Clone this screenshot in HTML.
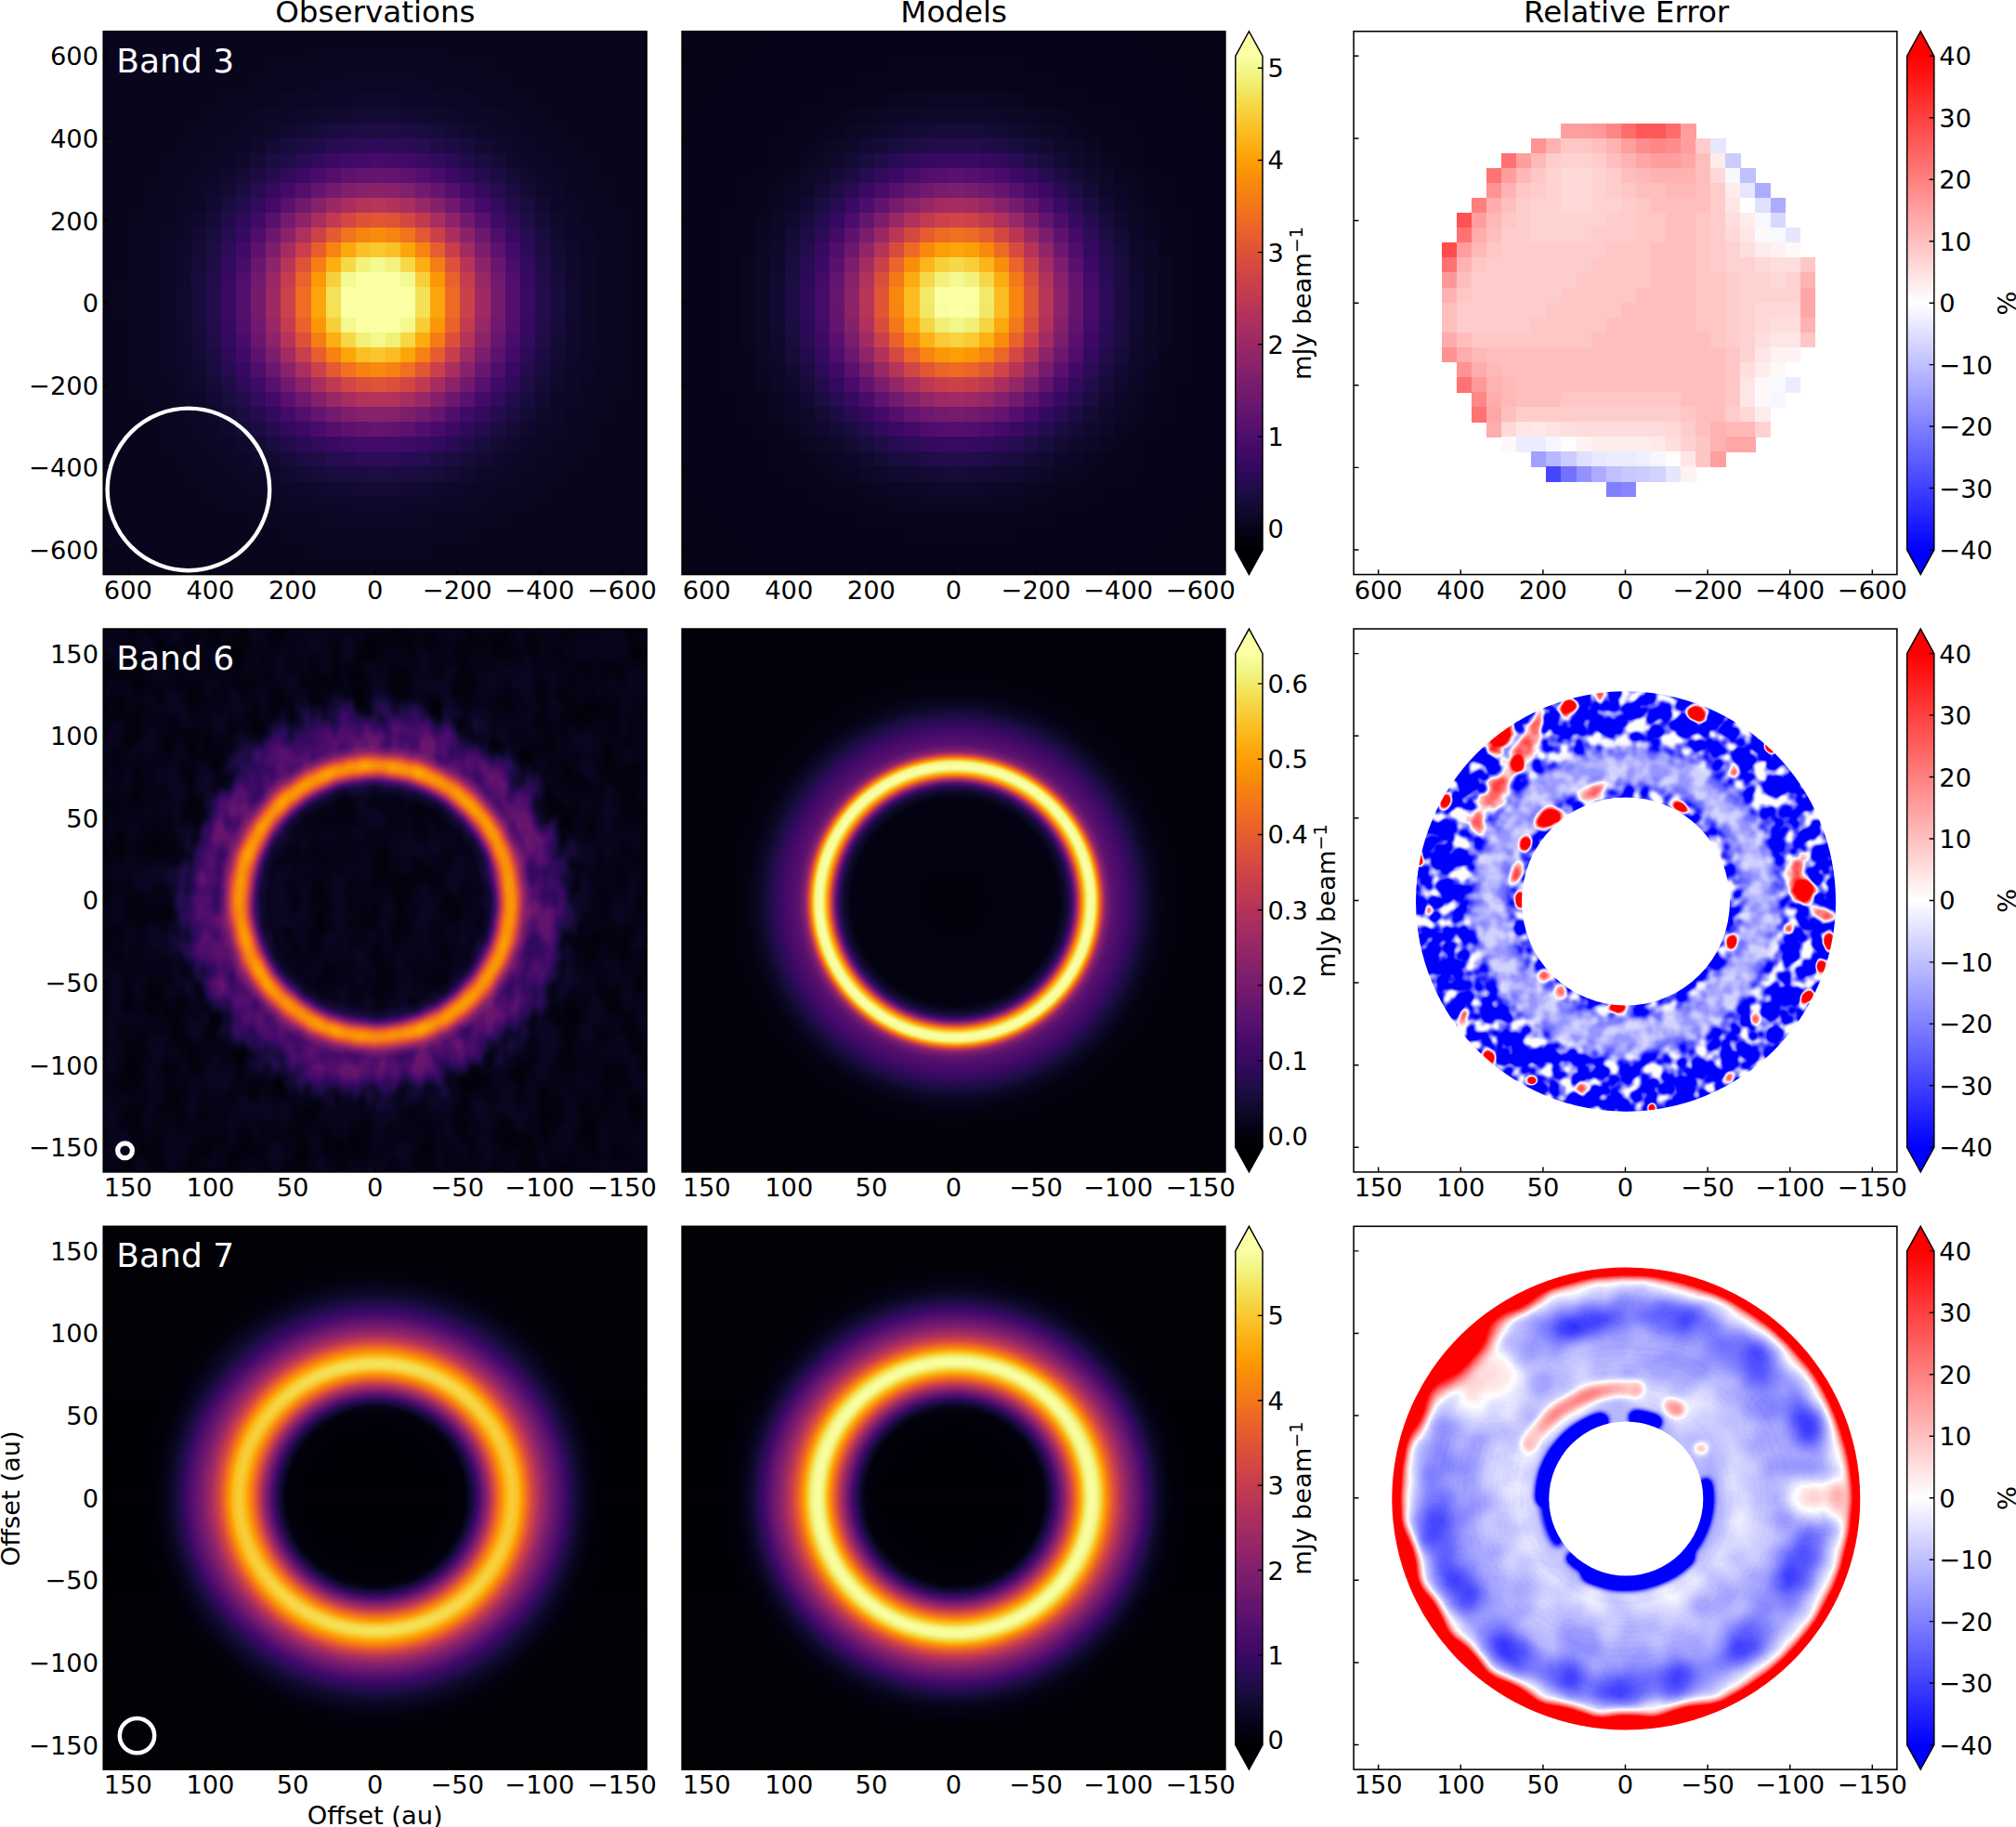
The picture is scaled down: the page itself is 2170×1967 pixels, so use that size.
<!DOCTYPE html>
<html lang="en"><head><meta charset="utf-8"><title>Observations, Models, Relative Error</title>
<style>html,body{margin:0;padding:0;background:#fff}svg{display:block}text{font-family:"DejaVu Sans","Liberation Sans",sans-serif}</style>
</head><body>
<svg width="2170" height="1967" viewBox="0 0 2170 1967">
<rect width="2170" height="1967" fill="#fff"/>
<defs>
<clipPath id="cl00"><rect x="111.25" y="33.75" width="584.8" height="584.8"/></clipPath>
<clipPath id="cl01"><rect x="734.1" y="33.75" width="584.8" height="584.8"/></clipPath>
<clipPath id="cl02"><rect x="1457.1" y="33.75" width="584.8" height="584.8"/></clipPath>
<clipPath id="cl10"><rect x="111.25" y="677.04" width="584.8" height="584.8"/></clipPath>
<clipPath id="cl11"><rect x="734.1" y="677.04" width="584.8" height="584.8"/></clipPath>
<clipPath id="cl12"><rect x="1457.1" y="677.04" width="584.8" height="584.8"/></clipPath>
<clipPath id="cl20"><rect x="111.25" y="1320.3" width="584.8" height="584.8"/></clipPath>
<clipPath id="cl21"><rect x="734.1" y="1320.3" width="584.8" height="584.8"/></clipPath>
<clipPath id="cl22"><rect x="1457.1" y="1320.3" width="584.8" height="584.8"/></clipPath>
<radialGradient id="g10" gradientUnits="userSpaceOnUse" cx="403.8" cy="970.5" r="420"><stop offset="0%" stop-color="#050900"/><stop offset="14.52%" stop-color="#060900"/><stop offset="27.14%" stop-color="#070900"/><stop offset="27.38%" stop-color="#080900"/><stop offset="27.62%" stop-color="#0a0900"/><stop offset="27.86%" stop-color="#0b0900"/><stop offset="28.1%" stop-color="#0c0900"/><stop offset="28.33%" stop-color="#0e0900"/><stop offset="28.57%" stop-color="#0f0900"/><stop offset="28.81%" stop-color="#100900"/><stop offset="29.05%" stop-color="#110900"/><stop offset="29.29%" stop-color="#130a00"/><stop offset="29.52%" stop-color="#150a00"/><stop offset="29.76%" stop-color="#180a00"/><stop offset="30%" stop-color="#1e0a00"/><stop offset="30.24%" stop-color="#240b00"/><stop offset="30.48%" stop-color="#2b0b00"/><stop offset="30.71%" stop-color="#310b00"/><stop offset="30.95%" stop-color="#390b00"/><stop offset="31.19%" stop-color="#430c00"/><stop offset="31.43%" stop-color="#4f0c00"/><stop offset="31.67%" stop-color="#5b0c00"/><stop offset="31.9%" stop-color="#670c00"/><stop offset="32.14%" stop-color="#730d00"/><stop offset="32.38%" stop-color="#7f0d00"/><stop offset="32.62%" stop-color="#8b0d00"/><stop offset="32.86%" stop-color="#960d00"/><stop offset="33.1%" stop-color="#9f0d00"/><stop offset="33.33%" stop-color="#a70d00"/><stop offset="33.57%" stop-color="#af0d00"/><stop offset="33.81%" stop-color="#b40d00"/><stop offset="34.05%" stop-color="#b80e00"/><stop offset="34.29%" stop-color="#ba0e00"/><stop offset="34.52%" stop-color="#bd0e00"/><stop offset="34.76%" stop-color="#be0e00"/><stop offset="35%" stop-color="#bd0e00"/><stop offset="35.24%" stop-color="#ba0e00"/><stop offset="35.48%" stop-color="#b70e00"/><stop offset="35.71%" stop-color="#b40e00"/><stop offset="35.95%" stop-color="#ae0e00"/><stop offset="36.19%" stop-color="#a60e00"/><stop offset="36.43%" stop-color="#9e0f00"/><stop offset="36.67%" stop-color="#960f00"/><stop offset="36.9%" stop-color="#8d0f00"/><stop offset="37.14%" stop-color="#830f00"/><stop offset="37.38%" stop-color="#7a0f00"/><stop offset="37.62%" stop-color="#700f00"/><stop offset="37.86%" stop-color="#680f00"/><stop offset="38.1%" stop-color="#600f00"/><stop offset="38.33%" stop-color="#571100"/><stop offset="38.57%" stop-color="#4f1300"/><stop offset="38.81%" stop-color="#491500"/><stop offset="39.05%" stop-color="#441600"/><stop offset="39.29%" stop-color="#3f1800"/><stop offset="39.52%" stop-color="#3b1a00"/><stop offset="39.76%" stop-color="#361c00"/><stop offset="40%" stop-color="#321e00"/><stop offset="40.24%" stop-color="#2e1f00"/><stop offset="40.48%" stop-color="#2c2100"/><stop offset="41.19%" stop-color="#2b2100"/><stop offset="41.9%" stop-color="#2a2100"/><stop offset="42.62%" stop-color="#292100"/><stop offset="43.33%" stop-color="#282100"/><stop offset="44.05%" stop-color="#272100"/><stop offset="44.76%" stop-color="#262100"/><stop offset="45%" stop-color="#252100"/><stop offset="45.24%" stop-color="#232100"/><stop offset="45.48%" stop-color="#222100"/><stop offset="45.71%" stop-color="#202100"/><stop offset="45.95%" stop-color="#1f2100"/><stop offset="46.19%" stop-color="#1d2100"/><stop offset="46.43%" stop-color="#1c2100"/><stop offset="46.67%" stop-color="#1a2100"/><stop offset="46.9%" stop-color="#192100"/><stop offset="47.14%" stop-color="#172100"/><stop offset="47.38%" stop-color="#162100"/><stop offset="47.62%" stop-color="#142100"/><stop offset="47.86%" stop-color="#132100"/><stop offset="48.1%" stop-color="#112100"/><stop offset="48.33%" stop-color="#102100"/><stop offset="48.57%" stop-color="#0e2100"/><stop offset="48.81%" stop-color="#0d2100"/><stop offset="49.05%" stop-color="#0c2000"/><stop offset="49.29%" stop-color="#0b1f00"/><stop offset="49.52%" stop-color="#0a1e00"/><stop offset="49.76%" stop-color="#091d00"/><stop offset="50%" stop-color="#081d00"/><stop offset="50.24%" stop-color="#071c00"/><stop offset="50.48%" stop-color="#061b00"/><stop offset="50.71%" stop-color="#061a00"/><stop offset="50.95%" stop-color="#061900"/><stop offset="51.19%" stop-color="#051800"/><stop offset="51.43%" stop-color="#051700"/><stop offset="51.67%" stop-color="#051600"/><stop offset="51.9%" stop-color="#051500"/><stop offset="52.14%" stop-color="#051400"/><stop offset="52.38%" stop-color="#051300"/><stop offset="52.62%" stop-color="#051200"/><stop offset="52.86%" stop-color="#041200"/><stop offset="53.1%" stop-color="#041100"/><stop offset="53.33%" stop-color="#041000"/><stop offset="53.57%" stop-color="#040f00"/><stop offset="53.81%" stop-color="#040e00"/><stop offset="54.05%" stop-color="#050d00"/><stop offset="54.29%" stop-color="#050c00"/><stop offset="54.52%" stop-color="#060b00"/><stop offset="54.76%" stop-color="#060a00"/><stop offset="56.67%" stop-color="#050a00"/><stop offset="79.76%" stop-color="#050900"/><stop offset="100%" stop-color="#050900"/></radialGradient>
<filter id="f10" filterUnits="userSpaceOnUse" x="111.25" y="677.04" width="584.8" height="584.8" color-interpolation-filters="sRGB"><feTurbulence type="fractalNoise" baseFrequency="0.045 0.028" numOctaves="2" seed="3" result="t"/><feColorMatrix in="t" type="matrix" values="0 0 0 0 1  2.4 0 0 0 -0.7  0 0 0 0 0  0 0 0 0 1" result="n"/><feComposite in="SourceGraphic" in2="n" operator="arithmetic" k1="1" k2="0" k3="0" k4="0" result="p"/><feColorMatrix in="p" type="matrix" values="1 1 0 0 0  1 1 0 0 0  1 1 0 0 0  0 0 0 0 1" result="v"/><feComponentTransfer in="v"><feFuncR type="table" tableValues="0 0.01 0.03 0.06 0.09 0.13 0.17 0.21 0.26 0.3 0.34 0.38 0.42 0.46 0.5 0.54 0.58 0.62 0.66 0.69 0.74 0.77 0.8 0.84 0.87 0.89 0.92 0.94 0.95 0.97 0.98 0.98 0.99 0.99 0.98 0.97 0.96 0.95 0.95 0.96 0.99"/><feFuncG type="table" tableValues="0 0.01 0.02 0.03 0.04 0.05 0.04 0.04 0.04 0.05 0.06 0.08 0.09 0.11 0.12 0.13 0.15 0.16 0.18 0.2 0.22 0.24 0.26 0.29 0.32 0.35 0.39 0.42 0.47 0.51 0.56 0.6 0.65 0.7 0.74 0.8 0.84 0.89 0.94 0.97 1"/><feFuncB type="table" tableValues="0.01 0.06 0.11 0.17 0.22 0.29 0.34 0.38 0.41 0.42 0.43 0.43 0.43 0.43 0.42 0.42 0.4 0.39 0.37 0.35 0.33 0.31 0.28 0.25 0.23 0.19 0.16 0.14 0.1 0.07 0.03 0.02 0.04 0.09 0.14 0.21 0.27 0.35 0.46 0.56 0.64"/></feComponentTransfer></filter>
<radialGradient id="g11" gradientUnits="userSpaceOnUse" cx="1028" cy="970.8" r="420"><stop offset="0%" stop-color="#02020c"/><stop offset="9.29%" stop-color="#02020e"/><stop offset="26.43%" stop-color="#030210"/><stop offset="26.79%" stop-color="#040314"/><stop offset="27.14%" stop-color="#060419"/><stop offset="27.5%" stop-color="#09061f"/><stop offset="27.86%" stop-color="#0b0724"/><stop offset="28.21%" stop-color="#0e092b"/><stop offset="28.57%" stop-color="#120a32"/><stop offset="28.93%" stop-color="#180c3c"/><stop offset="29.29%" stop-color="#210c4a"/><stop offset="29.64%" stop-color="#310a5c"/><stop offset="30%" stop-color="#420a68"/><stop offset="30.36%" stop-color="#550f6d"/><stop offset="30.71%" stop-color="#6f196e"/><stop offset="31.07%" stop-color="#8f2469"/><stop offset="31.43%" stop-color="#b1325a"/><stop offset="31.79%" stop-color="#d34743"/><stop offset="32.14%" stop-color="#eb6628"/><stop offset="32.5%" stop-color="#f8890c"/><stop offset="32.86%" stop-color="#fca80d"/><stop offset="33.21%" stop-color="#f9c72f"/><stop offset="33.57%" stop-color="#f2e661"/><stop offset="33.93%" stop-color="#f4f88e"/><stop offset="34.29%" stop-color="#fafda1"/><stop offset="34.64%" stop-color="#fcffa4"/><stop offset="35.71%" stop-color="#f5f992"/><stop offset="36.07%" stop-color="#f3e35a"/><stop offset="36.43%" stop-color="#fbba1f"/><stop offset="36.79%" stop-color="#fa9008"/><stop offset="37.14%" stop-color="#ee6a24"/><stop offset="37.5%" stop-color="#d84c3e"/><stop offset="37.86%" stop-color="#bc3754"/><stop offset="38.21%" stop-color="#a02a63"/><stop offset="38.57%" stop-color="#88226a"/><stop offset="38.93%" stop-color="#7a1d6d"/><stop offset="39.29%" stop-color="#721a6e"/><stop offset="39.64%" stop-color="#69166e"/><stop offset="40%" stop-color="#61136e"/><stop offset="40.36%" stop-color="#5a116e"/><stop offset="40.71%" stop-color="#57106e"/><stop offset="41.07%" stop-color="#540f6d"/><stop offset="41.43%" stop-color="#520e6d"/><stop offset="41.79%" stop-color="#4f0d6c"/><stop offset="42.14%" stop-color="#4d0d6c"/><stop offset="42.5%" stop-color="#4a0c6b"/><stop offset="42.86%" stop-color="#490b6a"/><stop offset="43.21%" stop-color="#450a69"/><stop offset="43.57%" stop-color="#440a68"/><stop offset="43.93%" stop-color="#400a67"/><stop offset="44.29%" stop-color="#3d0965"/><stop offset="44.64%" stop-color="#390963"/><stop offset="45%" stop-color="#360961"/><stop offset="45.36%" stop-color="#320a5e"/><stop offset="45.71%" stop-color="#2f0a5b"/><stop offset="46.07%" stop-color="#2b0b57"/><stop offset="46.43%" stop-color="#280b53"/><stop offset="46.79%" stop-color="#240c4f"/><stop offset="47.14%" stop-color="#210c4a"/><stop offset="47.5%" stop-color="#1e0c45"/><stop offset="47.86%" stop-color="#1b0c41"/><stop offset="48.21%" stop-color="#180c3c"/><stop offset="48.57%" stop-color="#160b39"/><stop offset="48.93%" stop-color="#140b34"/><stop offset="49.29%" stop-color="#110a30"/><stop offset="49.64%" stop-color="#10092d"/><stop offset="50%" stop-color="#0d0829"/><stop offset="50.36%" stop-color="#0b0724"/><stop offset="50.71%" stop-color="#0a0722"/><stop offset="51.07%" stop-color="#09061f"/><stop offset="51.43%" stop-color="#08051d"/><stop offset="51.79%" stop-color="#07051b"/><stop offset="52.14%" stop-color="#060419"/><stop offset="52.86%" stop-color="#050417"/><stop offset="53.21%" stop-color="#040314"/><stop offset="53.93%" stop-color="#040312"/><stop offset="54.29%" stop-color="#030210"/><stop offset="56.43%" stop-color="#02020e"/><stop offset="59.29%" stop-color="#02020c"/><stop offset="100%" stop-color="#02020c"/></radialGradient>
<radialGradient id="g20v" gradientUnits="userSpaceOnUse" cx="404.5" cy="1612" r="420"><stop offset="0%" stop-color="#010106"/><stop offset="18.57%" stop-color="#010108"/><stop offset="21.79%" stop-color="#02020c"/><stop offset="22.14%" stop-color="#030210"/><stop offset="22.5%" stop-color="#050417"/><stop offset="22.86%" stop-color="#09061f"/><stop offset="23.21%" stop-color="#0d0829"/><stop offset="23.57%" stop-color="#120a32"/><stop offset="23.93%" stop-color="#1b0c41"/><stop offset="24.29%" stop-color="#260c51"/><stop offset="24.64%" stop-color="#310a5c"/><stop offset="25%" stop-color="#3d0965"/><stop offset="25.36%" stop-color="#490b6a"/><stop offset="25.71%" stop-color="#550f6d"/><stop offset="26.07%" stop-color="#62146e"/><stop offset="26.43%" stop-color="#6f196e"/><stop offset="26.79%" stop-color="#7d1e6d"/><stop offset="27.14%" stop-color="#8c2369"/><stop offset="27.5%" stop-color="#9a2865"/><stop offset="27.86%" stop-color="#a62d60"/><stop offset="28.21%" stop-color="#b43359"/><stop offset="28.57%" stop-color="#c03a51"/><stop offset="28.93%" stop-color="#cc4248"/><stop offset="29.29%" stop-color="#d84c3e"/><stop offset="29.64%" stop-color="#e35933"/><stop offset="30%" stop-color="#eb6628"/><stop offset="30.36%" stop-color="#f2741c"/><stop offset="30.71%" stop-color="#f68013"/><stop offset="31.07%" stop-color="#f98c0a"/><stop offset="31.43%" stop-color="#fb9b06"/><stop offset="31.79%" stop-color="#fca80d"/><stop offset="32.14%" stop-color="#fbb81d"/><stop offset="32.5%" stop-color="#f9c72f"/><stop offset="32.86%" stop-color="#f6d543"/><stop offset="33.21%" stop-color="#f4dd4f"/><stop offset="33.57%" stop-color="#f3e35a"/><stop offset="33.93%" stop-color="#f2e661"/><stop offset="34.64%" stop-color="#f3e35a"/><stop offset="35%" stop-color="#f4dd4f"/><stop offset="35.36%" stop-color="#f6d543"/><stop offset="35.71%" stop-color="#f9c932"/><stop offset="36.07%" stop-color="#fbbe23"/><stop offset="36.43%" stop-color="#fcb014"/><stop offset="36.79%" stop-color="#fca50a"/><stop offset="37.14%" stop-color="#fb9706"/><stop offset="37.5%" stop-color="#f98c0a"/><stop offset="37.86%" stop-color="#f68013"/><stop offset="38.21%" stop-color="#f2741c"/><stop offset="38.57%" stop-color="#ed6925"/><stop offset="38.93%" stop-color="#e65d2f"/><stop offset="39.29%" stop-color="#df5337"/><stop offset="39.64%" stop-color="#d54a41"/><stop offset="40%" stop-color="#cc4248"/><stop offset="40.36%" stop-color="#c33b4f"/><stop offset="40.71%" stop-color="#b93556"/><stop offset="41.07%" stop-color="#b0315b"/><stop offset="41.43%" stop-color="#a62d60"/><stop offset="41.79%" stop-color="#9f2a63"/><stop offset="42.14%" stop-color="#972766"/><stop offset="42.5%" stop-color="#8d2369"/><stop offset="42.86%" stop-color="#87216b"/><stop offset="43.21%" stop-color="#801f6c"/><stop offset="43.57%" stop-color="#7a1d6d"/><stop offset="43.93%" stop-color="#741a6e"/><stop offset="44.29%" stop-color="#6d186e"/><stop offset="44.64%" stop-color="#67166e"/><stop offset="45%" stop-color="#61136e"/><stop offset="45.36%" stop-color="#5c126e"/><stop offset="45.71%" stop-color="#550f6d"/><stop offset="46.07%" stop-color="#510e6c"/><stop offset="46.43%" stop-color="#4c0c6b"/><stop offset="46.79%" stop-color="#450a69"/><stop offset="47.14%" stop-color="#400a67"/><stop offset="47.5%" stop-color="#3b0964"/><stop offset="47.86%" stop-color="#380962"/><stop offset="48.21%" stop-color="#320a5e"/><stop offset="48.57%" stop-color="#2f0a5b"/><stop offset="48.93%" stop-color="#290b55"/><stop offset="49.29%" stop-color="#260c51"/><stop offset="49.64%" stop-color="#210c4a"/><stop offset="50%" stop-color="#1e0c45"/><stop offset="50.36%" stop-color="#1b0c41"/><stop offset="50.71%" stop-color="#180c3c"/><stop offset="51.07%" stop-color="#150b37"/><stop offset="51.43%" stop-color="#120a32"/><stop offset="51.79%" stop-color="#110a30"/><stop offset="52.14%" stop-color="#0e092b"/><stop offset="52.5%" stop-color="#0c0826"/><stop offset="52.86%" stop-color="#0b0724"/><stop offset="53.21%" stop-color="#0a0722"/><stop offset="53.57%" stop-color="#09061f"/><stop offset="53.93%" stop-color="#08051d"/><stop offset="54.29%" stop-color="#07051b"/><stop offset="54.64%" stop-color="#060419"/><stop offset="55%" stop-color="#050417"/><stop offset="55.36%" stop-color="#040314"/><stop offset="55.71%" stop-color="#040312"/><stop offset="56.07%" stop-color="#030210"/><stop offset="56.79%" stop-color="#02020e"/><stop offset="58.21%" stop-color="#02020c"/><stop offset="59.29%" stop-color="#02010a"/><stop offset="60.36%" stop-color="#010108"/><stop offset="61.43%" stop-color="#010106"/><stop offset="100%" stop-color="#010106"/></radialGradient>
<radialGradient id="g21v" gradientUnits="userSpaceOnUse" cx="1027.5" cy="1612" r="420"><stop offset="0%" stop-color="#010106"/><stop offset="18.57%" stop-color="#010108"/><stop offset="21.79%" stop-color="#02020c"/><stop offset="22.14%" stop-color="#030210"/><stop offset="22.5%" stop-color="#050417"/><stop offset="22.86%" stop-color="#08051d"/><stop offset="23.21%" stop-color="#0b0724"/><stop offset="23.57%" stop-color="#10092d"/><stop offset="23.93%" stop-color="#160b39"/><stop offset="24.29%" stop-color="#1e0c45"/><stop offset="24.64%" stop-color="#280b53"/><stop offset="25%" stop-color="#320a5e"/><stop offset="25.36%" stop-color="#400a67"/><stop offset="25.71%" stop-color="#4d0d6c"/><stop offset="26.07%" stop-color="#5a116e"/><stop offset="26.43%" stop-color="#67166e"/><stop offset="26.79%" stop-color="#751b6e"/><stop offset="27.14%" stop-color="#84206b"/><stop offset="27.5%" stop-color="#922568"/><stop offset="27.86%" stop-color="#a02a63"/><stop offset="28.21%" stop-color="#ad305d"/><stop offset="28.57%" stop-color="#ba3655"/><stop offset="28.93%" stop-color="#c83f4b"/><stop offset="29.29%" stop-color="#d44842"/><stop offset="29.64%" stop-color="#e05536"/><stop offset="30%" stop-color="#e9612b"/><stop offset="30.36%" stop-color="#f06f20"/><stop offset="30.71%" stop-color="#f67e14"/><stop offset="31.07%" stop-color="#f98e09"/><stop offset="31.43%" stop-color="#fb9d07"/><stop offset="31.79%" stop-color="#fcae12"/><stop offset="32.14%" stop-color="#fbbe23"/><stop offset="32.5%" stop-color="#f8cd37"/><stop offset="32.86%" stop-color="#f5db4c"/><stop offset="33.21%" stop-color="#f2ea69"/><stop offset="33.57%" stop-color="#f2f482"/><stop offset="33.93%" stop-color="#f5f992"/><stop offset="34.29%" stop-color="#f9fc9d"/><stop offset="34.64%" stop-color="#fafda1"/><stop offset="35.36%" stop-color="#f8fb9a"/><stop offset="35.71%" stop-color="#f4f88e"/><stop offset="36.07%" stop-color="#f1ef75"/><stop offset="36.43%" stop-color="#f3e35a"/><stop offset="36.79%" stop-color="#f6d543"/><stop offset="37.14%" stop-color="#fac42a"/><stop offset="37.5%" stop-color="#fcb014"/><stop offset="37.86%" stop-color="#fc9f07"/><stop offset="38.21%" stop-color="#f98c0a"/><stop offset="38.57%" stop-color="#f57d15"/><stop offset="38.93%" stop-color="#f06f20"/><stop offset="39.29%" stop-color="#e9612b"/><stop offset="39.64%" stop-color="#e15635"/><stop offset="40%" stop-color="#d94d3d"/><stop offset="40.36%" stop-color="#cf4446"/><stop offset="40.71%" stop-color="#c63d4d"/><stop offset="41.07%" stop-color="#bd3853"/><stop offset="41.43%" stop-color="#b43359"/><stop offset="41.79%" stop-color="#ab2f5e"/><stop offset="42.14%" stop-color="#a32c61"/><stop offset="42.5%" stop-color="#9a2865"/><stop offset="42.86%" stop-color="#932667"/><stop offset="43.21%" stop-color="#8c2369"/><stop offset="43.57%" stop-color="#84206b"/><stop offset="43.93%" stop-color="#7d1e6d"/><stop offset="44.29%" stop-color="#771c6d"/><stop offset="44.64%" stop-color="#71196e"/><stop offset="45%" stop-color="#6a176e"/><stop offset="45.36%" stop-color="#65156e"/><stop offset="45.71%" stop-color="#5f136e"/><stop offset="46.07%" stop-color="#5a116e"/><stop offset="46.43%" stop-color="#550f6d"/><stop offset="46.79%" stop-color="#4f0d6c"/><stop offset="47.14%" stop-color="#4a0c6b"/><stop offset="47.5%" stop-color="#450a69"/><stop offset="47.86%" stop-color="#3e0966"/><stop offset="48.21%" stop-color="#390963"/><stop offset="48.57%" stop-color="#340a5f"/><stop offset="48.93%" stop-color="#2f0a5b"/><stop offset="49.29%" stop-color="#290b55"/><stop offset="49.64%" stop-color="#240c4f"/><stop offset="50%" stop-color="#210c4a"/><stop offset="50.36%" stop-color="#1c0c43"/><stop offset="50.71%" stop-color="#190c3e"/><stop offset="51.07%" stop-color="#150b37"/><stop offset="51.43%" stop-color="#120a32"/><stop offset="51.79%" stop-color="#10092d"/><stop offset="52.14%" stop-color="#0e092b"/><stop offset="52.5%" stop-color="#0c0826"/><stop offset="52.86%" stop-color="#0a0722"/><stop offset="53.21%" stop-color="#09061f"/><stop offset="53.57%" stop-color="#07051b"/><stop offset="53.93%" stop-color="#060419"/><stop offset="54.29%" stop-color="#050417"/><stop offset="54.64%" stop-color="#040314"/><stop offset="55.36%" stop-color="#040312"/><stop offset="56.07%" stop-color="#030210"/><stop offset="56.79%" stop-color="#02020e"/><stop offset="57.5%" stop-color="#02020c"/><stop offset="58.21%" stop-color="#02010a"/><stop offset="58.93%" stop-color="#010108"/><stop offset="65.36%" stop-color="#010106"/><stop offset="100%" stop-color="#010106"/></radialGradient>
<linearGradient id="vmg" gradientUnits="userSpaceOnUse" x1="0" y1="1462" x2="0" y2="1762"><stop offset="0" stop-color="#ffffff"/><stop offset="0.08" stop-color="#b1b1b1"/><stop offset="0.17" stop-color="#717171"/><stop offset="0.25" stop-color="#404040"/><stop offset="0.33" stop-color="#1c1c1c"/><stop offset="0.42" stop-color="#070707"/><stop offset="0.5" stop-color="#000000"/><stop offset="0.58" stop-color="#070707"/><stop offset="0.67" stop-color="#1c1c1c"/><stop offset="0.75" stop-color="#404040"/><stop offset="0.83" stop-color="#717171"/><stop offset="0.92" stop-color="#b1b1b1"/><stop offset="1" stop-color="#ffffff"/></linearGradient>
<mask id="vm" maskUnits="userSpaceOnUse" x="100" y="1320.3" width="1230" height="584.8"><rect x="100" y="1320.3" width="1230" height="584.8" fill="url(#vmg)"/></mask>
<radialGradient id="g20" gradientUnits="userSpaceOnUse" cx="404.5" cy="1612" r="420"><stop offset="0%" stop-color="#010106"/><stop offset="19.64%" stop-color="#010108"/><stop offset="22.86%" stop-color="#02020e"/><stop offset="23.21%" stop-color="#040314"/><stop offset="23.57%" stop-color="#08051d"/><stop offset="23.93%" stop-color="#0c0826"/><stop offset="24.29%" stop-color="#110a30"/><stop offset="24.64%" stop-color="#160b39"/><stop offset="25%" stop-color="#1c0c43"/><stop offset="25.36%" stop-color="#260c51"/><stop offset="25.71%" stop-color="#310a5c"/><stop offset="26.07%" stop-color="#3d0965"/><stop offset="26.43%" stop-color="#490b6a"/><stop offset="26.79%" stop-color="#520e6d"/><stop offset="27.14%" stop-color="#5f136e"/><stop offset="27.5%" stop-color="#6a176e"/><stop offset="27.86%" stop-color="#771c6d"/><stop offset="28.21%" stop-color="#84206b"/><stop offset="28.57%" stop-color="#902568"/><stop offset="28.93%" stop-color="#9f2a63"/><stop offset="29.29%" stop-color="#ae305c"/><stop offset="29.64%" stop-color="#bd3853"/><stop offset="30%" stop-color="#cb4149"/><stop offset="30.36%" stop-color="#d84c3e"/><stop offset="30.71%" stop-color="#e25734"/><stop offset="31.07%" stop-color="#ea632a"/><stop offset="31.43%" stop-color="#f06f20"/><stop offset="31.79%" stop-color="#f57b17"/><stop offset="32.14%" stop-color="#f8890c"/><stop offset="32.5%" stop-color="#fb9606"/><stop offset="32.86%" stop-color="#fca108"/><stop offset="33.21%" stop-color="#fcae12"/><stop offset="33.57%" stop-color="#fbb81d"/><stop offset="33.93%" stop-color="#fac026"/><stop offset="34.29%" stop-color="#fac62d"/><stop offset="34.64%" stop-color="#f9cb35"/><stop offset="35%" stop-color="#f8cd37"/><stop offset="35.36%" stop-color="#f9cb35"/><stop offset="35.71%" stop-color="#f9c72f"/><stop offset="36.07%" stop-color="#fac42a"/><stop offset="36.43%" stop-color="#fbbe23"/><stop offset="36.79%" stop-color="#fcb418"/><stop offset="37.14%" stop-color="#fca60c"/><stop offset="37.5%" stop-color="#fb9906"/><stop offset="37.86%" stop-color="#f98c0a"/><stop offset="38.21%" stop-color="#f68013"/><stop offset="38.57%" stop-color="#f1731d"/><stop offset="38.93%" stop-color="#eb6628"/><stop offset="39.29%" stop-color="#e55c30"/><stop offset="39.64%" stop-color="#de5238"/><stop offset="40%" stop-color="#d54a41"/><stop offset="40.36%" stop-color="#ce4347"/><stop offset="40.71%" stop-color="#c73e4c"/><stop offset="41.07%" stop-color="#bf3952"/><stop offset="41.43%" stop-color="#b63458"/><stop offset="41.79%" stop-color="#ad305d"/><stop offset="42.14%" stop-color="#a52c60"/><stop offset="42.5%" stop-color="#9d2964"/><stop offset="42.86%" stop-color="#972766"/><stop offset="43.21%" stop-color="#902568"/><stop offset="43.57%" stop-color="#8a226a"/><stop offset="43.93%" stop-color="#84206b"/><stop offset="44.29%" stop-color="#7d1e6d"/><stop offset="44.64%" stop-color="#771c6d"/><stop offset="45%" stop-color="#71196e"/><stop offset="45.36%" stop-color="#6c186e"/><stop offset="45.71%" stop-color="#67166e"/><stop offset="46.07%" stop-color="#62146e"/><stop offset="46.43%" stop-color="#5d126e"/><stop offset="46.79%" stop-color="#5a116e"/><stop offset="47.14%" stop-color="#550f6d"/><stop offset="47.5%" stop-color="#4f0d6c"/><stop offset="47.86%" stop-color="#4a0c6b"/><stop offset="48.21%" stop-color="#440a68"/><stop offset="48.57%" stop-color="#3e0966"/><stop offset="48.93%" stop-color="#380962"/><stop offset="49.29%" stop-color="#310a5c"/><stop offset="49.64%" stop-color="#2b0b57"/><stop offset="50%" stop-color="#260c51"/><stop offset="50.36%" stop-color="#210c4a"/><stop offset="50.71%" stop-color="#1e0c45"/><stop offset="51.07%" stop-color="#190c3e"/><stop offset="51.43%" stop-color="#160b39"/><stop offset="51.79%" stop-color="#140b34"/><stop offset="52.14%" stop-color="#10092d"/><stop offset="52.5%" stop-color="#0d0829"/><stop offset="52.86%" stop-color="#0b0724"/><stop offset="53.21%" stop-color="#0a0722"/><stop offset="53.57%" stop-color="#08051d"/><stop offset="53.93%" stop-color="#07051b"/><stop offset="54.29%" stop-color="#060419"/><stop offset="54.64%" stop-color="#050417"/><stop offset="55%" stop-color="#040314"/><stop offset="55.36%" stop-color="#040312"/><stop offset="55.71%" stop-color="#030210"/><stop offset="56.07%" stop-color="#02020c"/><stop offset="56.79%" stop-color="#02010a"/><stop offset="58.93%" stop-color="#010108"/><stop offset="61.07%" stop-color="#010106"/><stop offset="100%" stop-color="#010106"/></radialGradient>
<radialGradient id="g21" gradientUnits="userSpaceOnUse" cx="1027.5" cy="1612" r="420"><stop offset="0%" stop-color="#010106"/><stop offset="19.29%" stop-color="#010108"/><stop offset="22.5%" stop-color="#02020c"/><stop offset="22.86%" stop-color="#040312"/><stop offset="23.21%" stop-color="#060419"/><stop offset="23.57%" stop-color="#0a0722"/><stop offset="23.93%" stop-color="#0e092b"/><stop offset="24.29%" stop-color="#140b34"/><stop offset="24.64%" stop-color="#1b0c41"/><stop offset="25%" stop-color="#240c4f"/><stop offset="25.36%" stop-color="#2f0a5b"/><stop offset="25.71%" stop-color="#390963"/><stop offset="26.07%" stop-color="#450a69"/><stop offset="26.43%" stop-color="#4f0d6c"/><stop offset="26.79%" stop-color="#5a116e"/><stop offset="27.14%" stop-color="#67166e"/><stop offset="27.5%" stop-color="#721a6e"/><stop offset="27.86%" stop-color="#7f1e6c"/><stop offset="28.21%" stop-color="#8c2369"/><stop offset="28.57%" stop-color="#982766"/><stop offset="28.93%" stop-color="#a82e5f"/><stop offset="29.29%" stop-color="#b63458"/><stop offset="29.64%" stop-color="#c43c4e"/><stop offset="30%" stop-color="#d24644"/><stop offset="30.36%" stop-color="#dd513a"/><stop offset="30.71%" stop-color="#e75e2e"/><stop offset="31.07%" stop-color="#ef6c23"/><stop offset="31.43%" stop-color="#f57d15"/><stop offset="31.79%" stop-color="#f98e09"/><stop offset="32.14%" stop-color="#fc9f07"/><stop offset="32.5%" stop-color="#fcb216"/><stop offset="32.86%" stop-color="#fac62d"/><stop offset="33.21%" stop-color="#f5d949"/><stop offset="33.57%" stop-color="#f2ea69"/><stop offset="33.93%" stop-color="#f3f586"/><stop offset="34.29%" stop-color="#f5f992"/><stop offset="34.64%" stop-color="#f9fc9d"/><stop offset="35%" stop-color="#fafda1"/><stop offset="35.71%" stop-color="#f9fc9d"/><stop offset="36.07%" stop-color="#f6fa96"/><stop offset="36.43%" stop-color="#f3f68a"/><stop offset="36.79%" stop-color="#f1f179"/><stop offset="37.14%" stop-color="#f3e35a"/><stop offset="37.5%" stop-color="#f7d340"/><stop offset="37.86%" stop-color="#fac228"/><stop offset="38.21%" stop-color="#fcb216"/><stop offset="38.57%" stop-color="#fca108"/><stop offset="38.93%" stop-color="#fa9207"/><stop offset="39.29%" stop-color="#f78212"/><stop offset="39.64%" stop-color="#f2741c"/><stop offset="40%" stop-color="#ec6726"/><stop offset="40.36%" stop-color="#e65d2f"/><stop offset="40.71%" stop-color="#df5337"/><stop offset="41.07%" stop-color="#d84c3e"/><stop offset="41.43%" stop-color="#cf4446"/><stop offset="41.79%" stop-color="#c73e4c"/><stop offset="42.14%" stop-color="#bf3952"/><stop offset="42.5%" stop-color="#b63458"/><stop offset="42.86%" stop-color="#ae305c"/><stop offset="43.21%" stop-color="#a62d60"/><stop offset="43.57%" stop-color="#9f2a63"/><stop offset="43.93%" stop-color="#972766"/><stop offset="44.29%" stop-color="#8f2469"/><stop offset="44.64%" stop-color="#87216b"/><stop offset="45%" stop-color="#82206c"/><stop offset="45.36%" stop-color="#7c1d6d"/><stop offset="45.71%" stop-color="#751b6e"/><stop offset="46.07%" stop-color="#71196e"/><stop offset="46.43%" stop-color="#6a176e"/><stop offset="46.79%" stop-color="#64156e"/><stop offset="47.14%" stop-color="#5f136e"/><stop offset="47.5%" stop-color="#59106e"/><stop offset="47.86%" stop-color="#520e6d"/><stop offset="48.21%" stop-color="#4c0c6b"/><stop offset="48.57%" stop-color="#450a69"/><stop offset="48.93%" stop-color="#3e0966"/><stop offset="49.29%" stop-color="#390963"/><stop offset="49.64%" stop-color="#320a5e"/><stop offset="50%" stop-color="#2d0b59"/><stop offset="50.36%" stop-color="#280b53"/><stop offset="50.71%" stop-color="#230c4c"/><stop offset="51.07%" stop-color="#1e0c45"/><stop offset="51.43%" stop-color="#180c3c"/><stop offset="51.79%" stop-color="#140b34"/><stop offset="52.14%" stop-color="#10092d"/><stop offset="52.5%" stop-color="#0d0829"/><stop offset="52.86%" stop-color="#0c0826"/><stop offset="53.21%" stop-color="#0a0722"/><stop offset="53.57%" stop-color="#09061f"/><stop offset="53.93%" stop-color="#07051b"/><stop offset="54.29%" stop-color="#050417"/><stop offset="54.64%" stop-color="#040314"/><stop offset="55%" stop-color="#040312"/><stop offset="55.36%" stop-color="#030210"/><stop offset="56.07%" stop-color="#02020e"/><stop offset="57.14%" stop-color="#02020c"/><stop offset="58.21%" stop-color="#02010a"/><stop offset="59.29%" stop-color="#010108"/><stop offset="60.36%" stop-color="#010106"/><stop offset="100%" stop-color="#010106"/></radialGradient>
<radialGradient id="rb"><stop offset="0" stop-color="#ff0000"/><stop offset=".38" stop-color="#ff0000"/><stop offset=".55" stop-color="#ff8080"/><stop offset=".72" stop-color="#ffffff"/><stop offset="1" stop-color="#ffffff" stop-opacity="0"/></radialGradient>
<radialGradient id="pb"><stop offset="0" stop-color="#ff9090"/><stop offset=".35" stop-color="#ffb0b0"/><stop offset=".65" stop-color="#ffffff"/><stop offset="1" stop-color="#ffffff" stop-opacity="0"/></radialGradient>
<radialGradient id="wb"><stop offset="0" stop-color="#ffffff"/><stop offset=".45" stop-color="#ffffff"/><stop offset="1" stop-color="#ffffff" stop-opacity="0"/></radialGradient>
<radialGradient id="bb"><stop offset="0" stop-color="#0000ff"/><stop offset=".55" stop-color="#0000ff"/><stop offset="1" stop-color="#0000ff" stop-opacity="0"/></radialGradient>
<clipPath id="an2"><path clip-rule="evenodd" d="M1524 970.5a226 226 0 1 0 452 0a226 226 0 1 0 -452 0zM1638 970.5a112 112 0 1 0 224 0a112 112 0 1 0 -224 0z"/></clipPath>
<radialGradient id="e2" gradientUnits="userSpaceOnUse" cx="1750" cy="970.5" r="226"><stop offset="0%" stop-color="#3c4400"/><stop offset="49.56%" stop-color="#3c4400"/><stop offset="53.1%" stop-color="#463900"/><stop offset="57.08%" stop-color="#651500"/><stop offset="61.95%" stop-color="#6e0a00"/><stop offset="67.26%" stop-color="#6e0a00"/><stop offset="71.68%" stop-color="#641500"/><stop offset="76.11%" stop-color="#463900"/><stop offset="80.53%" stop-color="#344c00"/><stop offset="86.28%" stop-color="#295700"/><stop offset="100%" stop-color="#275900"/></radialGradient>
<filter id="f2" filterUnits="userSpaceOnUse" x="1518" y="738.5" width="464" height="464" color-interpolation-filters="sRGB"><feTurbulence type="fractalNoise" baseFrequency="0.062" numOctaves="2" seed="11" result="t"/><feColorMatrix in="t" type="matrix" values="0 0 0 0 1  2.8 0 0 0 -0.9  0 0 0 0 0  0 0 0 0 1" result="n"/><feComposite in="SourceGraphic" in2="n" operator="arithmetic" k1="1" k2="0" k3="0" k4="0" result="p"/><feColorMatrix in="p" type="matrix" values="1 1 0 0 0  1 1 0 0 0  1 1 0 0 0  0 0 0 0 1" result="v0"/><feGaussianBlur in="v0" stdDeviation="1.3" result="v"/><feComponentTransfer in="v"><feFuncR type="table" tableValues="0 0 0 0 0 .5 1 1 1 1 1 1 1"/><feFuncG type="table" tableValues="0 0 0 0 0 .5 1 .5 0 0 0 0 0"/><feFuncB type="table" tableValues="1 1 1 1 1 1 1 .5 0 0 0 0 0"/></feComponentTransfer></filter>
<radialGradient id="vb0"><stop offset="0" stop-color="#df0b00"/><stop offset="0.25" stop-color="#df0b00"/><stop offset="1" stop-color="#df0b00" stop-opacity="0"/></radialGradient>
<radialGradient id="vb1"><stop offset="0" stop-color="#940b00"/><stop offset="0.3" stop-color="#940b00"/><stop offset="1" stop-color="#940b00" stop-opacity="0"/></radialGradient>
<clipPath id="an3"><path clip-rule="evenodd" d="M1498.3 1613.5a252 249 0 1 0 504 0a252 249 0 1 0 -504 0zM1667.3 1613.5a83 83 0 1 0 166 0a83 83 0 1 0 -166 0z"/></clipPath>
<radialGradient id="e3" gradientUnits="userSpaceOnUse" cx="1750.3" cy="1613.5" r="256"><stop offset="0%" stop-color="#6e0800"/><stop offset="32.42%" stop-color="#6e0800"/><stop offset="37.5%" stop-color="#710800"/><stop offset="42.19%" stop-color="#750800"/><stop offset="46.88%" stop-color="#760800"/><stop offset="52.73%" stop-color="#720800"/><stop offset="62.5%" stop-color="#6e0800"/><stop offset="72.27%" stop-color="#6b0800"/><stop offset="78.12%" stop-color="#680800"/><stop offset="83.98%" stop-color="#6a0800"/><stop offset="88.67%" stop-color="#730800"/><stop offset="91.99%" stop-color="#7b0800"/><stop offset="94.34%" stop-color="#930800"/><stop offset="95.9%" stop-color="#bd0800"/><stop offset="100%" stop-color="#c60800"/></radialGradient>
<filter id="f3" filterUnits="userSpaceOnUse" x="1492.3" y="1355.5" width="516" height="516" color-interpolation-filters="sRGB"><feTurbulence type="fractalNoise" baseFrequency="0.022" numOctaves="2" seed="4" result="t"/><feColorMatrix in="t" type="matrix" values="0 0 0 0 1  2.4 0 0 0 -0.7  0 0 0 0 0  0 0 0 0 1" result="n"/><feGaussianBlur in="SourceGraphic" stdDeviation="3.2" result="sg"/><feComposite in="sg" in2="n" operator="arithmetic" k1="1" k2="0" k3="0" k4="0" result="p"/><feColorMatrix in="p" type="matrix" values="1 1 0 0 0  1 1 0 0 0  1 1 0 0 0  0 0 0 0 1" result="v0"/><feOffset in="v0" result="v"/><feComponentTransfer in="v"><feFuncR type="table" tableValues="0 0 0 0 0 .5 1 1 1 1 1 1 1"/><feFuncG type="table" tableValues="0 0 0 0 0 .5 1 .5 0 0 0 0 0"/><feFuncB type="table" tableValues="1 1 1 1 1 1 1 .5 0 0 0 0 0"/></feComponentTransfer></filter>
<radialGradient id="sg0"><stop offset="0" stop-color="#5c0800" stop-opacity="1"/><stop offset="0.2" stop-color="#5c0800" stop-opacity="0.92"/><stop offset="0.35" stop-color="#5c0800" stop-opacity="0.76"/><stop offset="0.5" stop-color="#5c0800" stop-opacity="0.52"/><stop offset="0.65" stop-color="#5c0800" stop-opacity="0.29"/><stop offset="0.8" stop-color="#5c0800" stop-opacity="0.12"/><stop offset="0.9" stop-color="#5c0800" stop-opacity="0.04"/><stop offset="1" stop-color="#5c0800" stop-opacity="0"/></radialGradient>
<radialGradient id="sg1"><stop offset="0" stop-color="#860800" stop-opacity="1"/><stop offset="0.2" stop-color="#860800" stop-opacity="0.92"/><stop offset="0.35" stop-color="#860800" stop-opacity="0.76"/><stop offset="0.5" stop-color="#860800" stop-opacity="0.52"/><stop offset="0.65" stop-color="#860800" stop-opacity="0.29"/><stop offset="0.8" stop-color="#860800" stop-opacity="0.12"/><stop offset="0.9" stop-color="#860800" stop-opacity="0.04"/><stop offset="1" stop-color="#860800" stop-opacity="0"/></radialGradient>
<radialGradient id="sg2"><stop offset="0" stop-color="#bd0800" stop-opacity="1"/><stop offset="0.2" stop-color="#bd0800" stop-opacity="0.92"/><stop offset="0.35" stop-color="#bd0800" stop-opacity="0.76"/><stop offset="0.5" stop-color="#bd0800" stop-opacity="0.52"/><stop offset="0.65" stop-color="#bd0800" stop-opacity="0.29"/><stop offset="0.8" stop-color="#bd0800" stop-opacity="0.12"/><stop offset="0.9" stop-color="#bd0800" stop-opacity="0.04"/><stop offset="1" stop-color="#bd0800" stop-opacity="0"/></radialGradient>
<radialGradient id="sg3"><stop offset="0" stop-color="#b00800" stop-opacity="1"/><stop offset="0.2" stop-color="#b00800" stop-opacity="0.92"/><stop offset="0.35" stop-color="#b00800" stop-opacity="0.76"/><stop offset="0.5" stop-color="#b00800" stop-opacity="0.52"/><stop offset="0.65" stop-color="#b00800" stop-opacity="0.29"/><stop offset="0.8" stop-color="#b00800" stop-opacity="0.12"/><stop offset="0.9" stop-color="#b00800" stop-opacity="0.04"/><stop offset="1" stop-color="#b00800" stop-opacity="0"/></radialGradient>
<radialGradient id="sg4"><stop offset="0" stop-color="#850800" stop-opacity="1"/><stop offset="0.2" stop-color="#850800" stop-opacity="0.92"/><stop offset="0.35" stop-color="#850800" stop-opacity="0.76"/><stop offset="0.5" stop-color="#850800" stop-opacity="0.52"/><stop offset="0.65" stop-color="#850800" stop-opacity="0.29"/><stop offset="0.8" stop-color="#850800" stop-opacity="0.12"/><stop offset="0.9" stop-color="#850800" stop-opacity="0.04"/><stop offset="1" stop-color="#850800" stop-opacity="0"/></radialGradient>
<radialGradient id="sg5"><stop offset="0" stop-color="#8a0800" stop-opacity="1"/><stop offset="0.2" stop-color="#8a0800" stop-opacity="0.92"/><stop offset="0.35" stop-color="#8a0800" stop-opacity="0.76"/><stop offset="0.5" stop-color="#8a0800" stop-opacity="0.52"/><stop offset="0.65" stop-color="#8a0800" stop-opacity="0.29"/><stop offset="0.8" stop-color="#8a0800" stop-opacity="0.12"/><stop offset="0.9" stop-color="#8a0800" stop-opacity="0.04"/><stop offset="1" stop-color="#8a0800" stop-opacity="0"/></radialGradient>
<radialGradient id="sg6"><stop offset="0" stop-color="#d60800" stop-opacity="1"/><stop offset="0.2" stop-color="#d60800" stop-opacity="0.92"/><stop offset="0.35" stop-color="#d60800" stop-opacity="0.76"/><stop offset="0.5" stop-color="#d60800" stop-opacity="0.52"/><stop offset="0.65" stop-color="#d60800" stop-opacity="0.29"/><stop offset="0.8" stop-color="#d60800" stop-opacity="0.12"/><stop offset="0.9" stop-color="#d60800" stop-opacity="0.04"/><stop offset="1" stop-color="#d60800" stop-opacity="0"/></radialGradient>
<linearGradient id="cb0" gradientUnits="userSpaceOnUse" x1="0" y1="60.33" x2="0" y2="591.97"><stop offset="0%" stop-color="#fcffa4"/><stop offset="2.08%" stop-color="#f5f992"/><stop offset="4.17%" stop-color="#f2f27d"/><stop offset="6.25%" stop-color="#f2ea69"/><stop offset="8.33%" stop-color="#f4df53"/><stop offset="10.42%" stop-color="#f6d543"/><stop offset="12.5%" stop-color="#f9cb35"/><stop offset="14.58%" stop-color="#fac026"/><stop offset="16.67%" stop-color="#fbb61a"/><stop offset="18.75%" stop-color="#fcac11"/><stop offset="20.83%" stop-color="#fca108"/><stop offset="22.92%" stop-color="#fb9706"/><stop offset="25%" stop-color="#f98e09"/><stop offset="27.08%" stop-color="#f78410"/><stop offset="29.17%" stop-color="#f57b17"/><stop offset="31.25%" stop-color="#f1731d"/><stop offset="33.33%" stop-color="#ed6925"/><stop offset="35.42%" stop-color="#e9612b"/><stop offset="37.5%" stop-color="#e45a31"/><stop offset="39.58%" stop-color="#de5238"/><stop offset="41.67%" stop-color="#d84c3e"/><stop offset="43.75%" stop-color="#d24644"/><stop offset="45.83%" stop-color="#ca404a"/><stop offset="47.92%" stop-color="#c33b4f"/><stop offset="50%" stop-color="#bc3754"/><stop offset="52.08%" stop-color="#b3325a"/><stop offset="54.17%" stop-color="#ab2f5e"/><stop offset="56.25%" stop-color="#a32c61"/><stop offset="58.33%" stop-color="#9a2865"/><stop offset="60.42%" stop-color="#922568"/><stop offset="62.5%" stop-color="#8a226a"/><stop offset="64.58%" stop-color="#801f6c"/><stop offset="66.67%" stop-color="#781c6d"/><stop offset="68.75%" stop-color="#71196e"/><stop offset="70.83%" stop-color="#67166e"/><stop offset="72.92%" stop-color="#5f136e"/><stop offset="75%" stop-color="#57106e"/><stop offset="77.08%" stop-color="#4d0d6c"/><stop offset="79.17%" stop-color="#450a69"/><stop offset="81.25%" stop-color="#3d0965"/><stop offset="83.33%" stop-color="#320a5e"/><stop offset="85.42%" stop-color="#290b55"/><stop offset="87.5%" stop-color="#210c4a"/><stop offset="89.58%" stop-color="#180c3c"/><stop offset="91.67%" stop-color="#110a30"/><stop offset="93.75%" stop-color="#0b0724"/><stop offset="95.83%" stop-color="#050417"/><stop offset="97.92%" stop-color="#02020c"/><stop offset="100%" stop-color="#000004"/></linearGradient>
<linearGradient id="cb1" gradientUnits="userSpaceOnUse" x1="0" y1="703.62" x2="0" y2="1235.26"><stop offset="0%" stop-color="#fcffa4"/><stop offset="2.08%" stop-color="#f5f992"/><stop offset="4.17%" stop-color="#f2f27d"/><stop offset="6.25%" stop-color="#f2ea69"/><stop offset="8.33%" stop-color="#f4df53"/><stop offset="10.42%" stop-color="#f6d543"/><stop offset="12.5%" stop-color="#f9cb35"/><stop offset="14.58%" stop-color="#fac026"/><stop offset="16.67%" stop-color="#fbb61a"/><stop offset="18.75%" stop-color="#fcac11"/><stop offset="20.83%" stop-color="#fca108"/><stop offset="22.92%" stop-color="#fb9706"/><stop offset="25%" stop-color="#f98e09"/><stop offset="27.08%" stop-color="#f78410"/><stop offset="29.17%" stop-color="#f57b17"/><stop offset="31.25%" stop-color="#f1731d"/><stop offset="33.33%" stop-color="#ed6925"/><stop offset="35.42%" stop-color="#e9612b"/><stop offset="37.5%" stop-color="#e45a31"/><stop offset="39.58%" stop-color="#de5238"/><stop offset="41.67%" stop-color="#d84c3e"/><stop offset="43.75%" stop-color="#d24644"/><stop offset="45.83%" stop-color="#ca404a"/><stop offset="47.92%" stop-color="#c33b4f"/><stop offset="50%" stop-color="#bc3754"/><stop offset="52.08%" stop-color="#b3325a"/><stop offset="54.17%" stop-color="#ab2f5e"/><stop offset="56.25%" stop-color="#a32c61"/><stop offset="58.33%" stop-color="#9a2865"/><stop offset="60.42%" stop-color="#922568"/><stop offset="62.5%" stop-color="#8a226a"/><stop offset="64.58%" stop-color="#801f6c"/><stop offset="66.67%" stop-color="#781c6d"/><stop offset="68.75%" stop-color="#71196e"/><stop offset="70.83%" stop-color="#67166e"/><stop offset="72.92%" stop-color="#5f136e"/><stop offset="75%" stop-color="#57106e"/><stop offset="77.08%" stop-color="#4d0d6c"/><stop offset="79.17%" stop-color="#450a69"/><stop offset="81.25%" stop-color="#3d0965"/><stop offset="83.33%" stop-color="#320a5e"/><stop offset="85.42%" stop-color="#290b55"/><stop offset="87.5%" stop-color="#210c4a"/><stop offset="89.58%" stop-color="#180c3c"/><stop offset="91.67%" stop-color="#110a30"/><stop offset="93.75%" stop-color="#0b0724"/><stop offset="95.83%" stop-color="#050417"/><stop offset="97.92%" stop-color="#02020c"/><stop offset="100%" stop-color="#000004"/></linearGradient>
<linearGradient id="cb2" gradientUnits="userSpaceOnUse" x1="0" y1="1346.88" x2="0" y2="1878.52"><stop offset="0%" stop-color="#fcffa4"/><stop offset="2.08%" stop-color="#f5f992"/><stop offset="4.17%" stop-color="#f2f27d"/><stop offset="6.25%" stop-color="#f2ea69"/><stop offset="8.33%" stop-color="#f4df53"/><stop offset="10.42%" stop-color="#f6d543"/><stop offset="12.5%" stop-color="#f9cb35"/><stop offset="14.58%" stop-color="#fac026"/><stop offset="16.67%" stop-color="#fbb61a"/><stop offset="18.75%" stop-color="#fcac11"/><stop offset="20.83%" stop-color="#fca108"/><stop offset="22.92%" stop-color="#fb9706"/><stop offset="25%" stop-color="#f98e09"/><stop offset="27.08%" stop-color="#f78410"/><stop offset="29.17%" stop-color="#f57b17"/><stop offset="31.25%" stop-color="#f1731d"/><stop offset="33.33%" stop-color="#ed6925"/><stop offset="35.42%" stop-color="#e9612b"/><stop offset="37.5%" stop-color="#e45a31"/><stop offset="39.58%" stop-color="#de5238"/><stop offset="41.67%" stop-color="#d84c3e"/><stop offset="43.75%" stop-color="#d24644"/><stop offset="45.83%" stop-color="#ca404a"/><stop offset="47.92%" stop-color="#c33b4f"/><stop offset="50%" stop-color="#bc3754"/><stop offset="52.08%" stop-color="#b3325a"/><stop offset="54.17%" stop-color="#ab2f5e"/><stop offset="56.25%" stop-color="#a32c61"/><stop offset="58.33%" stop-color="#9a2865"/><stop offset="60.42%" stop-color="#922568"/><stop offset="62.5%" stop-color="#8a226a"/><stop offset="64.58%" stop-color="#801f6c"/><stop offset="66.67%" stop-color="#781c6d"/><stop offset="68.75%" stop-color="#71196e"/><stop offset="70.83%" stop-color="#67166e"/><stop offset="72.92%" stop-color="#5f136e"/><stop offset="75%" stop-color="#57106e"/><stop offset="77.08%" stop-color="#4d0d6c"/><stop offset="79.17%" stop-color="#450a69"/><stop offset="81.25%" stop-color="#3d0965"/><stop offset="83.33%" stop-color="#320a5e"/><stop offset="85.42%" stop-color="#290b55"/><stop offset="87.5%" stop-color="#210c4a"/><stop offset="89.58%" stop-color="#180c3c"/><stop offset="91.67%" stop-color="#110a30"/><stop offset="93.75%" stop-color="#0b0724"/><stop offset="95.83%" stop-color="#050417"/><stop offset="97.92%" stop-color="#02020c"/><stop offset="100%" stop-color="#000004"/></linearGradient>
<linearGradient id="cb3" gradientUnits="userSpaceOnUse" x1="0" y1="60.33" x2="0" y2="591.97"><stop offset="0" stop-color="#ff0000"/><stop offset="0.5" stop-color="#ffffff"/><stop offset="1" stop-color="#0000ff"/></linearGradient>
<linearGradient id="cb4" gradientUnits="userSpaceOnUse" x1="0" y1="703.62" x2="0" y2="1235.26"><stop offset="0" stop-color="#ff0000"/><stop offset="0.5" stop-color="#ffffff"/><stop offset="1" stop-color="#0000ff"/></linearGradient>
<linearGradient id="cb5" gradientUnits="userSpaceOnUse" x1="0" y1="1346.88" x2="0" y2="1878.52"><stop offset="0" stop-color="#ff0000"/><stop offset="0.5" stop-color="#ffffff"/><stop offset="1" stop-color="#0000ff"/></linearGradient>
</defs>
<g clip-path="url(#cl00)" shape-rendering="crispEdges"><rect x="111.25" y="33.75" width="584.8" height="584.8" fill="#08051d"/><rect x="334.54" y="52.2" width="16.68" height="16.68" fill="#09061f"/><rect x="350.62" y="52.2" width="16.68" height="16.68" fill="#09061f"/><rect x="366.7" y="52.2" width="16.68" height="16.68" fill="#09061f"/><rect x="382.78" y="52.2" width="16.68" height="16.68" fill="#09061f"/><rect x="398.86" y="52.2" width="16.68" height="16.68" fill="#09061f"/><rect x="414.94" y="52.2" width="16.68" height="16.68" fill="#09061f"/><rect x="431.02" y="52.2" width="16.68" height="16.68" fill="#09061f"/><rect x="447.1" y="52.2" width="16.68" height="16.68" fill="#09061f"/><rect x="463.18" y="52.2" width="16.68" height="16.68" fill="#09061f"/><rect x="286.3" y="68.28" width="16.68" height="16.68" fill="#09061f"/><rect x="302.38" y="68.28" width="16.68" height="16.68" fill="#09061f"/><rect x="318.46" y="68.28" width="16.68" height="16.68" fill="#09061f"/><rect x="334.54" y="68.28" width="16.68" height="16.68" fill="#09061f"/><rect x="350.62" y="68.28" width="16.68" height="16.68" fill="#09061f"/><rect x="366.7" y="68.28" width="16.68" height="16.68" fill="#0a0722"/><rect x="382.78" y="68.28" width="16.68" height="16.68" fill="#0a0722"/><rect x="398.86" y="68.28" width="16.68" height="16.68" fill="#0a0722"/><rect x="414.94" y="68.28" width="16.68" height="16.68" fill="#0a0722"/><rect x="431.02" y="68.28" width="16.68" height="16.68" fill="#0a0722"/><rect x="447.1" y="68.28" width="16.68" height="16.68" fill="#09061f"/><rect x="463.18" y="68.28" width="16.68" height="16.68" fill="#09061f"/><rect x="479.26" y="68.28" width="16.68" height="16.68" fill="#09061f"/><rect x="495.34" y="68.28" width="16.68" height="16.68" fill="#09061f"/><rect x="511.42" y="68.28" width="16.68" height="16.68" fill="#09061f"/><rect x="270.22" y="84.36" width="16.68" height="16.68" fill="#09061f"/><rect x="286.3" y="84.36" width="16.68" height="16.68" fill="#09061f"/><rect x="302.38" y="84.36" width="16.68" height="16.68" fill="#09061f"/><rect x="318.46" y="84.36" width="16.68" height="16.68" fill="#0a0722"/><rect x="334.54" y="84.36" width="16.68" height="16.68" fill="#0a0722"/><rect x="350.62" y="84.36" width="16.68" height="16.68" fill="#0b0724"/><rect x="366.7" y="84.36" width="16.68" height="16.68" fill="#0b0724"/><rect x="382.78" y="84.36" width="16.68" height="16.68" fill="#0b0724"/><rect x="398.86" y="84.36" width="16.68" height="16.68" fill="#0b0724"/><rect x="414.94" y="84.36" width="16.68" height="16.68" fill="#0b0724"/><rect x="431.02" y="84.36" width="16.68" height="16.68" fill="#0b0724"/><rect x="447.1" y="84.36" width="16.68" height="16.68" fill="#0b0724"/><rect x="463.18" y="84.36" width="16.68" height="16.68" fill="#0a0722"/><rect x="479.26" y="84.36" width="16.68" height="16.68" fill="#0a0722"/><rect x="495.34" y="84.36" width="16.68" height="16.68" fill="#09061f"/><rect x="511.42" y="84.36" width="16.68" height="16.68" fill="#09061f"/><rect x="527.5" y="84.36" width="16.68" height="16.68" fill="#09061f"/><rect x="238.06" y="100.44" width="16.68" height="16.68" fill="#09061f"/><rect x="254.14" y="100.44" width="16.68" height="16.68" fill="#09061f"/><rect x="270.22" y="100.44" width="16.68" height="16.68" fill="#09061f"/><rect x="286.3" y="100.44" width="16.68" height="16.68" fill="#0a0722"/><rect x="302.38" y="100.44" width="16.68" height="16.68" fill="#0b0724"/><rect x="318.46" y="100.44" width="16.68" height="16.68" fill="#0b0724"/><rect x="334.54" y="100.44" width="16.68" height="16.68" fill="#0c0826"/><rect x="350.62" y="100.44" width="16.68" height="16.68" fill="#0d0829"/><rect x="366.7" y="100.44" width="16.68" height="16.68" fill="#0d0829"/><rect x="382.78" y="100.44" width="16.68" height="16.68" fill="#0e092b"/><rect x="398.86" y="100.44" width="16.68" height="16.68" fill="#0e092b"/><rect x="414.94" y="100.44" width="16.68" height="16.68" fill="#0e092b"/><rect x="431.02" y="100.44" width="16.68" height="16.68" fill="#0d0829"/><rect x="447.1" y="100.44" width="16.68" height="16.68" fill="#0d0829"/><rect x="463.18" y="100.44" width="16.68" height="16.68" fill="#0c0826"/><rect x="479.26" y="100.44" width="16.68" height="16.68" fill="#0b0724"/><rect x="495.34" y="100.44" width="16.68" height="16.68" fill="#0b0724"/><rect x="511.42" y="100.44" width="16.68" height="16.68" fill="#0a0722"/><rect x="527.5" y="100.44" width="16.68" height="16.68" fill="#09061f"/><rect x="543.58" y="100.44" width="16.68" height="16.68" fill="#09061f"/><rect x="559.66" y="100.44" width="16.68" height="16.68" fill="#09061f"/><rect x="221.98" y="116.52" width="16.68" height="16.68" fill="#09061f"/><rect x="238.06" y="116.52" width="16.68" height="16.68" fill="#09061f"/><rect x="254.14" y="116.52" width="16.68" height="16.68" fill="#0a0722"/><rect x="270.22" y="116.52" width="16.68" height="16.68" fill="#0b0724"/><rect x="286.3" y="116.52" width="16.68" height="16.68" fill="#0c0826"/><rect x="302.38" y="116.52" width="16.68" height="16.68" fill="#0d0829"/><rect x="318.46" y="116.52" width="16.68" height="16.68" fill="#0e092b"/><rect x="334.54" y="116.52" width="16.68" height="16.68" fill="#10092d"/><rect x="350.62" y="116.52" width="16.68" height="16.68" fill="#110a30"/><rect x="366.7" y="116.52" width="16.68" height="16.68" fill="#120a32"/><rect x="382.78" y="116.52" width="16.68" height="16.68" fill="#140b34"/><rect x="398.86" y="116.52" width="16.68" height="16.68" fill="#140b34"/><rect x="414.94" y="116.52" width="16.68" height="16.68" fill="#140b34"/><rect x="431.02" y="116.52" width="16.68" height="16.68" fill="#120a32"/><rect x="447.1" y="116.52" width="16.68" height="16.68" fill="#110a30"/><rect x="463.18" y="116.52" width="16.68" height="16.68" fill="#10092d"/><rect x="479.26" y="116.52" width="16.68" height="16.68" fill="#0e092b"/><rect x="495.34" y="116.52" width="16.68" height="16.68" fill="#0d0829"/><rect x="511.42" y="116.52" width="16.68" height="16.68" fill="#0c0826"/><rect x="527.5" y="116.52" width="16.68" height="16.68" fill="#0b0724"/><rect x="543.58" y="116.52" width="16.68" height="16.68" fill="#0a0722"/><rect x="559.66" y="116.52" width="16.68" height="16.68" fill="#09061f"/><rect x="575.74" y="116.52" width="16.68" height="16.68" fill="#09061f"/><rect x="205.9" y="132.6" width="16.68" height="16.68" fill="#09061f"/><rect x="221.98" y="132.6" width="16.68" height="16.68" fill="#09061f"/><rect x="238.06" y="132.6" width="16.68" height="16.68" fill="#0a0722"/><rect x="254.14" y="132.6" width="16.68" height="16.68" fill="#0b0724"/><rect x="270.22" y="132.6" width="16.68" height="16.68" fill="#0c0826"/><rect x="286.3" y="132.6" width="16.68" height="16.68" fill="#0e092b"/><rect x="302.38" y="132.6" width="16.68" height="16.68" fill="#110a30"/><rect x="318.46" y="132.6" width="16.68" height="16.68" fill="#140b34"/><rect x="334.54" y="132.6" width="16.68" height="16.68" fill="#160b39"/><rect x="350.62" y="132.6" width="16.68" height="16.68" fill="#190c3e"/><rect x="366.7" y="132.6" width="16.68" height="16.68" fill="#1c0c43"/><rect x="382.78" y="132.6" width="16.68" height="16.68" fill="#1e0c45"/><rect x="398.86" y="132.6" width="16.68" height="16.68" fill="#1e0c45"/><rect x="414.94" y="132.6" width="16.68" height="16.68" fill="#1e0c45"/><rect x="431.02" y="132.6" width="16.68" height="16.68" fill="#1c0c43"/><rect x="447.1" y="132.6" width="16.68" height="16.68" fill="#190c3e"/><rect x="463.18" y="132.6" width="16.68" height="16.68" fill="#160b39"/><rect x="479.26" y="132.6" width="16.68" height="16.68" fill="#140b34"/><rect x="495.34" y="132.6" width="16.68" height="16.68" fill="#110a30"/><rect x="511.42" y="132.6" width="16.68" height="16.68" fill="#0e092b"/><rect x="527.5" y="132.6" width="16.68" height="16.68" fill="#0c0826"/><rect x="543.58" y="132.6" width="16.68" height="16.68" fill="#0b0724"/><rect x="559.66" y="132.6" width="16.68" height="16.68" fill="#0a0722"/><rect x="575.74" y="132.6" width="16.68" height="16.68" fill="#09061f"/><rect x="591.82" y="132.6" width="16.68" height="16.68" fill="#09061f"/><rect x="189.82" y="148.68" width="16.68" height="16.68" fill="#09061f"/><rect x="205.9" y="148.68" width="16.68" height="16.68" fill="#09061f"/><rect x="221.98" y="148.68" width="16.68" height="16.68" fill="#0a0722"/><rect x="238.06" y="148.68" width="16.68" height="16.68" fill="#0b0724"/><rect x="254.14" y="148.68" width="16.68" height="16.68" fill="#0d0829"/><rect x="270.22" y="148.68" width="16.68" height="16.68" fill="#10092d"/><rect x="286.3" y="148.68" width="16.68" height="16.68" fill="#140b34"/><rect x="302.38" y="148.68" width="16.68" height="16.68" fill="#180c3c"/><rect x="318.46" y="148.68" width="16.68" height="16.68" fill="#1c0c43"/><rect x="334.54" y="148.68" width="16.68" height="16.68" fill="#210c4a"/><rect x="350.62" y="148.68" width="16.68" height="16.68" fill="#260c51"/><rect x="366.7" y="148.68" width="16.68" height="16.68" fill="#2b0b57"/><rect x="382.78" y="148.68" width="16.68" height="16.68" fill="#2d0b59"/><rect x="398.86" y="148.68" width="16.68" height="16.68" fill="#2f0a5b"/><rect x="414.94" y="148.68" width="16.68" height="16.68" fill="#2d0b59"/><rect x="431.02" y="148.68" width="16.68" height="16.68" fill="#2b0b57"/><rect x="447.1" y="148.68" width="16.68" height="16.68" fill="#260c51"/><rect x="463.18" y="148.68" width="16.68" height="16.68" fill="#210c4a"/><rect x="479.26" y="148.68" width="16.68" height="16.68" fill="#1c0c43"/><rect x="495.34" y="148.68" width="16.68" height="16.68" fill="#180c3c"/><rect x="511.42" y="148.68" width="16.68" height="16.68" fill="#120a32"/><rect x="527.5" y="148.68" width="16.68" height="16.68" fill="#10092d"/><rect x="543.58" y="148.68" width="16.68" height="16.68" fill="#0d0829"/><rect x="559.66" y="148.68" width="16.68" height="16.68" fill="#0b0724"/><rect x="575.74" y="148.68" width="16.68" height="16.68" fill="#0a0722"/><rect x="591.82" y="148.68" width="16.68" height="16.68" fill="#09061f"/><rect x="607.9" y="148.68" width="16.68" height="16.68" fill="#09061f"/><rect x="173.74" y="164.76" width="16.68" height="16.68" fill="#09061f"/><rect x="189.82" y="164.76" width="16.68" height="16.68" fill="#09061f"/><rect x="205.9" y="164.76" width="16.68" height="16.68" fill="#0a0722"/><rect x="221.98" y="164.76" width="16.68" height="16.68" fill="#0b0724"/><rect x="238.06" y="164.76" width="16.68" height="16.68" fill="#0d0829"/><rect x="254.14" y="164.76" width="16.68" height="16.68" fill="#10092d"/><rect x="270.22" y="164.76" width="16.68" height="16.68" fill="#150b37"/><rect x="286.3" y="164.76" width="16.68" height="16.68" fill="#1b0c41"/><rect x="302.38" y="164.76" width="16.68" height="16.68" fill="#210c4a"/><rect x="318.46" y="164.76" width="16.68" height="16.68" fill="#290b55"/><rect x="334.54" y="164.76" width="16.68" height="16.68" fill="#320a5e"/><rect x="350.62" y="164.76" width="16.68" height="16.68" fill="#3b0964"/><rect x="366.7" y="164.76" width="16.68" height="16.68" fill="#420a68"/><rect x="382.78" y="164.76" width="16.68" height="16.68" fill="#450a69"/><rect x="398.86" y="164.76" width="16.68" height="16.68" fill="#470b6a"/><rect x="414.94" y="164.76" width="16.68" height="16.68" fill="#450a69"/><rect x="431.02" y="164.76" width="16.68" height="16.68" fill="#420a68"/><rect x="447.1" y="164.76" width="16.68" height="16.68" fill="#3b0964"/><rect x="463.18" y="164.76" width="16.68" height="16.68" fill="#320a5e"/><rect x="479.26" y="164.76" width="16.68" height="16.68" fill="#290b55"/><rect x="495.34" y="164.76" width="16.68" height="16.68" fill="#210c4a"/><rect x="511.42" y="164.76" width="16.68" height="16.68" fill="#190c3e"/><rect x="527.5" y="164.76" width="16.68" height="16.68" fill="#150b37"/><rect x="543.58" y="164.76" width="16.68" height="16.68" fill="#10092d"/><rect x="559.66" y="164.76" width="16.68" height="16.68" fill="#0d0829"/><rect x="575.74" y="164.76" width="16.68" height="16.68" fill="#0b0724"/><rect x="591.82" y="164.76" width="16.68" height="16.68" fill="#0a0722"/><rect x="607.9" y="164.76" width="16.68" height="16.68" fill="#09061f"/><rect x="623.98" y="164.76" width="16.68" height="16.68" fill="#09061f"/><rect x="173.74" y="180.84" width="16.68" height="16.68" fill="#09061f"/><rect x="189.82" y="180.84" width="16.68" height="16.68" fill="#0a0722"/><rect x="205.9" y="180.84" width="16.68" height="16.68" fill="#0b0724"/><rect x="221.98" y="180.84" width="16.68" height="16.68" fill="#0d0829"/><rect x="238.06" y="180.84" width="16.68" height="16.68" fill="#10092d"/><rect x="254.14" y="180.84" width="16.68" height="16.68" fill="#150b37"/><rect x="270.22" y="180.84" width="16.68" height="16.68" fill="#1c0c43"/><rect x="286.3" y="180.84" width="16.68" height="16.68" fill="#240c4f"/><rect x="302.38" y="180.84" width="16.68" height="16.68" fill="#310a5c"/><rect x="318.46" y="180.84" width="16.68" height="16.68" fill="#3d0965"/><rect x="334.54" y="180.84" width="16.68" height="16.68" fill="#4a0c6b"/><rect x="350.62" y="180.84" width="16.68" height="16.68" fill="#540f6d"/><rect x="366.7" y="180.84" width="16.68" height="16.68" fill="#5d126e"/><rect x="382.78" y="180.84" width="16.68" height="16.68" fill="#62146e"/><rect x="398.86" y="180.84" width="16.68" height="16.68" fill="#65156e"/><rect x="414.94" y="180.84" width="16.68" height="16.68" fill="#62146e"/><rect x="431.02" y="180.84" width="16.68" height="16.68" fill="#5d126e"/><rect x="447.1" y="180.84" width="16.68" height="16.68" fill="#540f6d"/><rect x="463.18" y="180.84" width="16.68" height="16.68" fill="#490b6a"/><rect x="479.26" y="180.84" width="16.68" height="16.68" fill="#3d0965"/><rect x="495.34" y="180.84" width="16.68" height="16.68" fill="#310a5c"/><rect x="511.42" y="180.84" width="16.68" height="16.68" fill="#240c4f"/><rect x="527.5" y="180.84" width="16.68" height="16.68" fill="#1b0c41"/><rect x="543.58" y="180.84" width="16.68" height="16.68" fill="#150b37"/><rect x="559.66" y="180.84" width="16.68" height="16.68" fill="#10092d"/><rect x="575.74" y="180.84" width="16.68" height="16.68" fill="#0d0829"/><rect x="591.82" y="180.84" width="16.68" height="16.68" fill="#0b0724"/><rect x="607.9" y="180.84" width="16.68" height="16.68" fill="#0a0722"/><rect x="623.98" y="180.84" width="16.68" height="16.68" fill="#09061f"/><rect x="157.66" y="196.92" width="16.68" height="16.68" fill="#09061f"/><rect x="173.74" y="196.92" width="16.68" height="16.68" fill="#09061f"/><rect x="189.82" y="196.92" width="16.68" height="16.68" fill="#0a0722"/><rect x="205.9" y="196.92" width="16.68" height="16.68" fill="#0c0826"/><rect x="221.98" y="196.92" width="16.68" height="16.68" fill="#10092d"/><rect x="238.06" y="196.92" width="16.68" height="16.68" fill="#140b34"/><rect x="254.14" y="196.92" width="16.68" height="16.68" fill="#1b0c41"/><rect x="270.22" y="196.92" width="16.68" height="16.68" fill="#260c51"/><rect x="286.3" y="196.92" width="16.68" height="16.68" fill="#340a5f"/><rect x="302.38" y="196.92" width="16.68" height="16.68" fill="#440a68"/><rect x="318.46" y="196.92" width="16.68" height="16.68" fill="#540f6d"/><rect x="334.54" y="196.92" width="16.68" height="16.68" fill="#65156e"/><rect x="350.62" y="196.92" width="16.68" height="16.68" fill="#741a6e"/><rect x="366.7" y="196.92" width="16.68" height="16.68" fill="#801f6c"/><rect x="382.78" y="196.92" width="16.68" height="16.68" fill="#88226a"/><rect x="398.86" y="196.92" width="16.68" height="16.68" fill="#8a226a"/><rect x="414.94" y="196.92" width="16.68" height="16.68" fill="#88226a"/><rect x="431.02" y="196.92" width="16.68" height="16.68" fill="#801f6c"/><rect x="447.1" y="196.92" width="16.68" height="16.68" fill="#741a6e"/><rect x="463.18" y="196.92" width="16.68" height="16.68" fill="#64156e"/><rect x="479.26" y="196.92" width="16.68" height="16.68" fill="#540f6d"/><rect x="495.34" y="196.92" width="16.68" height="16.68" fill="#440a68"/><rect x="511.42" y="196.92" width="16.68" height="16.68" fill="#340a5f"/><rect x="527.5" y="196.92" width="16.68" height="16.68" fill="#260c51"/><rect x="543.58" y="196.92" width="16.68" height="16.68" fill="#1b0c41"/><rect x="559.66" y="196.92" width="16.68" height="16.68" fill="#140b34"/><rect x="575.74" y="196.92" width="16.68" height="16.68" fill="#0e092b"/><rect x="591.82" y="196.92" width="16.68" height="16.68" fill="#0c0826"/><rect x="607.9" y="196.92" width="16.68" height="16.68" fill="#0a0722"/><rect x="623.98" y="196.92" width="16.68" height="16.68" fill="#09061f"/><rect x="640.06" y="196.92" width="16.68" height="16.68" fill="#09061f"/><rect x="157.66" y="213" width="16.68" height="16.68" fill="#09061f"/><rect x="173.74" y="213" width="16.68" height="16.68" fill="#0a0722"/><rect x="189.82" y="213" width="16.68" height="16.68" fill="#0b0724"/><rect x="205.9" y="213" width="16.68" height="16.68" fill="#0d0829"/><rect x="221.98" y="213" width="16.68" height="16.68" fill="#120a32"/><rect x="238.06" y="213" width="16.68" height="16.68" fill="#190c3e"/><rect x="254.14" y="213" width="16.68" height="16.68" fill="#230c4c"/><rect x="270.22" y="213" width="16.68" height="16.68" fill="#320a5e"/><rect x="286.3" y="213" width="16.68" height="16.68" fill="#450a69"/><rect x="302.38" y="213" width="16.68" height="16.68" fill="#5a116e"/><rect x="318.46" y="213" width="16.68" height="16.68" fill="#6f196e"/><rect x="334.54" y="213" width="16.68" height="16.68" fill="#85216b"/><rect x="350.62" y="213" width="16.68" height="16.68" fill="#9a2865"/><rect x="366.7" y="213" width="16.68" height="16.68" fill="#a92e5e"/><rect x="382.78" y="213" width="16.68" height="16.68" fill="#b43359"/><rect x="398.86" y="213" width="16.68" height="16.68" fill="#b73557"/><rect x="414.94" y="213" width="16.68" height="16.68" fill="#b3325a"/><rect x="431.02" y="213" width="16.68" height="16.68" fill="#a92e5e"/><rect x="447.1" y="213" width="16.68" height="16.68" fill="#982766"/><rect x="463.18" y="213" width="16.68" height="16.68" fill="#85216b"/><rect x="479.26" y="213" width="16.68" height="16.68" fill="#6f196e"/><rect x="495.34" y="213" width="16.68" height="16.68" fill="#59106e"/><rect x="511.42" y="213" width="16.68" height="16.68" fill="#450a69"/><rect x="527.5" y="213" width="16.68" height="16.68" fill="#320a5e"/><rect x="543.58" y="213" width="16.68" height="16.68" fill="#230c4c"/><rect x="559.66" y="213" width="16.68" height="16.68" fill="#190c3e"/><rect x="575.74" y="213" width="16.68" height="16.68" fill="#120a32"/><rect x="591.82" y="213" width="16.68" height="16.68" fill="#0d0829"/><rect x="607.9" y="213" width="16.68" height="16.68" fill="#0b0724"/><rect x="623.98" y="213" width="16.68" height="16.68" fill="#0a0722"/><rect x="640.06" y="213" width="16.68" height="16.68" fill="#09061f"/><rect x="141.58" y="229.08" width="16.68" height="16.68" fill="#09061f"/><rect x="157.66" y="229.08" width="16.68" height="16.68" fill="#09061f"/><rect x="173.74" y="229.08" width="16.68" height="16.68" fill="#0a0722"/><rect x="189.82" y="229.08" width="16.68" height="16.68" fill="#0c0826"/><rect x="205.9" y="229.08" width="16.68" height="16.68" fill="#10092d"/><rect x="221.98" y="229.08" width="16.68" height="16.68" fill="#150b37"/><rect x="238.06" y="229.08" width="16.68" height="16.68" fill="#1f0c48"/><rect x="254.14" y="229.08" width="16.68" height="16.68" fill="#2d0b59"/><rect x="270.22" y="229.08" width="16.68" height="16.68" fill="#420a68"/><rect x="286.3" y="229.08" width="16.68" height="16.68" fill="#57106e"/><rect x="302.38" y="229.08" width="16.68" height="16.68" fill="#721a6e"/><rect x="318.46" y="229.08" width="16.68" height="16.68" fill="#8d2369"/><rect x="334.54" y="229.08" width="16.68" height="16.68" fill="#a92e5e"/><rect x="350.62" y="229.08" width="16.68" height="16.68" fill="#c13a50"/><rect x="366.7" y="229.08" width="16.68" height="16.68" fill="#d34743"/><rect x="382.78" y="229.08" width="16.68" height="16.68" fill="#de5238"/><rect x="398.86" y="229.08" width="16.68" height="16.68" fill="#e15635"/><rect x="414.94" y="229.08" width="16.68" height="16.68" fill="#de5238"/><rect x="431.02" y="229.08" width="16.68" height="16.68" fill="#d34743"/><rect x="447.1" y="229.08" width="16.68" height="16.68" fill="#c13a50"/><rect x="463.18" y="229.08" width="16.68" height="16.68" fill="#a82e5f"/><rect x="479.26" y="229.08" width="16.68" height="16.68" fill="#8d2369"/><rect x="495.34" y="229.08" width="16.68" height="16.68" fill="#71196e"/><rect x="511.42" y="229.08" width="16.68" height="16.68" fill="#57106e"/><rect x="527.5" y="229.08" width="16.68" height="16.68" fill="#400a67"/><rect x="543.58" y="229.08" width="16.68" height="16.68" fill="#2d0b59"/><rect x="559.66" y="229.08" width="16.68" height="16.68" fill="#1e0c45"/><rect x="575.74" y="229.08" width="16.68" height="16.68" fill="#150b37"/><rect x="591.82" y="229.08" width="16.68" height="16.68" fill="#10092d"/><rect x="607.9" y="229.08" width="16.68" height="16.68" fill="#0c0826"/><rect x="623.98" y="229.08" width="16.68" height="16.68" fill="#0a0722"/><rect x="640.06" y="229.08" width="16.68" height="16.68" fill="#09061f"/><rect x="656.14" y="229.08" width="16.68" height="16.68" fill="#09061f"/><rect x="141.58" y="245.16" width="16.68" height="16.68" fill="#09061f"/><rect x="157.66" y="245.16" width="16.68" height="16.68" fill="#09061f"/><rect x="173.74" y="245.16" width="16.68" height="16.68" fill="#0b0724"/><rect x="189.82" y="245.16" width="16.68" height="16.68" fill="#0d0829"/><rect x="205.9" y="245.16" width="16.68" height="16.68" fill="#120a32"/><rect x="221.98" y="245.16" width="16.68" height="16.68" fill="#190c3e"/><rect x="238.06" y="245.16" width="16.68" height="16.68" fill="#260c51"/><rect x="254.14" y="245.16" width="16.68" height="16.68" fill="#380962"/><rect x="270.22" y="245.16" width="16.68" height="16.68" fill="#4f0d6c"/><rect x="286.3" y="245.16" width="16.68" height="16.68" fill="#6a176e"/><rect x="302.38" y="245.16" width="16.68" height="16.68" fill="#8a226a"/><rect x="318.46" y="245.16" width="16.68" height="16.68" fill="#ad305d"/><rect x="334.54" y="245.16" width="16.68" height="16.68" fill="#cc4248"/><rect x="350.62" y="245.16" width="16.68" height="16.68" fill="#e45a31"/><rect x="366.7" y="245.16" width="16.68" height="16.68" fill="#f1731d"/><rect x="382.78" y="245.16" width="16.68" height="16.68" fill="#f78410"/><rect x="398.86" y="245.16" width="16.68" height="16.68" fill="#f98b0b"/><rect x="414.94" y="245.16" width="16.68" height="16.68" fill="#f78410"/><rect x="431.02" y="245.16" width="16.68" height="16.68" fill="#f1731d"/><rect x="447.1" y="245.16" width="16.68" height="16.68" fill="#e35933"/><rect x="463.18" y="245.16" width="16.68" height="16.68" fill="#cb4149"/><rect x="479.26" y="245.16" width="16.68" height="16.68" fill="#ab2f5e"/><rect x="495.34" y="245.16" width="16.68" height="16.68" fill="#8a226a"/><rect x="511.42" y="245.16" width="16.68" height="16.68" fill="#6a176e"/><rect x="527.5" y="245.16" width="16.68" height="16.68" fill="#4f0d6c"/><rect x="543.58" y="245.16" width="16.68" height="16.68" fill="#380962"/><rect x="559.66" y="245.16" width="16.68" height="16.68" fill="#260c51"/><rect x="575.74" y="245.16" width="16.68" height="16.68" fill="#190c3e"/><rect x="591.82" y="245.16" width="16.68" height="16.68" fill="#110a30"/><rect x="607.9" y="245.16" width="16.68" height="16.68" fill="#0d0829"/><rect x="623.98" y="245.16" width="16.68" height="16.68" fill="#0b0724"/><rect x="640.06" y="245.16" width="16.68" height="16.68" fill="#09061f"/><rect x="656.14" y="245.16" width="16.68" height="16.68" fill="#09061f"/><rect x="141.58" y="261.24" width="16.68" height="16.68" fill="#09061f"/><rect x="157.66" y="261.24" width="16.68" height="16.68" fill="#0a0722"/><rect x="173.74" y="261.24" width="16.68" height="16.68" fill="#0b0724"/><rect x="189.82" y="261.24" width="16.68" height="16.68" fill="#0e092b"/><rect x="205.9" y="261.24" width="16.68" height="16.68" fill="#140b34"/><rect x="221.98" y="261.24" width="16.68" height="16.68" fill="#1e0c45"/><rect x="238.06" y="261.24" width="16.68" height="16.68" fill="#2d0b59"/><rect x="254.14" y="261.24" width="16.68" height="16.68" fill="#420a68"/><rect x="270.22" y="261.24" width="16.68" height="16.68" fill="#5d126e"/><rect x="286.3" y="261.24" width="16.68" height="16.68" fill="#7d1e6d"/><rect x="302.38" y="261.24" width="16.68" height="16.68" fill="#a32c61"/><rect x="318.46" y="261.24" width="16.68" height="16.68" fill="#c83f4b"/><rect x="334.54" y="261.24" width="16.68" height="16.68" fill="#e75e2e"/><rect x="350.62" y="261.24" width="16.68" height="16.68" fill="#f78410"/><rect x="366.7" y="261.24" width="16.68" height="16.68" fill="#fca80d"/><rect x="382.78" y="261.24" width="16.68" height="16.68" fill="#fac026"/><rect x="398.86" y="261.24" width="16.68" height="16.68" fill="#f9c72f"/><rect x="414.94" y="261.24" width="16.68" height="16.68" fill="#fac026"/><rect x="431.02" y="261.24" width="16.68" height="16.68" fill="#fca60c"/><rect x="447.1" y="261.24" width="16.68" height="16.68" fill="#f78410"/><rect x="463.18" y="261.24" width="16.68" height="16.68" fill="#e65d2f"/><rect x="479.26" y="261.24" width="16.68" height="16.68" fill="#c73e4c"/><rect x="495.34" y="261.24" width="16.68" height="16.68" fill="#a22b62"/><rect x="511.42" y="261.24" width="16.68" height="16.68" fill="#7c1d6d"/><rect x="527.5" y="261.24" width="16.68" height="16.68" fill="#5c126e"/><rect x="543.58" y="261.24" width="16.68" height="16.68" fill="#420a68"/><rect x="559.66" y="261.24" width="16.68" height="16.68" fill="#2b0b57"/><rect x="575.74" y="261.24" width="16.68" height="16.68" fill="#1c0c43"/><rect x="591.82" y="261.24" width="16.68" height="16.68" fill="#140b34"/><rect x="607.9" y="261.24" width="16.68" height="16.68" fill="#0e092b"/><rect x="623.98" y="261.24" width="16.68" height="16.68" fill="#0b0724"/><rect x="640.06" y="261.24" width="16.68" height="16.68" fill="#0a0722"/><rect x="656.14" y="261.24" width="16.68" height="16.68" fill="#09061f"/><rect x="141.58" y="277.32" width="16.68" height="16.68" fill="#09061f"/><rect x="157.66" y="277.32" width="16.68" height="16.68" fill="#0a0722"/><rect x="173.74" y="277.32" width="16.68" height="16.68" fill="#0c0826"/><rect x="189.82" y="277.32" width="16.68" height="16.68" fill="#10092d"/><rect x="205.9" y="277.32" width="16.68" height="16.68" fill="#160b39"/><rect x="221.98" y="277.32" width="16.68" height="16.68" fill="#210c4a"/><rect x="238.06" y="277.32" width="16.68" height="16.68" fill="#320a5e"/><rect x="254.14" y="277.32" width="16.68" height="16.68" fill="#4a0c6b"/><rect x="270.22" y="277.32" width="16.68" height="16.68" fill="#69166e"/><rect x="286.3" y="277.32" width="16.68" height="16.68" fill="#8d2369"/><rect x="302.38" y="277.32" width="16.68" height="16.68" fill="#b73557"/><rect x="318.46" y="277.32" width="16.68" height="16.68" fill="#de5238"/><rect x="334.54" y="277.32" width="16.68" height="16.68" fill="#f67e14"/><rect x="350.62" y="277.32" width="16.68" height="16.68" fill="#fcb014"/><rect x="366.7" y="277.32" width="16.68" height="16.68" fill="#f5d949"/><rect x="382.78" y="277.32" width="16.68" height="16.68" fill="#f2f27d"/><rect x="398.86" y="277.32" width="16.68" height="16.68" fill="#f5f992"/><rect x="414.94" y="277.32" width="16.68" height="16.68" fill="#f2f27d"/><rect x="431.02" y="277.32" width="16.68" height="16.68" fill="#f5d949"/><rect x="447.1" y="277.32" width="16.68" height="16.68" fill="#fcae12"/><rect x="463.18" y="277.32" width="16.68" height="16.68" fill="#f57d15"/><rect x="479.26" y="277.32" width="16.68" height="16.68" fill="#dd513a"/><rect x="495.34" y="277.32" width="16.68" height="16.68" fill="#b63458"/><rect x="511.42" y="277.32" width="16.68" height="16.68" fill="#8c2369"/><rect x="527.5" y="277.32" width="16.68" height="16.68" fill="#69166e"/><rect x="543.58" y="277.32" width="16.68" height="16.68" fill="#4a0c6b"/><rect x="559.66" y="277.32" width="16.68" height="16.68" fill="#320a5e"/><rect x="575.74" y="277.32" width="16.68" height="16.68" fill="#210c4a"/><rect x="591.82" y="277.32" width="16.68" height="16.68" fill="#150b37"/><rect x="607.9" y="277.32" width="16.68" height="16.68" fill="#10092d"/><rect x="623.98" y="277.32" width="16.68" height="16.68" fill="#0c0826"/><rect x="640.06" y="277.32" width="16.68" height="16.68" fill="#0a0722"/><rect x="656.14" y="277.32" width="16.68" height="16.68" fill="#09061f"/><rect x="141.58" y="293.4" width="16.68" height="16.68" fill="#09061f"/><rect x="157.66" y="293.4" width="16.68" height="16.68" fill="#0a0722"/><rect x="173.74" y="293.4" width="16.68" height="16.68" fill="#0c0826"/><rect x="189.82" y="293.4" width="16.68" height="16.68" fill="#10092d"/><rect x="205.9" y="293.4" width="16.68" height="16.68" fill="#180c3c"/><rect x="221.98" y="293.4" width="16.68" height="16.68" fill="#230c4c"/><rect x="238.06" y="293.4" width="16.68" height="16.68" fill="#380962"/><rect x="254.14" y="293.4" width="16.68" height="16.68" fill="#510e6c"/><rect x="270.22" y="293.4" width="16.68" height="16.68" fill="#71196e"/><rect x="286.3" y="293.4" width="16.68" height="16.68" fill="#982766"/><rect x="302.38" y="293.4" width="16.68" height="16.68" fill="#c43c4e"/><rect x="318.46" y="293.4" width="16.68" height="16.68" fill="#ea632a"/><rect x="334.54" y="293.4" width="16.68" height="16.68" fill="#fb9906"/><rect x="350.62" y="293.4" width="16.68" height="16.68" fill="#f7d13d"/><rect x="366.7" y="293.4" width="16.68" height="16.68" fill="#f5f992"/><rect x="382.78" y="293.4" width="16.68" height="16.68" fill="#fcffa4"/><rect x="398.86" y="293.4" width="16.68" height="16.68" fill="#fcffa4"/><rect x="414.94" y="293.4" width="16.68" height="16.68" fill="#fcffa4"/><rect x="431.02" y="293.4" width="16.68" height="16.68" fill="#f5f992"/><rect x="447.1" y="293.4" width="16.68" height="16.68" fill="#f8cf3a"/><rect x="463.18" y="293.4" width="16.68" height="16.68" fill="#fb9706"/><rect x="479.26" y="293.4" width="16.68" height="16.68" fill="#e9612b"/><rect x="495.34" y="293.4" width="16.68" height="16.68" fill="#c43c4e"/><rect x="511.42" y="293.4" width="16.68" height="16.68" fill="#982766"/><rect x="527.5" y="293.4" width="16.68" height="16.68" fill="#71196e"/><rect x="543.58" y="293.4" width="16.68" height="16.68" fill="#510e6c"/><rect x="559.66" y="293.4" width="16.68" height="16.68" fill="#360961"/><rect x="575.74" y="293.4" width="16.68" height="16.68" fill="#230c4c"/><rect x="591.82" y="293.4" width="16.68" height="16.68" fill="#160b39"/><rect x="607.9" y="293.4" width="16.68" height="16.68" fill="#10092d"/><rect x="623.98" y="293.4" width="16.68" height="16.68" fill="#0c0826"/><rect x="640.06" y="293.4" width="16.68" height="16.68" fill="#0a0722"/><rect x="656.14" y="293.4" width="16.68" height="16.68" fill="#09061f"/><rect x="125.5" y="309.48" width="16.68" height="16.68" fill="#09061f"/><rect x="141.58" y="309.48" width="16.68" height="16.68" fill="#09061f"/><rect x="157.66" y="309.48" width="16.68" height="16.68" fill="#0a0722"/><rect x="173.74" y="309.48" width="16.68" height="16.68" fill="#0c0826"/><rect x="189.82" y="309.48" width="16.68" height="16.68" fill="#110a30"/><rect x="205.9" y="309.48" width="16.68" height="16.68" fill="#180c3c"/><rect x="221.98" y="309.48" width="16.68" height="16.68" fill="#240c4f"/><rect x="238.06" y="309.48" width="16.68" height="16.68" fill="#390963"/><rect x="254.14" y="309.48" width="16.68" height="16.68" fill="#540f6d"/><rect x="270.22" y="309.48" width="16.68" height="16.68" fill="#751b6e"/><rect x="286.3" y="309.48" width="16.68" height="16.68" fill="#9f2a63"/><rect x="302.38" y="309.48" width="16.68" height="16.68" fill="#cb4149"/><rect x="318.46" y="309.48" width="16.68" height="16.68" fill="#ef6c23"/><rect x="334.54" y="309.48" width="16.68" height="16.68" fill="#fca60c"/><rect x="350.62" y="309.48" width="16.68" height="16.68" fill="#f3e35a"/><rect x="366.7" y="309.48" width="16.68" height="16.68" fill="#fcffa4"/><rect x="382.78" y="309.48" width="16.68" height="16.68" fill="#fcffa4"/><rect x="398.86" y="309.48" width="16.68" height="16.68" fill="#fcffa4"/><rect x="414.94" y="309.48" width="16.68" height="16.68" fill="#fcffa4"/><rect x="431.02" y="309.48" width="16.68" height="16.68" fill="#fcffa4"/><rect x="447.1" y="309.48" width="16.68" height="16.68" fill="#f4e156"/><rect x="463.18" y="309.48" width="16.68" height="16.68" fill="#fca50a"/><rect x="479.26" y="309.48" width="16.68" height="16.68" fill="#ee6a24"/><rect x="495.34" y="309.48" width="16.68" height="16.68" fill="#cb4149"/><rect x="511.42" y="309.48" width="16.68" height="16.68" fill="#9f2a63"/><rect x="527.5" y="309.48" width="16.68" height="16.68" fill="#751b6e"/><rect x="543.58" y="309.48" width="16.68" height="16.68" fill="#540f6d"/><rect x="559.66" y="309.48" width="16.68" height="16.68" fill="#390963"/><rect x="575.74" y="309.48" width="16.68" height="16.68" fill="#240c4f"/><rect x="591.82" y="309.48" width="16.68" height="16.68" fill="#180c3c"/><rect x="607.9" y="309.48" width="16.68" height="16.68" fill="#110a30"/><rect x="623.98" y="309.48" width="16.68" height="16.68" fill="#0c0826"/><rect x="640.06" y="309.48" width="16.68" height="16.68" fill="#0a0722"/><rect x="656.14" y="309.48" width="16.68" height="16.68" fill="#09061f"/><rect x="125.5" y="325.56" width="16.68" height="16.68" fill="#09061f"/><rect x="141.58" y="325.56" width="16.68" height="16.68" fill="#09061f"/><rect x="157.66" y="325.56" width="16.68" height="16.68" fill="#0a0722"/><rect x="173.74" y="325.56" width="16.68" height="16.68" fill="#0c0826"/><rect x="189.82" y="325.56" width="16.68" height="16.68" fill="#110a30"/><rect x="205.9" y="325.56" width="16.68" height="16.68" fill="#180c3c"/><rect x="221.98" y="325.56" width="16.68" height="16.68" fill="#240c4f"/><rect x="238.06" y="325.56" width="16.68" height="16.68" fill="#390963"/><rect x="254.14" y="325.56" width="16.68" height="16.68" fill="#540f6d"/><rect x="270.22" y="325.56" width="16.68" height="16.68" fill="#751b6e"/><rect x="286.3" y="325.56" width="16.68" height="16.68" fill="#9f2a63"/><rect x="302.38" y="325.56" width="16.68" height="16.68" fill="#cb4149"/><rect x="318.46" y="325.56" width="16.68" height="16.68" fill="#ef6c23"/><rect x="334.54" y="325.56" width="16.68" height="16.68" fill="#fca60c"/><rect x="350.62" y="325.56" width="16.68" height="16.68" fill="#f4e156"/><rect x="366.7" y="325.56" width="16.68" height="16.68" fill="#fcffa4"/><rect x="382.78" y="325.56" width="16.68" height="16.68" fill="#fcffa4"/><rect x="398.86" y="325.56" width="16.68" height="16.68" fill="#fcffa4"/><rect x="414.94" y="325.56" width="16.68" height="16.68" fill="#fcffa4"/><rect x="431.02" y="325.56" width="16.68" height="16.68" fill="#fcffa4"/><rect x="447.1" y="325.56" width="16.68" height="16.68" fill="#f4e156"/><rect x="463.18" y="325.56" width="16.68" height="16.68" fill="#fca50a"/><rect x="479.26" y="325.56" width="16.68" height="16.68" fill="#ee6a24"/><rect x="495.34" y="325.56" width="16.68" height="16.68" fill="#cb4149"/><rect x="511.42" y="325.56" width="16.68" height="16.68" fill="#9f2a63"/><rect x="527.5" y="325.56" width="16.68" height="16.68" fill="#751b6e"/><rect x="543.58" y="325.56" width="16.68" height="16.68" fill="#540f6d"/><rect x="559.66" y="325.56" width="16.68" height="16.68" fill="#390963"/><rect x="575.74" y="325.56" width="16.68" height="16.68" fill="#240c4f"/><rect x="591.82" y="325.56" width="16.68" height="16.68" fill="#180c3c"/><rect x="607.9" y="325.56" width="16.68" height="16.68" fill="#110a30"/><rect x="623.98" y="325.56" width="16.68" height="16.68" fill="#0c0826"/><rect x="640.06" y="325.56" width="16.68" height="16.68" fill="#0a0722"/><rect x="656.14" y="325.56" width="16.68" height="16.68" fill="#09061f"/><rect x="141.58" y="341.64" width="16.68" height="16.68" fill="#09061f"/><rect x="157.66" y="341.64" width="16.68" height="16.68" fill="#0a0722"/><rect x="173.74" y="341.64" width="16.68" height="16.68" fill="#0c0826"/><rect x="189.82" y="341.64" width="16.68" height="16.68" fill="#10092d"/><rect x="205.9" y="341.64" width="16.68" height="16.68" fill="#160b39"/><rect x="221.98" y="341.64" width="16.68" height="16.68" fill="#230c4c"/><rect x="238.06" y="341.64" width="16.68" height="16.68" fill="#380962"/><rect x="254.14" y="341.64" width="16.68" height="16.68" fill="#510e6c"/><rect x="270.22" y="341.64" width="16.68" height="16.68" fill="#71196e"/><rect x="286.3" y="341.64" width="16.68" height="16.68" fill="#982766"/><rect x="302.38" y="341.64" width="16.68" height="16.68" fill="#c43c4e"/><rect x="318.46" y="341.64" width="16.68" height="16.68" fill="#e9612b"/><rect x="334.54" y="341.64" width="16.68" height="16.68" fill="#fb9706"/><rect x="350.62" y="341.64" width="16.68" height="16.68" fill="#f8cf3a"/><rect x="366.7" y="341.64" width="16.68" height="16.68" fill="#f4f88e"/><rect x="382.78" y="341.64" width="16.68" height="16.68" fill="#fcffa4"/><rect x="398.86" y="341.64" width="16.68" height="16.68" fill="#fcffa4"/><rect x="414.94" y="341.64" width="16.68" height="16.68" fill="#fcffa4"/><rect x="431.02" y="341.64" width="16.68" height="16.68" fill="#f4f88e"/><rect x="447.1" y="341.64" width="16.68" height="16.68" fill="#f8cd37"/><rect x="463.18" y="341.64" width="16.68" height="16.68" fill="#fb9606"/><rect x="479.26" y="341.64" width="16.68" height="16.68" fill="#e9612b"/><rect x="495.34" y="341.64" width="16.68" height="16.68" fill="#c33b4f"/><rect x="511.42" y="341.64" width="16.68" height="16.68" fill="#972766"/><rect x="527.5" y="341.64" width="16.68" height="16.68" fill="#71196e"/><rect x="543.58" y="341.64" width="16.68" height="16.68" fill="#510e6c"/><rect x="559.66" y="341.64" width="16.68" height="16.68" fill="#360961"/><rect x="575.74" y="341.64" width="16.68" height="16.68" fill="#230c4c"/><rect x="591.82" y="341.64" width="16.68" height="16.68" fill="#160b39"/><rect x="607.9" y="341.64" width="16.68" height="16.68" fill="#10092d"/><rect x="623.98" y="341.64" width="16.68" height="16.68" fill="#0c0826"/><rect x="640.06" y="341.64" width="16.68" height="16.68" fill="#0a0722"/><rect x="656.14" y="341.64" width="16.68" height="16.68" fill="#09061f"/><rect x="141.58" y="357.72" width="16.68" height="16.68" fill="#09061f"/><rect x="157.66" y="357.72" width="16.68" height="16.68" fill="#0a0722"/><rect x="173.74" y="357.72" width="16.68" height="16.68" fill="#0c0826"/><rect x="189.82" y="357.72" width="16.68" height="16.68" fill="#10092d"/><rect x="205.9" y="357.72" width="16.68" height="16.68" fill="#150b37"/><rect x="221.98" y="357.72" width="16.68" height="16.68" fill="#210c4a"/><rect x="238.06" y="357.72" width="16.68" height="16.68" fill="#320a5e"/><rect x="254.14" y="357.72" width="16.68" height="16.68" fill="#4a0c6b"/><rect x="270.22" y="357.72" width="16.68" height="16.68" fill="#69166e"/><rect x="286.3" y="357.72" width="16.68" height="16.68" fill="#8d2369"/><rect x="302.38" y="357.72" width="16.68" height="16.68" fill="#b63458"/><rect x="318.46" y="357.72" width="16.68" height="16.68" fill="#dd513a"/><rect x="334.54" y="357.72" width="16.68" height="16.68" fill="#f57d15"/><rect x="350.62" y="357.72" width="16.68" height="16.68" fill="#fcae12"/><rect x="366.7" y="357.72" width="16.68" height="16.68" fill="#f6d746"/><rect x="382.78" y="357.72" width="16.68" height="16.68" fill="#f1f179"/><rect x="398.86" y="357.72" width="16.68" height="16.68" fill="#f4f88e"/><rect x="414.94" y="357.72" width="16.68" height="16.68" fill="#f1f179"/><rect x="431.02" y="357.72" width="16.68" height="16.68" fill="#f6d746"/><rect x="447.1" y="357.72" width="16.68" height="16.68" fill="#fcac11"/><rect x="463.18" y="357.72" width="16.68" height="16.68" fill="#f57b17"/><rect x="479.26" y="357.72" width="16.68" height="16.68" fill="#db503b"/><rect x="495.34" y="357.72" width="16.68" height="16.68" fill="#b43359"/><rect x="511.42" y="357.72" width="16.68" height="16.68" fill="#8c2369"/><rect x="527.5" y="357.72" width="16.68" height="16.68" fill="#67166e"/><rect x="543.58" y="357.72" width="16.68" height="16.68" fill="#4a0c6b"/><rect x="559.66" y="357.72" width="16.68" height="16.68" fill="#320a5e"/><rect x="575.74" y="357.72" width="16.68" height="16.68" fill="#1f0c48"/><rect x="591.82" y="357.72" width="16.68" height="16.68" fill="#150b37"/><rect x="607.9" y="357.72" width="16.68" height="16.68" fill="#10092d"/><rect x="623.98" y="357.72" width="16.68" height="16.68" fill="#0c0826"/><rect x="640.06" y="357.72" width="16.68" height="16.68" fill="#0a0722"/><rect x="656.14" y="357.72" width="16.68" height="16.68" fill="#09061f"/><rect x="141.58" y="373.8" width="16.68" height="16.68" fill="#09061f"/><rect x="157.66" y="373.8" width="16.68" height="16.68" fill="#0a0722"/><rect x="173.74" y="373.8" width="16.68" height="16.68" fill="#0b0724"/><rect x="189.82" y="373.8" width="16.68" height="16.68" fill="#0e092b"/><rect x="205.9" y="373.8" width="16.68" height="16.68" fill="#140b34"/><rect x="221.98" y="373.8" width="16.68" height="16.68" fill="#1c0c43"/><rect x="238.06" y="373.8" width="16.68" height="16.68" fill="#2d0b59"/><rect x="254.14" y="373.8" width="16.68" height="16.68" fill="#420a68"/><rect x="270.22" y="373.8" width="16.68" height="16.68" fill="#5c126e"/><rect x="286.3" y="373.8" width="16.68" height="16.68" fill="#7d1e6d"/><rect x="302.38" y="373.8" width="16.68" height="16.68" fill="#a22b62"/><rect x="318.46" y="373.8" width="16.68" height="16.68" fill="#c73e4c"/><rect x="334.54" y="373.8" width="16.68" height="16.68" fill="#e65d2f"/><rect x="350.62" y="373.8" width="16.68" height="16.68" fill="#f78212"/><rect x="366.7" y="373.8" width="16.68" height="16.68" fill="#fca50a"/><rect x="382.78" y="373.8" width="16.68" height="16.68" fill="#fbbe23"/><rect x="398.86" y="373.8" width="16.68" height="16.68" fill="#fac62d"/><rect x="414.94" y="373.8" width="16.68" height="16.68" fill="#fbbc21"/><rect x="431.02" y="373.8" width="16.68" height="16.68" fill="#fca50a"/><rect x="447.1" y="373.8" width="16.68" height="16.68" fill="#f78212"/><rect x="463.18" y="373.8" width="16.68" height="16.68" fill="#e55c30"/><rect x="479.26" y="373.8" width="16.68" height="16.68" fill="#c73e4c"/><rect x="495.34" y="373.8" width="16.68" height="16.68" fill="#a02a63"/><rect x="511.42" y="373.8" width="16.68" height="16.68" fill="#7c1d6d"/><rect x="527.5" y="373.8" width="16.68" height="16.68" fill="#5c126e"/><rect x="543.58" y="373.8" width="16.68" height="16.68" fill="#420a68"/><rect x="559.66" y="373.8" width="16.68" height="16.68" fill="#2b0b57"/><rect x="575.74" y="373.8" width="16.68" height="16.68" fill="#1c0c43"/><rect x="591.82" y="373.8" width="16.68" height="16.68" fill="#140b34"/><rect x="607.9" y="373.8" width="16.68" height="16.68" fill="#0e092b"/><rect x="623.98" y="373.8" width="16.68" height="16.68" fill="#0b0724"/><rect x="640.06" y="373.8" width="16.68" height="16.68" fill="#0a0722"/><rect x="656.14" y="373.8" width="16.68" height="16.68" fill="#09061f"/><rect x="141.58" y="389.88" width="16.68" height="16.68" fill="#09061f"/><rect x="157.66" y="389.88" width="16.68" height="16.68" fill="#09061f"/><rect x="173.74" y="389.88" width="16.68" height="16.68" fill="#0b0724"/><rect x="189.82" y="389.88" width="16.68" height="16.68" fill="#0d0829"/><rect x="205.9" y="389.88" width="16.68" height="16.68" fill="#110a30"/><rect x="221.98" y="389.88" width="16.68" height="16.68" fill="#190c3e"/><rect x="238.06" y="389.88" width="16.68" height="16.68" fill="#260c51"/><rect x="254.14" y="389.88" width="16.68" height="16.68" fill="#380962"/><rect x="270.22" y="389.88" width="16.68" height="16.68" fill="#4f0d6c"/><rect x="286.3" y="389.88" width="16.68" height="16.68" fill="#6a176e"/><rect x="302.38" y="389.88" width="16.68" height="16.68" fill="#8a226a"/><rect x="318.46" y="389.88" width="16.68" height="16.68" fill="#ab2f5e"/><rect x="334.54" y="389.88" width="16.68" height="16.68" fill="#cb4149"/><rect x="350.62" y="389.88" width="16.68" height="16.68" fill="#e35933"/><rect x="366.7" y="389.88" width="16.68" height="16.68" fill="#f1711f"/><rect x="382.78" y="389.88" width="16.68" height="16.68" fill="#f78212"/><rect x="398.86" y="389.88" width="16.68" height="16.68" fill="#f8890c"/><rect x="414.94" y="389.88" width="16.68" height="16.68" fill="#f78212"/><rect x="431.02" y="389.88" width="16.68" height="16.68" fill="#f06f20"/><rect x="447.1" y="389.88" width="16.68" height="16.68" fill="#e25734"/><rect x="463.18" y="389.88" width="16.68" height="16.68" fill="#ca404a"/><rect x="479.26" y="389.88" width="16.68" height="16.68" fill="#ab2f5e"/><rect x="495.34" y="389.88" width="16.68" height="16.68" fill="#88226a"/><rect x="511.42" y="389.88" width="16.68" height="16.68" fill="#69166e"/><rect x="527.5" y="389.88" width="16.68" height="16.68" fill="#4f0d6c"/><rect x="543.58" y="389.88" width="16.68" height="16.68" fill="#380962"/><rect x="559.66" y="389.88" width="16.68" height="16.68" fill="#240c4f"/><rect x="575.74" y="389.88" width="16.68" height="16.68" fill="#190c3e"/><rect x="591.82" y="389.88" width="16.68" height="16.68" fill="#110a30"/><rect x="607.9" y="389.88" width="16.68" height="16.68" fill="#0d0829"/><rect x="623.98" y="389.88" width="16.68" height="16.68" fill="#0b0724"/><rect x="640.06" y="389.88" width="16.68" height="16.68" fill="#09061f"/><rect x="656.14" y="389.88" width="16.68" height="16.68" fill="#09061f"/><rect x="141.58" y="405.96" width="16.68" height="16.68" fill="#09061f"/><rect x="157.66" y="405.96" width="16.68" height="16.68" fill="#09061f"/><rect x="173.74" y="405.96" width="16.68" height="16.68" fill="#0a0722"/><rect x="189.82" y="405.96" width="16.68" height="16.68" fill="#0c0826"/><rect x="205.9" y="405.96" width="16.68" height="16.68" fill="#10092d"/><rect x="221.98" y="405.96" width="16.68" height="16.68" fill="#150b37"/><rect x="238.06" y="405.96" width="16.68" height="16.68" fill="#1e0c45"/><rect x="254.14" y="405.96" width="16.68" height="16.68" fill="#2d0b59"/><rect x="270.22" y="405.96" width="16.68" height="16.68" fill="#400a67"/><rect x="286.3" y="405.96" width="16.68" height="16.68" fill="#57106e"/><rect x="302.38" y="405.96" width="16.68" height="16.68" fill="#71196e"/><rect x="318.46" y="405.96" width="16.68" height="16.68" fill="#8c2369"/><rect x="334.54" y="405.96" width="16.68" height="16.68" fill="#a82e5f"/><rect x="350.62" y="405.96" width="16.68" height="16.68" fill="#c03a51"/><rect x="366.7" y="405.96" width="16.68" height="16.68" fill="#d24644"/><rect x="382.78" y="405.96" width="16.68" height="16.68" fill="#db503b"/><rect x="398.86" y="405.96" width="16.68" height="16.68" fill="#df5337"/><rect x="414.94" y="405.96" width="16.68" height="16.68" fill="#db503b"/><rect x="431.02" y="405.96" width="16.68" height="16.68" fill="#d24644"/><rect x="447.1" y="405.96" width="16.68" height="16.68" fill="#c03a51"/><rect x="463.18" y="405.96" width="16.68" height="16.68" fill="#a62d60"/><rect x="479.26" y="405.96" width="16.68" height="16.68" fill="#8c2369"/><rect x="495.34" y="405.96" width="16.68" height="16.68" fill="#71196e"/><rect x="511.42" y="405.96" width="16.68" height="16.68" fill="#57106e"/><rect x="527.5" y="405.96" width="16.68" height="16.68" fill="#400a67"/><rect x="543.58" y="405.96" width="16.68" height="16.68" fill="#2d0b59"/><rect x="559.66" y="405.96" width="16.68" height="16.68" fill="#1e0c45"/><rect x="575.74" y="405.96" width="16.68" height="16.68" fill="#150b37"/><rect x="591.82" y="405.96" width="16.68" height="16.68" fill="#10092d"/><rect x="607.9" y="405.96" width="16.68" height="16.68" fill="#0c0826"/><rect x="623.98" y="405.96" width="16.68" height="16.68" fill="#0a0722"/><rect x="640.06" y="405.96" width="16.68" height="16.68" fill="#09061f"/><rect x="656.14" y="405.96" width="16.68" height="16.68" fill="#09061f"/><rect x="157.66" y="422.04" width="16.68" height="16.68" fill="#09061f"/><rect x="173.74" y="422.04" width="16.68" height="16.68" fill="#0a0722"/><rect x="189.82" y="422.04" width="16.68" height="16.68" fill="#0b0724"/><rect x="205.9" y="422.04" width="16.68" height="16.68" fill="#0d0829"/><rect x="221.98" y="422.04" width="16.68" height="16.68" fill="#120a32"/><rect x="238.06" y="422.04" width="16.68" height="16.68" fill="#190c3e"/><rect x="254.14" y="422.04" width="16.68" height="16.68" fill="#230c4c"/><rect x="270.22" y="422.04" width="16.68" height="16.68" fill="#320a5e"/><rect x="286.3" y="422.04" width="16.68" height="16.68" fill="#450a69"/><rect x="302.38" y="422.04" width="16.68" height="16.68" fill="#59106e"/><rect x="318.46" y="422.04" width="16.68" height="16.68" fill="#6d186e"/><rect x="334.54" y="422.04" width="16.68" height="16.68" fill="#84206b"/><rect x="350.62" y="422.04" width="16.68" height="16.68" fill="#982766"/><rect x="366.7" y="422.04" width="16.68" height="16.68" fill="#a82e5f"/><rect x="382.78" y="422.04" width="16.68" height="16.68" fill="#b1325a"/><rect x="398.86" y="422.04" width="16.68" height="16.68" fill="#b43359"/><rect x="414.94" y="422.04" width="16.68" height="16.68" fill="#b1325a"/><rect x="431.02" y="422.04" width="16.68" height="16.68" fill="#a62d60"/><rect x="447.1" y="422.04" width="16.68" height="16.68" fill="#972766"/><rect x="463.18" y="422.04" width="16.68" height="16.68" fill="#84206b"/><rect x="479.26" y="422.04" width="16.68" height="16.68" fill="#6d186e"/><rect x="495.34" y="422.04" width="16.68" height="16.68" fill="#59106e"/><rect x="511.42" y="422.04" width="16.68" height="16.68" fill="#440a68"/><rect x="527.5" y="422.04" width="16.68" height="16.68" fill="#320a5e"/><rect x="543.58" y="422.04" width="16.68" height="16.68" fill="#230c4c"/><rect x="559.66" y="422.04" width="16.68" height="16.68" fill="#180c3c"/><rect x="575.74" y="422.04" width="16.68" height="16.68" fill="#120a32"/><rect x="591.82" y="422.04" width="16.68" height="16.68" fill="#0d0829"/><rect x="607.9" y="422.04" width="16.68" height="16.68" fill="#0b0724"/><rect x="623.98" y="422.04" width="16.68" height="16.68" fill="#0a0722"/><rect x="640.06" y="422.04" width="16.68" height="16.68" fill="#09061f"/><rect x="157.66" y="438.12" width="16.68" height="16.68" fill="#09061f"/><rect x="173.74" y="438.12" width="16.68" height="16.68" fill="#09061f"/><rect x="189.82" y="438.12" width="16.68" height="16.68" fill="#0a0722"/><rect x="205.9" y="438.12" width="16.68" height="16.68" fill="#0c0826"/><rect x="221.98" y="438.12" width="16.68" height="16.68" fill="#0e092b"/><rect x="238.06" y="438.12" width="16.68" height="16.68" fill="#140b34"/><rect x="254.14" y="438.12" width="16.68" height="16.68" fill="#1b0c41"/><rect x="270.22" y="438.12" width="16.68" height="16.68" fill="#240c4f"/><rect x="286.3" y="438.12" width="16.68" height="16.68" fill="#320a5e"/><rect x="302.38" y="438.12" width="16.68" height="16.68" fill="#440a68"/><rect x="318.46" y="438.12" width="16.68" height="16.68" fill="#540f6d"/><rect x="334.54" y="438.12" width="16.68" height="16.68" fill="#64156e"/><rect x="350.62" y="438.12" width="16.68" height="16.68" fill="#721a6e"/><rect x="366.7" y="438.12" width="16.68" height="16.68" fill="#7f1e6c"/><rect x="382.78" y="438.12" width="16.68" height="16.68" fill="#87216b"/><rect x="398.86" y="438.12" width="16.68" height="16.68" fill="#88226a"/><rect x="414.94" y="438.12" width="16.68" height="16.68" fill="#85216b"/><rect x="431.02" y="438.12" width="16.68" height="16.68" fill="#7d1e6d"/><rect x="447.1" y="438.12" width="16.68" height="16.68" fill="#721a6e"/><rect x="463.18" y="438.12" width="16.68" height="16.68" fill="#64156e"/><rect x="479.26" y="438.12" width="16.68" height="16.68" fill="#520e6d"/><rect x="495.34" y="438.12" width="16.68" height="16.68" fill="#420a68"/><rect x="511.42" y="438.12" width="16.68" height="16.68" fill="#320a5e"/><rect x="527.5" y="438.12" width="16.68" height="16.68" fill="#240c4f"/><rect x="543.58" y="438.12" width="16.68" height="16.68" fill="#1b0c41"/><rect x="559.66" y="438.12" width="16.68" height="16.68" fill="#140b34"/><rect x="575.74" y="438.12" width="16.68" height="16.68" fill="#0e092b"/><rect x="591.82" y="438.12" width="16.68" height="16.68" fill="#0c0826"/><rect x="607.9" y="438.12" width="16.68" height="16.68" fill="#0a0722"/><rect x="623.98" y="438.12" width="16.68" height="16.68" fill="#09061f"/><rect x="640.06" y="438.12" width="16.68" height="16.68" fill="#09061f"/><rect x="173.74" y="454.2" width="16.68" height="16.68" fill="#09061f"/><rect x="189.82" y="454.2" width="16.68" height="16.68" fill="#0a0722"/><rect x="205.9" y="454.2" width="16.68" height="16.68" fill="#0b0724"/><rect x="221.98" y="454.2" width="16.68" height="16.68" fill="#0d0829"/><rect x="238.06" y="454.2" width="16.68" height="16.68" fill="#10092d"/><rect x="254.14" y="454.2" width="16.68" height="16.68" fill="#150b37"/><rect x="270.22" y="454.2" width="16.68" height="16.68" fill="#1b0c41"/><rect x="286.3" y="454.2" width="16.68" height="16.68" fill="#240c4f"/><rect x="302.38" y="454.2" width="16.68" height="16.68" fill="#310a5c"/><rect x="318.46" y="454.2" width="16.68" height="16.68" fill="#3d0965"/><rect x="334.54" y="454.2" width="16.68" height="16.68" fill="#490b6a"/><rect x="350.62" y="454.2" width="16.68" height="16.68" fill="#540f6d"/><rect x="366.7" y="454.2" width="16.68" height="16.68" fill="#5c126e"/><rect x="382.78" y="454.2" width="16.68" height="16.68" fill="#61136e"/><rect x="398.86" y="454.2" width="16.68" height="16.68" fill="#64156e"/><rect x="414.94" y="454.2" width="16.68" height="16.68" fill="#61136e"/><rect x="431.02" y="454.2" width="16.68" height="16.68" fill="#5c126e"/><rect x="447.1" y="454.2" width="16.68" height="16.68" fill="#520e6d"/><rect x="463.18" y="454.2" width="16.68" height="16.68" fill="#490b6a"/><rect x="479.26" y="454.2" width="16.68" height="16.68" fill="#3d0965"/><rect x="495.34" y="454.2" width="16.68" height="16.68" fill="#2f0a5b"/><rect x="511.42" y="454.2" width="16.68" height="16.68" fill="#240c4f"/><rect x="527.5" y="454.2" width="16.68" height="16.68" fill="#1b0c41"/><rect x="543.58" y="454.2" width="16.68" height="16.68" fill="#150b37"/><rect x="559.66" y="454.2" width="16.68" height="16.68" fill="#10092d"/><rect x="575.74" y="454.2" width="16.68" height="16.68" fill="#0c0826"/><rect x="591.82" y="454.2" width="16.68" height="16.68" fill="#0b0724"/><rect x="607.9" y="454.2" width="16.68" height="16.68" fill="#0a0722"/><rect x="623.98" y="454.2" width="16.68" height="16.68" fill="#09061f"/><rect x="173.74" y="470.28" width="16.68" height="16.68" fill="#09061f"/><rect x="189.82" y="470.28" width="16.68" height="16.68" fill="#09061f"/><rect x="205.9" y="470.28" width="16.68" height="16.68" fill="#0a0722"/><rect x="221.98" y="470.28" width="16.68" height="16.68" fill="#0b0724"/><rect x="238.06" y="470.28" width="16.68" height="16.68" fill="#0d0829"/><rect x="254.14" y="470.28" width="16.68" height="16.68" fill="#10092d"/><rect x="270.22" y="470.28" width="16.68" height="16.68" fill="#140b34"/><rect x="286.3" y="470.28" width="16.68" height="16.68" fill="#190c3e"/><rect x="302.38" y="470.28" width="16.68" height="16.68" fill="#210c4a"/><rect x="318.46" y="470.28" width="16.68" height="16.68" fill="#290b55"/><rect x="334.54" y="470.28" width="16.68" height="16.68" fill="#320a5e"/><rect x="350.62" y="470.28" width="16.68" height="16.68" fill="#390963"/><rect x="366.7" y="470.28" width="16.68" height="16.68" fill="#400a67"/><rect x="382.78" y="470.28" width="16.68" height="16.68" fill="#440a68"/><rect x="398.86" y="470.28" width="16.68" height="16.68" fill="#450a69"/><rect x="414.94" y="470.28" width="16.68" height="16.68" fill="#440a68"/><rect x="431.02" y="470.28" width="16.68" height="16.68" fill="#400a67"/><rect x="447.1" y="470.28" width="16.68" height="16.68" fill="#390963"/><rect x="463.18" y="470.28" width="16.68" height="16.68" fill="#320a5e"/><rect x="479.26" y="470.28" width="16.68" height="16.68" fill="#290b55"/><rect x="495.34" y="470.28" width="16.68" height="16.68" fill="#210c4a"/><rect x="511.42" y="470.28" width="16.68" height="16.68" fill="#190c3e"/><rect x="527.5" y="470.28" width="16.68" height="16.68" fill="#140b34"/><rect x="543.58" y="470.28" width="16.68" height="16.68" fill="#10092d"/><rect x="559.66" y="470.28" width="16.68" height="16.68" fill="#0d0829"/><rect x="575.74" y="470.28" width="16.68" height="16.68" fill="#0b0724"/><rect x="591.82" y="470.28" width="16.68" height="16.68" fill="#0a0722"/><rect x="607.9" y="470.28" width="16.68" height="16.68" fill="#09061f"/><rect x="623.98" y="470.28" width="16.68" height="16.68" fill="#09061f"/><rect x="189.82" y="486.36" width="16.68" height="16.68" fill="#09061f"/><rect x="205.9" y="486.36" width="16.68" height="16.68" fill="#09061f"/><rect x="221.98" y="486.36" width="16.68" height="16.68" fill="#0a0722"/><rect x="238.06" y="486.36" width="16.68" height="16.68" fill="#0b0724"/><rect x="254.14" y="486.36" width="16.68" height="16.68" fill="#0d0829"/><rect x="270.22" y="486.36" width="16.68" height="16.68" fill="#10092d"/><rect x="286.3" y="486.36" width="16.68" height="16.68" fill="#120a32"/><rect x="302.38" y="486.36" width="16.68" height="16.68" fill="#160b39"/><rect x="318.46" y="486.36" width="16.68" height="16.68" fill="#1c0c43"/><rect x="334.54" y="486.36" width="16.68" height="16.68" fill="#210c4a"/><rect x="350.62" y="486.36" width="16.68" height="16.68" fill="#260c51"/><rect x="366.7" y="486.36" width="16.68" height="16.68" fill="#290b55"/><rect x="382.78" y="486.36" width="16.68" height="16.68" fill="#2d0b59"/><rect x="398.86" y="486.36" width="16.68" height="16.68" fill="#2d0b59"/><rect x="414.94" y="486.36" width="16.68" height="16.68" fill="#2d0b59"/><rect x="431.02" y="486.36" width="16.68" height="16.68" fill="#290b55"/><rect x="447.1" y="486.36" width="16.68" height="16.68" fill="#260c51"/><rect x="463.18" y="486.36" width="16.68" height="16.68" fill="#210c4a"/><rect x="479.26" y="486.36" width="16.68" height="16.68" fill="#1b0c41"/><rect x="495.34" y="486.36" width="16.68" height="16.68" fill="#160b39"/><rect x="511.42" y="486.36" width="16.68" height="16.68" fill="#120a32"/><rect x="527.5" y="486.36" width="16.68" height="16.68" fill="#10092d"/><rect x="543.58" y="486.36" width="16.68" height="16.68" fill="#0d0829"/><rect x="559.66" y="486.36" width="16.68" height="16.68" fill="#0b0724"/><rect x="575.74" y="486.36" width="16.68" height="16.68" fill="#0a0722"/><rect x="591.82" y="486.36" width="16.68" height="16.68" fill="#09061f"/><rect x="607.9" y="486.36" width="16.68" height="16.68" fill="#09061f"/><rect x="205.9" y="502.44" width="16.68" height="16.68" fill="#09061f"/><rect x="221.98" y="502.44" width="16.68" height="16.68" fill="#09061f"/><rect x="238.06" y="502.44" width="16.68" height="16.68" fill="#0a0722"/><rect x="254.14" y="502.44" width="16.68" height="16.68" fill="#0b0724"/><rect x="270.22" y="502.44" width="16.68" height="16.68" fill="#0c0826"/><rect x="286.3" y="502.44" width="16.68" height="16.68" fill="#0e092b"/><rect x="302.38" y="502.44" width="16.68" height="16.68" fill="#110a30"/><rect x="318.46" y="502.44" width="16.68" height="16.68" fill="#140b34"/><rect x="334.54" y="502.44" width="16.68" height="16.68" fill="#160b39"/><rect x="350.62" y="502.44" width="16.68" height="16.68" fill="#190c3e"/><rect x="366.7" y="502.44" width="16.68" height="16.68" fill="#1b0c41"/><rect x="382.78" y="502.44" width="16.68" height="16.68" fill="#1c0c43"/><rect x="398.86" y="502.44" width="16.68" height="16.68" fill="#1e0c45"/><rect x="414.94" y="502.44" width="16.68" height="16.68" fill="#1c0c43"/><rect x="431.02" y="502.44" width="16.68" height="16.68" fill="#1b0c41"/><rect x="447.1" y="502.44" width="16.68" height="16.68" fill="#190c3e"/><rect x="463.18" y="502.44" width="16.68" height="16.68" fill="#160b39"/><rect x="479.26" y="502.44" width="16.68" height="16.68" fill="#140b34"/><rect x="495.34" y="502.44" width="16.68" height="16.68" fill="#110a30"/><rect x="511.42" y="502.44" width="16.68" height="16.68" fill="#0e092b"/><rect x="527.5" y="502.44" width="16.68" height="16.68" fill="#0c0826"/><rect x="543.58" y="502.44" width="16.68" height="16.68" fill="#0b0724"/><rect x="559.66" y="502.44" width="16.68" height="16.68" fill="#0a0722"/><rect x="575.74" y="502.44" width="16.68" height="16.68" fill="#09061f"/><rect x="591.82" y="502.44" width="16.68" height="16.68" fill="#09061f"/><rect x="221.98" y="518.52" width="16.68" height="16.68" fill="#09061f"/><rect x="238.06" y="518.52" width="16.68" height="16.68" fill="#09061f"/><rect x="254.14" y="518.52" width="16.68" height="16.68" fill="#0a0722"/><rect x="270.22" y="518.52" width="16.68" height="16.68" fill="#0b0724"/><rect x="286.3" y="518.52" width="16.68" height="16.68" fill="#0b0724"/><rect x="302.38" y="518.52" width="16.68" height="16.68" fill="#0d0829"/><rect x="318.46" y="518.52" width="16.68" height="16.68" fill="#0e092b"/><rect x="334.54" y="518.52" width="16.68" height="16.68" fill="#10092d"/><rect x="350.62" y="518.52" width="16.68" height="16.68" fill="#110a30"/><rect x="366.7" y="518.52" width="16.68" height="16.68" fill="#120a32"/><rect x="382.78" y="518.52" width="16.68" height="16.68" fill="#140b34"/><rect x="398.86" y="518.52" width="16.68" height="16.68" fill="#140b34"/><rect x="414.94" y="518.52" width="16.68" height="16.68" fill="#140b34"/><rect x="431.02" y="518.52" width="16.68" height="16.68" fill="#120a32"/><rect x="447.1" y="518.52" width="16.68" height="16.68" fill="#110a30"/><rect x="463.18" y="518.52" width="16.68" height="16.68" fill="#10092d"/><rect x="479.26" y="518.52" width="16.68" height="16.68" fill="#0e092b"/><rect x="495.34" y="518.52" width="16.68" height="16.68" fill="#0d0829"/><rect x="511.42" y="518.52" width="16.68" height="16.68" fill="#0b0724"/><rect x="527.5" y="518.52" width="16.68" height="16.68" fill="#0a0722"/><rect x="543.58" y="518.52" width="16.68" height="16.68" fill="#0a0722"/><rect x="559.66" y="518.52" width="16.68" height="16.68" fill="#09061f"/><rect x="575.74" y="518.52" width="16.68" height="16.68" fill="#09061f"/><rect x="238.06" y="534.6" width="16.68" height="16.68" fill="#09061f"/><rect x="254.14" y="534.6" width="16.68" height="16.68" fill="#09061f"/><rect x="270.22" y="534.6" width="16.68" height="16.68" fill="#09061f"/><rect x="286.3" y="534.6" width="16.68" height="16.68" fill="#0a0722"/><rect x="302.38" y="534.6" width="16.68" height="16.68" fill="#0b0724"/><rect x="318.46" y="534.6" width="16.68" height="16.68" fill="#0b0724"/><rect x="334.54" y="534.6" width="16.68" height="16.68" fill="#0c0826"/><rect x="350.62" y="534.6" width="16.68" height="16.68" fill="#0d0829"/><rect x="366.7" y="534.6" width="16.68" height="16.68" fill="#0d0829"/><rect x="382.78" y="534.6" width="16.68" height="16.68" fill="#0e092b"/><rect x="398.86" y="534.6" width="16.68" height="16.68" fill="#0e092b"/><rect x="414.94" y="534.6" width="16.68" height="16.68" fill="#0e092b"/><rect x="431.02" y="534.6" width="16.68" height="16.68" fill="#0d0829"/><rect x="447.1" y="534.6" width="16.68" height="16.68" fill="#0d0829"/><rect x="463.18" y="534.6" width="16.68" height="16.68" fill="#0c0826"/><rect x="479.26" y="534.6" width="16.68" height="16.68" fill="#0b0724"/><rect x="495.34" y="534.6" width="16.68" height="16.68" fill="#0b0724"/><rect x="511.42" y="534.6" width="16.68" height="16.68" fill="#0a0722"/><rect x="527.5" y="534.6" width="16.68" height="16.68" fill="#09061f"/><rect x="543.58" y="534.6" width="16.68" height="16.68" fill="#09061f"/><rect x="559.66" y="534.6" width="16.68" height="16.68" fill="#09061f"/><rect x="270.22" y="550.68" width="16.68" height="16.68" fill="#09061f"/><rect x="286.3" y="550.68" width="16.68" height="16.68" fill="#09061f"/><rect x="302.38" y="550.68" width="16.68" height="16.68" fill="#09061f"/><rect x="318.46" y="550.68" width="16.68" height="16.68" fill="#0a0722"/><rect x="334.54" y="550.68" width="16.68" height="16.68" fill="#0a0722"/><rect x="350.62" y="550.68" width="16.68" height="16.68" fill="#0b0724"/><rect x="366.7" y="550.68" width="16.68" height="16.68" fill="#0b0724"/><rect x="382.78" y="550.68" width="16.68" height="16.68" fill="#0b0724"/><rect x="398.86" y="550.68" width="16.68" height="16.68" fill="#0b0724"/><rect x="414.94" y="550.68" width="16.68" height="16.68" fill="#0b0724"/><rect x="431.02" y="550.68" width="16.68" height="16.68" fill="#0b0724"/><rect x="447.1" y="550.68" width="16.68" height="16.68" fill="#0b0724"/><rect x="463.18" y="550.68" width="16.68" height="16.68" fill="#0a0722"/><rect x="479.26" y="550.68" width="16.68" height="16.68" fill="#0a0722"/><rect x="495.34" y="550.68" width="16.68" height="16.68" fill="#09061f"/><rect x="511.42" y="550.68" width="16.68" height="16.68" fill="#09061f"/><rect x="527.5" y="550.68" width="16.68" height="16.68" fill="#09061f"/><rect x="302.38" y="566.76" width="16.68" height="16.68" fill="#09061f"/><rect x="318.46" y="566.76" width="16.68" height="16.68" fill="#09061f"/><rect x="334.54" y="566.76" width="16.68" height="16.68" fill="#09061f"/><rect x="350.62" y="566.76" width="16.68" height="16.68" fill="#09061f"/><rect x="366.7" y="566.76" width="16.68" height="16.68" fill="#09061f"/><rect x="382.78" y="566.76" width="16.68" height="16.68" fill="#0a0722"/><rect x="398.86" y="566.76" width="16.68" height="16.68" fill="#0a0722"/><rect x="414.94" y="566.76" width="16.68" height="16.68" fill="#0a0722"/><rect x="431.02" y="566.76" width="16.68" height="16.68" fill="#09061f"/><rect x="447.1" y="566.76" width="16.68" height="16.68" fill="#09061f"/><rect x="463.18" y="566.76" width="16.68" height="16.68" fill="#09061f"/><rect x="479.26" y="566.76" width="16.68" height="16.68" fill="#09061f"/><rect x="495.34" y="566.76" width="16.68" height="16.68" fill="#09061f"/><rect x="334.54" y="582.84" width="16.68" height="16.68" fill="#09061f"/><rect x="350.62" y="582.84" width="16.68" height="16.68" fill="#09061f"/><rect x="366.7" y="582.84" width="16.68" height="16.68" fill="#09061f"/><rect x="382.78" y="582.84" width="16.68" height="16.68" fill="#09061f"/><rect x="398.86" y="582.84" width="16.68" height="16.68" fill="#09061f"/><rect x="414.94" y="582.84" width="16.68" height="16.68" fill="#09061f"/><rect x="431.02" y="582.84" width="16.68" height="16.68" fill="#09061f"/><rect x="447.1" y="582.84" width="16.68" height="16.68" fill="#09061f"/></g>
<g clip-path="url(#cl01)" shape-rendering="crispEdges"><rect x="734.1" y="33.75" width="584.8" height="584.8" fill="#050417"/><rect x="860.91" y="20.04" width="16.68" height="16.68" fill="#060419"/><rect x="876.99" y="20.04" width="16.68" height="16.68" fill="#060419"/><rect x="893.07" y="20.04" width="16.68" height="16.68" fill="#060419"/><rect x="909.15" y="20.04" width="16.68" height="16.68" fill="#060419"/><rect x="925.23" y="20.04" width="16.68" height="16.68" fill="#060419"/><rect x="941.31" y="20.04" width="16.68" height="16.68" fill="#060419"/><rect x="957.39" y="20.04" width="16.68" height="16.68" fill="#060419"/><rect x="973.47" y="20.04" width="16.68" height="16.68" fill="#060419"/><rect x="989.55" y="20.04" width="16.68" height="16.68" fill="#060419"/><rect x="1005.63" y="20.04" width="16.68" height="16.68" fill="#060419"/><rect x="1021.71" y="20.04" width="16.68" height="16.68" fill="#060419"/><rect x="1037.79" y="20.04" width="16.68" height="16.68" fill="#060419"/><rect x="1053.87" y="20.04" width="16.68" height="16.68" fill="#060419"/><rect x="1069.95" y="20.04" width="16.68" height="16.68" fill="#060419"/><rect x="1086.03" y="20.04" width="16.68" height="16.68" fill="#060419"/><rect x="1102.11" y="20.04" width="16.68" height="16.68" fill="#060419"/><rect x="1118.19" y="20.04" width="16.68" height="16.68" fill="#060419"/><rect x="1134.27" y="20.04" width="16.68" height="16.68" fill="#060419"/><rect x="1150.35" y="20.04" width="16.68" height="16.68" fill="#060419"/><rect x="1166.43" y="20.04" width="16.68" height="16.68" fill="#060419"/><rect x="1182.51" y="20.04" width="16.68" height="16.68" fill="#060419"/><rect x="828.75" y="36.12" width="16.68" height="16.68" fill="#060419"/><rect x="844.83" y="36.12" width="16.68" height="16.68" fill="#060419"/><rect x="860.91" y="36.12" width="16.68" height="16.68" fill="#060419"/><rect x="876.99" y="36.12" width="16.68" height="16.68" fill="#060419"/><rect x="893.07" y="36.12" width="16.68" height="16.68" fill="#060419"/><rect x="909.15" y="36.12" width="16.68" height="16.68" fill="#060419"/><rect x="925.23" y="36.12" width="16.68" height="16.68" fill="#060419"/><rect x="941.31" y="36.12" width="16.68" height="16.68" fill="#060419"/><rect x="957.39" y="36.12" width="16.68" height="16.68" fill="#060419"/><rect x="973.47" y="36.12" width="16.68" height="16.68" fill="#060419"/><rect x="989.55" y="36.12" width="16.68" height="16.68" fill="#060419"/><rect x="1005.63" y="36.12" width="16.68" height="16.68" fill="#060419"/><rect x="1021.71" y="36.12" width="16.68" height="16.68" fill="#060419"/><rect x="1037.79" y="36.12" width="16.68" height="16.68" fill="#060419"/><rect x="1053.87" y="36.12" width="16.68" height="16.68" fill="#060419"/><rect x="1069.95" y="36.12" width="16.68" height="16.68" fill="#060419"/><rect x="1086.03" y="36.12" width="16.68" height="16.68" fill="#060419"/><rect x="1102.11" y="36.12" width="16.68" height="16.68" fill="#060419"/><rect x="1118.19" y="36.12" width="16.68" height="16.68" fill="#060419"/><rect x="1134.27" y="36.12" width="16.68" height="16.68" fill="#060419"/><rect x="1150.35" y="36.12" width="16.68" height="16.68" fill="#060419"/><rect x="1166.43" y="36.12" width="16.68" height="16.68" fill="#060419"/><rect x="1182.51" y="36.12" width="16.68" height="16.68" fill="#060419"/><rect x="1198.59" y="36.12" width="16.68" height="16.68" fill="#060419"/><rect x="1214.67" y="36.12" width="16.68" height="16.68" fill="#060419"/><rect x="812.67" y="52.2" width="16.68" height="16.68" fill="#060419"/><rect x="828.75" y="52.2" width="16.68" height="16.68" fill="#060419"/><rect x="844.83" y="52.2" width="16.68" height="16.68" fill="#060419"/><rect x="860.91" y="52.2" width="16.68" height="16.68" fill="#060419"/><rect x="876.99" y="52.2" width="16.68" height="16.68" fill="#060419"/><rect x="893.07" y="52.2" width="16.68" height="16.68" fill="#060419"/><rect x="909.15" y="52.2" width="16.68" height="16.68" fill="#060419"/><rect x="925.23" y="52.2" width="16.68" height="16.68" fill="#060419"/><rect x="941.31" y="52.2" width="16.68" height="16.68" fill="#060419"/><rect x="957.39" y="52.2" width="16.68" height="16.68" fill="#060419"/><rect x="973.47" y="52.2" width="16.68" height="16.68" fill="#060419"/><rect x="989.55" y="52.2" width="16.68" height="16.68" fill="#060419"/><rect x="1005.63" y="52.2" width="16.68" height="16.68" fill="#060419"/><rect x="1021.71" y="52.2" width="16.68" height="16.68" fill="#060419"/><rect x="1037.79" y="52.2" width="16.68" height="16.68" fill="#060419"/><rect x="1053.87" y="52.2" width="16.68" height="16.68" fill="#060419"/><rect x="1069.95" y="52.2" width="16.68" height="16.68" fill="#060419"/><rect x="1086.03" y="52.2" width="16.68" height="16.68" fill="#060419"/><rect x="1102.11" y="52.2" width="16.68" height="16.68" fill="#060419"/><rect x="1118.19" y="52.2" width="16.68" height="16.68" fill="#060419"/><rect x="1134.27" y="52.2" width="16.68" height="16.68" fill="#060419"/><rect x="1150.35" y="52.2" width="16.68" height="16.68" fill="#060419"/><rect x="1166.43" y="52.2" width="16.68" height="16.68" fill="#060419"/><rect x="1182.51" y="52.2" width="16.68" height="16.68" fill="#060419"/><rect x="1198.59" y="52.2" width="16.68" height="16.68" fill="#060419"/><rect x="1214.67" y="52.2" width="16.68" height="16.68" fill="#060419"/><rect x="1230.75" y="52.2" width="16.68" height="16.68" fill="#060419"/><rect x="796.59" y="68.28" width="16.68" height="16.68" fill="#060419"/><rect x="812.67" y="68.28" width="16.68" height="16.68" fill="#060419"/><rect x="828.75" y="68.28" width="16.68" height="16.68" fill="#060419"/><rect x="844.83" y="68.28" width="16.68" height="16.68" fill="#060419"/><rect x="860.91" y="68.28" width="16.68" height="16.68" fill="#060419"/><rect x="876.99" y="68.28" width="16.68" height="16.68" fill="#060419"/><rect x="893.07" y="68.28" width="16.68" height="16.68" fill="#060419"/><rect x="909.15" y="68.28" width="16.68" height="16.68" fill="#060419"/><rect x="925.23" y="68.28" width="16.68" height="16.68" fill="#060419"/><rect x="941.31" y="68.28" width="16.68" height="16.68" fill="#060419"/><rect x="957.39" y="68.28" width="16.68" height="16.68" fill="#07051b"/><rect x="973.47" y="68.28" width="16.68" height="16.68" fill="#07051b"/><rect x="989.55" y="68.28" width="16.68" height="16.68" fill="#07051b"/><rect x="1005.63" y="68.28" width="16.68" height="16.68" fill="#07051b"/><rect x="1021.71" y="68.28" width="16.68" height="16.68" fill="#07051b"/><rect x="1037.79" y="68.28" width="16.68" height="16.68" fill="#07051b"/><rect x="1053.87" y="68.28" width="16.68" height="16.68" fill="#07051b"/><rect x="1069.95" y="68.28" width="16.68" height="16.68" fill="#07051b"/><rect x="1086.03" y="68.28" width="16.68" height="16.68" fill="#07051b"/><rect x="1102.11" y="68.28" width="16.68" height="16.68" fill="#060419"/><rect x="1118.19" y="68.28" width="16.68" height="16.68" fill="#060419"/><rect x="1134.27" y="68.28" width="16.68" height="16.68" fill="#060419"/><rect x="1150.35" y="68.28" width="16.68" height="16.68" fill="#060419"/><rect x="1166.43" y="68.28" width="16.68" height="16.68" fill="#060419"/><rect x="1182.51" y="68.28" width="16.68" height="16.68" fill="#060419"/><rect x="1198.59" y="68.28" width="16.68" height="16.68" fill="#060419"/><rect x="1214.67" y="68.28" width="16.68" height="16.68" fill="#060419"/><rect x="1230.75" y="68.28" width="16.68" height="16.68" fill="#060419"/><rect x="1246.83" y="68.28" width="16.68" height="16.68" fill="#060419"/><rect x="780.51" y="84.36" width="16.68" height="16.68" fill="#060419"/><rect x="796.59" y="84.36" width="16.68" height="16.68" fill="#060419"/><rect x="812.67" y="84.36" width="16.68" height="16.68" fill="#060419"/><rect x="828.75" y="84.36" width="16.68" height="16.68" fill="#060419"/><rect x="844.83" y="84.36" width="16.68" height="16.68" fill="#060419"/><rect x="860.91" y="84.36" width="16.68" height="16.68" fill="#060419"/><rect x="876.99" y="84.36" width="16.68" height="16.68" fill="#060419"/><rect x="893.07" y="84.36" width="16.68" height="16.68" fill="#060419"/><rect x="909.15" y="84.36" width="16.68" height="16.68" fill="#060419"/><rect x="925.23" y="84.36" width="16.68" height="16.68" fill="#07051b"/><rect x="941.31" y="84.36" width="16.68" height="16.68" fill="#07051b"/><rect x="957.39" y="84.36" width="16.68" height="16.68" fill="#07051b"/><rect x="973.47" y="84.36" width="16.68" height="16.68" fill="#08051d"/><rect x="989.55" y="84.36" width="16.68" height="16.68" fill="#08051d"/><rect x="1005.63" y="84.36" width="16.68" height="16.68" fill="#08051d"/><rect x="1021.71" y="84.36" width="16.68" height="16.68" fill="#08051d"/><rect x="1037.79" y="84.36" width="16.68" height="16.68" fill="#08051d"/><rect x="1053.87" y="84.36" width="16.68" height="16.68" fill="#08051d"/><rect x="1069.95" y="84.36" width="16.68" height="16.68" fill="#08051d"/><rect x="1086.03" y="84.36" width="16.68" height="16.68" fill="#07051b"/><rect x="1102.11" y="84.36" width="16.68" height="16.68" fill="#07051b"/><rect x="1118.19" y="84.36" width="16.68" height="16.68" fill="#07051b"/><rect x="1134.27" y="84.36" width="16.68" height="16.68" fill="#060419"/><rect x="1150.35" y="84.36" width="16.68" height="16.68" fill="#060419"/><rect x="1166.43" y="84.36" width="16.68" height="16.68" fill="#060419"/><rect x="1182.51" y="84.36" width="16.68" height="16.68" fill="#060419"/><rect x="1198.59" y="84.36" width="16.68" height="16.68" fill="#060419"/><rect x="1214.67" y="84.36" width="16.68" height="16.68" fill="#060419"/><rect x="1230.75" y="84.36" width="16.68" height="16.68" fill="#060419"/><rect x="1246.83" y="84.36" width="16.68" height="16.68" fill="#060419"/><rect x="1262.91" y="84.36" width="16.68" height="16.68" fill="#060419"/><rect x="764.43" y="100.44" width="16.68" height="16.68" fill="#060419"/><rect x="780.51" y="100.44" width="16.68" height="16.68" fill="#060419"/><rect x="796.59" y="100.44" width="16.68" height="16.68" fill="#060419"/><rect x="812.67" y="100.44" width="16.68" height="16.68" fill="#060419"/><rect x="828.75" y="100.44" width="16.68" height="16.68" fill="#060419"/><rect x="844.83" y="100.44" width="16.68" height="16.68" fill="#060419"/><rect x="860.91" y="100.44" width="16.68" height="16.68" fill="#060419"/><rect x="876.99" y="100.44" width="16.68" height="16.68" fill="#060419"/><rect x="893.07" y="100.44" width="16.68" height="16.68" fill="#07051b"/><rect x="909.15" y="100.44" width="16.68" height="16.68" fill="#07051b"/><rect x="925.23" y="100.44" width="16.68" height="16.68" fill="#08051d"/><rect x="941.31" y="100.44" width="16.68" height="16.68" fill="#08051d"/><rect x="957.39" y="100.44" width="16.68" height="16.68" fill="#09061f"/><rect x="973.47" y="100.44" width="16.68" height="16.68" fill="#0a0722"/><rect x="989.55" y="100.44" width="16.68" height="16.68" fill="#0a0722"/><rect x="1005.63" y="100.44" width="16.68" height="16.68" fill="#0b0724"/><rect x="1021.71" y="100.44" width="16.68" height="16.68" fill="#0b0724"/><rect x="1037.79" y="100.44" width="16.68" height="16.68" fill="#0b0724"/><rect x="1053.87" y="100.44" width="16.68" height="16.68" fill="#0a0722"/><rect x="1069.95" y="100.44" width="16.68" height="16.68" fill="#0a0722"/><rect x="1086.03" y="100.44" width="16.68" height="16.68" fill="#09061f"/><rect x="1102.11" y="100.44" width="16.68" height="16.68" fill="#08051d"/><rect x="1118.19" y="100.44" width="16.68" height="16.68" fill="#08051d"/><rect x="1134.27" y="100.44" width="16.68" height="16.68" fill="#07051b"/><rect x="1150.35" y="100.44" width="16.68" height="16.68" fill="#07051b"/><rect x="1166.43" y="100.44" width="16.68" height="16.68" fill="#060419"/><rect x="1182.51" y="100.44" width="16.68" height="16.68" fill="#060419"/><rect x="1198.59" y="100.44" width="16.68" height="16.68" fill="#060419"/><rect x="1214.67" y="100.44" width="16.68" height="16.68" fill="#060419"/><rect x="1230.75" y="100.44" width="16.68" height="16.68" fill="#060419"/><rect x="1246.83" y="100.44" width="16.68" height="16.68" fill="#060419"/><rect x="1262.91" y="100.44" width="16.68" height="16.68" fill="#060419"/><rect x="1278.99" y="100.44" width="16.68" height="16.68" fill="#060419"/><rect x="748.35" y="116.52" width="16.68" height="16.68" fill="#060419"/><rect x="764.43" y="116.52" width="16.68" height="16.68" fill="#060419"/><rect x="780.51" y="116.52" width="16.68" height="16.68" fill="#060419"/><rect x="796.59" y="116.52" width="16.68" height="16.68" fill="#060419"/><rect x="812.67" y="116.52" width="16.68" height="16.68" fill="#060419"/><rect x="828.75" y="116.52" width="16.68" height="16.68" fill="#060419"/><rect x="844.83" y="116.52" width="16.68" height="16.68" fill="#060419"/><rect x="860.91" y="116.52" width="16.68" height="16.68" fill="#07051b"/><rect x="876.99" y="116.52" width="16.68" height="16.68" fill="#07051b"/><rect x="893.07" y="116.52" width="16.68" height="16.68" fill="#08051d"/><rect x="909.15" y="116.52" width="16.68" height="16.68" fill="#09061f"/><rect x="925.23" y="116.52" width="16.68" height="16.68" fill="#0a0722"/><rect x="941.31" y="116.52" width="16.68" height="16.68" fill="#0b0724"/><rect x="957.39" y="116.52" width="16.68" height="16.68" fill="#0c0826"/><rect x="973.47" y="116.52" width="16.68" height="16.68" fill="#0d0829"/><rect x="989.55" y="116.52" width="16.68" height="16.68" fill="#0e092b"/><rect x="1005.63" y="116.52" width="16.68" height="16.68" fill="#0e092b"/><rect x="1021.71" y="116.52" width="16.68" height="16.68" fill="#0e092b"/><rect x="1037.79" y="116.52" width="16.68" height="16.68" fill="#0e092b"/><rect x="1053.87" y="116.52" width="16.68" height="16.68" fill="#0e092b"/><rect x="1069.95" y="116.52" width="16.68" height="16.68" fill="#0d0829"/><rect x="1086.03" y="116.52" width="16.68" height="16.68" fill="#0c0826"/><rect x="1102.11" y="116.52" width="16.68" height="16.68" fill="#0b0724"/><rect x="1118.19" y="116.52" width="16.68" height="16.68" fill="#0a0722"/><rect x="1134.27" y="116.52" width="16.68" height="16.68" fill="#09061f"/><rect x="1150.35" y="116.52" width="16.68" height="16.68" fill="#08051d"/><rect x="1166.43" y="116.52" width="16.68" height="16.68" fill="#07051b"/><rect x="1182.51" y="116.52" width="16.68" height="16.68" fill="#07051b"/><rect x="1198.59" y="116.52" width="16.68" height="16.68" fill="#060419"/><rect x="1214.67" y="116.52" width="16.68" height="16.68" fill="#060419"/><rect x="1230.75" y="116.52" width="16.68" height="16.68" fill="#060419"/><rect x="1246.83" y="116.52" width="16.68" height="16.68" fill="#060419"/><rect x="1262.91" y="116.52" width="16.68" height="16.68" fill="#060419"/><rect x="1278.99" y="116.52" width="16.68" height="16.68" fill="#060419"/><rect x="1295.07" y="116.52" width="16.68" height="16.68" fill="#060419"/><rect x="748.35" y="132.6" width="16.68" height="16.68" fill="#060419"/><rect x="764.43" y="132.6" width="16.68" height="16.68" fill="#060419"/><rect x="780.51" y="132.6" width="16.68" height="16.68" fill="#060419"/><rect x="796.59" y="132.6" width="16.68" height="16.68" fill="#060419"/><rect x="812.67" y="132.6" width="16.68" height="16.68" fill="#060419"/><rect x="828.75" y="132.6" width="16.68" height="16.68" fill="#060419"/><rect x="844.83" y="132.6" width="16.68" height="16.68" fill="#07051b"/><rect x="860.91" y="132.6" width="16.68" height="16.68" fill="#07051b"/><rect x="876.99" y="132.6" width="16.68" height="16.68" fill="#08051d"/><rect x="893.07" y="132.6" width="16.68" height="16.68" fill="#09061f"/><rect x="909.15" y="132.6" width="16.68" height="16.68" fill="#0b0724"/><rect x="925.23" y="132.6" width="16.68" height="16.68" fill="#0c0826"/><rect x="941.31" y="132.6" width="16.68" height="16.68" fill="#0e092b"/><rect x="957.39" y="132.6" width="16.68" height="16.68" fill="#110a30"/><rect x="973.47" y="132.6" width="16.68" height="16.68" fill="#140b34"/><rect x="989.55" y="132.6" width="16.68" height="16.68" fill="#150b37"/><rect x="1005.63" y="132.6" width="16.68" height="16.68" fill="#160b39"/><rect x="1021.71" y="132.6" width="16.68" height="16.68" fill="#160b39"/><rect x="1037.79" y="132.6" width="16.68" height="16.68" fill="#160b39"/><rect x="1053.87" y="132.6" width="16.68" height="16.68" fill="#150b37"/><rect x="1069.95" y="132.6" width="16.68" height="16.68" fill="#140b34"/><rect x="1086.03" y="132.6" width="16.68" height="16.68" fill="#110a30"/><rect x="1102.11" y="132.6" width="16.68" height="16.68" fill="#0e092b"/><rect x="1118.19" y="132.6" width="16.68" height="16.68" fill="#0c0826"/><rect x="1134.27" y="132.6" width="16.68" height="16.68" fill="#0b0724"/><rect x="1150.35" y="132.6" width="16.68" height="16.68" fill="#09061f"/><rect x="1166.43" y="132.6" width="16.68" height="16.68" fill="#08051d"/><rect x="1182.51" y="132.6" width="16.68" height="16.68" fill="#07051b"/><rect x="1198.59" y="132.6" width="16.68" height="16.68" fill="#07051b"/><rect x="1214.67" y="132.6" width="16.68" height="16.68" fill="#060419"/><rect x="1230.75" y="132.6" width="16.68" height="16.68" fill="#060419"/><rect x="1246.83" y="132.6" width="16.68" height="16.68" fill="#060419"/><rect x="1262.91" y="132.6" width="16.68" height="16.68" fill="#060419"/><rect x="1278.99" y="132.6" width="16.68" height="16.68" fill="#060419"/><rect x="1295.07" y="132.6" width="16.68" height="16.68" fill="#060419"/><rect x="732.27" y="148.68" width="16.68" height="16.68" fill="#060419"/><rect x="748.35" y="148.68" width="16.68" height="16.68" fill="#060419"/><rect x="764.43" y="148.68" width="16.68" height="16.68" fill="#060419"/><rect x="780.51" y="148.68" width="16.68" height="16.68" fill="#060419"/><rect x="796.59" y="148.68" width="16.68" height="16.68" fill="#060419"/><rect x="812.67" y="148.68" width="16.68" height="16.68" fill="#060419"/><rect x="828.75" y="148.68" width="16.68" height="16.68" fill="#07051b"/><rect x="844.83" y="148.68" width="16.68" height="16.68" fill="#07051b"/><rect x="860.91" y="148.68" width="16.68" height="16.68" fill="#08051d"/><rect x="876.99" y="148.68" width="16.68" height="16.68" fill="#0a0722"/><rect x="893.07" y="148.68" width="16.68" height="16.68" fill="#0c0826"/><rect x="909.15" y="148.68" width="16.68" height="16.68" fill="#0e092b"/><rect x="925.23" y="148.68" width="16.68" height="16.68" fill="#120a32"/><rect x="941.31" y="148.68" width="16.68" height="16.68" fill="#150b37"/><rect x="957.39" y="148.68" width="16.68" height="16.68" fill="#190c3e"/><rect x="973.47" y="148.68" width="16.68" height="16.68" fill="#1e0c45"/><rect x="989.55" y="148.68" width="16.68" height="16.68" fill="#210c4a"/><rect x="1005.63" y="148.68" width="16.68" height="16.68" fill="#240c4f"/><rect x="1021.71" y="148.68" width="16.68" height="16.68" fill="#240c4f"/><rect x="1037.79" y="148.68" width="16.68" height="16.68" fill="#240c4f"/><rect x="1053.87" y="148.68" width="16.68" height="16.68" fill="#210c4a"/><rect x="1069.95" y="148.68" width="16.68" height="16.68" fill="#1e0c45"/><rect x="1086.03" y="148.68" width="16.68" height="16.68" fill="#190c3e"/><rect x="1102.11" y="148.68" width="16.68" height="16.68" fill="#150b37"/><rect x="1118.19" y="148.68" width="16.68" height="16.68" fill="#120a32"/><rect x="1134.27" y="148.68" width="16.68" height="16.68" fill="#0e092b"/><rect x="1150.35" y="148.68" width="16.68" height="16.68" fill="#0c0826"/><rect x="1166.43" y="148.68" width="16.68" height="16.68" fill="#0a0722"/><rect x="1182.51" y="148.68" width="16.68" height="16.68" fill="#08051d"/><rect x="1198.59" y="148.68" width="16.68" height="16.68" fill="#07051b"/><rect x="1214.67" y="148.68" width="16.68" height="16.68" fill="#07051b"/><rect x="1230.75" y="148.68" width="16.68" height="16.68" fill="#060419"/><rect x="1246.83" y="148.68" width="16.68" height="16.68" fill="#060419"/><rect x="1262.91" y="148.68" width="16.68" height="16.68" fill="#060419"/><rect x="1278.99" y="148.68" width="16.68" height="16.68" fill="#060419"/><rect x="1295.07" y="148.68" width="16.68" height="16.68" fill="#060419"/><rect x="1311.15" y="148.68" width="16.68" height="16.68" fill="#060419"/><rect x="732.27" y="164.76" width="16.68" height="16.68" fill="#060419"/><rect x="748.35" y="164.76" width="16.68" height="16.68" fill="#060419"/><rect x="764.43" y="164.76" width="16.68" height="16.68" fill="#060419"/><rect x="780.51" y="164.76" width="16.68" height="16.68" fill="#060419"/><rect x="796.59" y="164.76" width="16.68" height="16.68" fill="#060419"/><rect x="812.67" y="164.76" width="16.68" height="16.68" fill="#060419"/><rect x="828.75" y="164.76" width="16.68" height="16.68" fill="#07051b"/><rect x="844.83" y="164.76" width="16.68" height="16.68" fill="#08051d"/><rect x="860.91" y="164.76" width="16.68" height="16.68" fill="#0a0722"/><rect x="876.99" y="164.76" width="16.68" height="16.68" fill="#0c0826"/><rect x="893.07" y="164.76" width="16.68" height="16.68" fill="#10092d"/><rect x="909.15" y="164.76" width="16.68" height="16.68" fill="#140b34"/><rect x="925.23" y="164.76" width="16.68" height="16.68" fill="#190c3e"/><rect x="941.31" y="164.76" width="16.68" height="16.68" fill="#210c4a"/><rect x="957.39" y="164.76" width="16.68" height="16.68" fill="#290b55"/><rect x="973.47" y="164.76" width="16.68" height="16.68" fill="#310a5c"/><rect x="989.55" y="164.76" width="16.68" height="16.68" fill="#360961"/><rect x="1005.63" y="164.76" width="16.68" height="16.68" fill="#390963"/><rect x="1021.71" y="164.76" width="16.68" height="16.68" fill="#3b0964"/><rect x="1037.79" y="164.76" width="16.68" height="16.68" fill="#390963"/><rect x="1053.87" y="164.76" width="16.68" height="16.68" fill="#360961"/><rect x="1069.95" y="164.76" width="16.68" height="16.68" fill="#310a5c"/><rect x="1086.03" y="164.76" width="16.68" height="16.68" fill="#290b55"/><rect x="1102.11" y="164.76" width="16.68" height="16.68" fill="#210c4a"/><rect x="1118.19" y="164.76" width="16.68" height="16.68" fill="#190c3e"/><rect x="1134.27" y="164.76" width="16.68" height="16.68" fill="#140b34"/><rect x="1150.35" y="164.76" width="16.68" height="16.68" fill="#10092d"/><rect x="1166.43" y="164.76" width="16.68" height="16.68" fill="#0c0826"/><rect x="1182.51" y="164.76" width="16.68" height="16.68" fill="#0a0722"/><rect x="1198.59" y="164.76" width="16.68" height="16.68" fill="#08051d"/><rect x="1214.67" y="164.76" width="16.68" height="16.68" fill="#07051b"/><rect x="1230.75" y="164.76" width="16.68" height="16.68" fill="#060419"/><rect x="1246.83" y="164.76" width="16.68" height="16.68" fill="#060419"/><rect x="1262.91" y="164.76" width="16.68" height="16.68" fill="#060419"/><rect x="1278.99" y="164.76" width="16.68" height="16.68" fill="#060419"/><rect x="1295.07" y="164.76" width="16.68" height="16.68" fill="#060419"/><rect x="1311.15" y="164.76" width="16.68" height="16.68" fill="#060419"/><rect x="732.27" y="180.84" width="16.68" height="16.68" fill="#060419"/><rect x="748.35" y="180.84" width="16.68" height="16.68" fill="#060419"/><rect x="764.43" y="180.84" width="16.68" height="16.68" fill="#060419"/><rect x="780.51" y="180.84" width="16.68" height="16.68" fill="#060419"/><rect x="796.59" y="180.84" width="16.68" height="16.68" fill="#060419"/><rect x="812.67" y="180.84" width="16.68" height="16.68" fill="#07051b"/><rect x="828.75" y="180.84" width="16.68" height="16.68" fill="#08051d"/><rect x="844.83" y="180.84" width="16.68" height="16.68" fill="#09061f"/><rect x="860.91" y="180.84" width="16.68" height="16.68" fill="#0c0826"/><rect x="876.99" y="180.84" width="16.68" height="16.68" fill="#10092d"/><rect x="893.07" y="180.84" width="16.68" height="16.68" fill="#150b37"/><rect x="909.15" y="180.84" width="16.68" height="16.68" fill="#1c0c43"/><rect x="925.23" y="180.84" width="16.68" height="16.68" fill="#260c51"/><rect x="941.31" y="180.84" width="16.68" height="16.68" fill="#320a5e"/><rect x="957.39" y="180.84" width="16.68" height="16.68" fill="#3e0966"/><rect x="973.47" y="180.84" width="16.68" height="16.68" fill="#490b6a"/><rect x="989.55" y="180.84" width="16.68" height="16.68" fill="#510e6c"/><rect x="1005.63" y="180.84" width="16.68" height="16.68" fill="#550f6d"/><rect x="1021.71" y="180.84" width="16.68" height="16.68" fill="#59106e"/><rect x="1037.79" y="180.84" width="16.68" height="16.68" fill="#550f6d"/><rect x="1053.87" y="180.84" width="16.68" height="16.68" fill="#510e6c"/><rect x="1069.95" y="180.84" width="16.68" height="16.68" fill="#490b6a"/><rect x="1086.03" y="180.84" width="16.68" height="16.68" fill="#3e0966"/><rect x="1102.11" y="180.84" width="16.68" height="16.68" fill="#320a5e"/><rect x="1118.19" y="180.84" width="16.68" height="16.68" fill="#260c51"/><rect x="1134.27" y="180.84" width="16.68" height="16.68" fill="#1c0c43"/><rect x="1150.35" y="180.84" width="16.68" height="16.68" fill="#150b37"/><rect x="1166.43" y="180.84" width="16.68" height="16.68" fill="#10092d"/><rect x="1182.51" y="180.84" width="16.68" height="16.68" fill="#0c0826"/><rect x="1198.59" y="180.84" width="16.68" height="16.68" fill="#09061f"/><rect x="1214.67" y="180.84" width="16.68" height="16.68" fill="#08051d"/><rect x="1230.75" y="180.84" width="16.68" height="16.68" fill="#07051b"/><rect x="1246.83" y="180.84" width="16.68" height="16.68" fill="#060419"/><rect x="1262.91" y="180.84" width="16.68" height="16.68" fill="#060419"/><rect x="1278.99" y="180.84" width="16.68" height="16.68" fill="#060419"/><rect x="1295.07" y="180.84" width="16.68" height="16.68" fill="#060419"/><rect x="1311.15" y="180.84" width="16.68" height="16.68" fill="#060419"/><rect x="732.27" y="196.92" width="16.68" height="16.68" fill="#060419"/><rect x="748.35" y="196.92" width="16.68" height="16.68" fill="#060419"/><rect x="764.43" y="196.92" width="16.68" height="16.68" fill="#060419"/><rect x="780.51" y="196.92" width="16.68" height="16.68" fill="#060419"/><rect x="796.59" y="196.92" width="16.68" height="16.68" fill="#07051b"/><rect x="812.67" y="196.92" width="16.68" height="16.68" fill="#07051b"/><rect x="828.75" y="196.92" width="16.68" height="16.68" fill="#09061f"/><rect x="844.83" y="196.92" width="16.68" height="16.68" fill="#0b0724"/><rect x="860.91" y="196.92" width="16.68" height="16.68" fill="#0e092b"/><rect x="876.99" y="196.92" width="16.68" height="16.68" fill="#150b37"/><rect x="893.07" y="196.92" width="16.68" height="16.68" fill="#1e0c45"/><rect x="909.15" y="196.92" width="16.68" height="16.68" fill="#290b55"/><rect x="925.23" y="196.92" width="16.68" height="16.68" fill="#390963"/><rect x="941.31" y="196.92" width="16.68" height="16.68" fill="#490b6a"/><rect x="957.39" y="196.92" width="16.68" height="16.68" fill="#57106e"/><rect x="973.47" y="196.92" width="16.68" height="16.68" fill="#65156e"/><rect x="989.55" y="196.92" width="16.68" height="16.68" fill="#71196e"/><rect x="1005.63" y="196.92" width="16.68" height="16.68" fill="#781c6d"/><rect x="1021.71" y="196.92" width="16.68" height="16.68" fill="#7c1d6d"/><rect x="1037.79" y="196.92" width="16.68" height="16.68" fill="#781c6d"/><rect x="1053.87" y="196.92" width="16.68" height="16.68" fill="#71196e"/><rect x="1069.95" y="196.92" width="16.68" height="16.68" fill="#65156e"/><rect x="1086.03" y="196.92" width="16.68" height="16.68" fill="#57106e"/><rect x="1102.11" y="196.92" width="16.68" height="16.68" fill="#490b6a"/><rect x="1118.19" y="196.92" width="16.68" height="16.68" fill="#390963"/><rect x="1134.27" y="196.92" width="16.68" height="16.68" fill="#290b55"/><rect x="1150.35" y="196.92" width="16.68" height="16.68" fill="#1e0c45"/><rect x="1166.43" y="196.92" width="16.68" height="16.68" fill="#150b37"/><rect x="1182.51" y="196.92" width="16.68" height="16.68" fill="#0e092b"/><rect x="1198.59" y="196.92" width="16.68" height="16.68" fill="#0b0724"/><rect x="1214.67" y="196.92" width="16.68" height="16.68" fill="#09061f"/><rect x="1230.75" y="196.92" width="16.68" height="16.68" fill="#07051b"/><rect x="1246.83" y="196.92" width="16.68" height="16.68" fill="#07051b"/><rect x="1262.91" y="196.92" width="16.68" height="16.68" fill="#060419"/><rect x="1278.99" y="196.92" width="16.68" height="16.68" fill="#060419"/><rect x="1295.07" y="196.92" width="16.68" height="16.68" fill="#060419"/><rect x="1311.15" y="196.92" width="16.68" height="16.68" fill="#060419"/><rect x="732.27" y="213" width="16.68" height="16.68" fill="#060419"/><rect x="748.35" y="213" width="16.68" height="16.68" fill="#060419"/><rect x="764.43" y="213" width="16.68" height="16.68" fill="#060419"/><rect x="780.51" y="213" width="16.68" height="16.68" fill="#060419"/><rect x="796.59" y="213" width="16.68" height="16.68" fill="#07051b"/><rect x="812.67" y="213" width="16.68" height="16.68" fill="#08051d"/><rect x="828.75" y="213" width="16.68" height="16.68" fill="#0a0722"/><rect x="844.83" y="213" width="16.68" height="16.68" fill="#0d0829"/><rect x="860.91" y="213" width="16.68" height="16.68" fill="#120a32"/><rect x="876.99" y="213" width="16.68" height="16.68" fill="#1b0c41"/><rect x="893.07" y="213" width="16.68" height="16.68" fill="#280b53"/><rect x="909.15" y="213" width="16.68" height="16.68" fill="#390963"/><rect x="925.23" y="213" width="16.68" height="16.68" fill="#4d0d6c"/><rect x="941.31" y="213" width="16.68" height="16.68" fill="#61136e"/><rect x="957.39" y="213" width="16.68" height="16.68" fill="#751b6e"/><rect x="973.47" y="213" width="16.68" height="16.68" fill="#88226a"/><rect x="989.55" y="213" width="16.68" height="16.68" fill="#982766"/><rect x="1005.63" y="213" width="16.68" height="16.68" fill="#a22b62"/><rect x="1021.71" y="213" width="16.68" height="16.68" fill="#a52c60"/><rect x="1037.79" y="213" width="16.68" height="16.68" fill="#a22b62"/><rect x="1053.87" y="213" width="16.68" height="16.68" fill="#982766"/><rect x="1069.95" y="213" width="16.68" height="16.68" fill="#88226a"/><rect x="1086.03" y="213" width="16.68" height="16.68" fill="#751b6e"/><rect x="1102.11" y="213" width="16.68" height="16.68" fill="#61136e"/><rect x="1118.19" y="213" width="16.68" height="16.68" fill="#4d0d6c"/><rect x="1134.27" y="213" width="16.68" height="16.68" fill="#390963"/><rect x="1150.35" y="213" width="16.68" height="16.68" fill="#280b53"/><rect x="1166.43" y="213" width="16.68" height="16.68" fill="#1b0c41"/><rect x="1182.51" y="213" width="16.68" height="16.68" fill="#120a32"/><rect x="1198.59" y="213" width="16.68" height="16.68" fill="#0d0829"/><rect x="1214.67" y="213" width="16.68" height="16.68" fill="#0a0722"/><rect x="1230.75" y="213" width="16.68" height="16.68" fill="#08051d"/><rect x="1246.83" y="213" width="16.68" height="16.68" fill="#07051b"/><rect x="1262.91" y="213" width="16.68" height="16.68" fill="#060419"/><rect x="1278.99" y="213" width="16.68" height="16.68" fill="#060419"/><rect x="1295.07" y="213" width="16.68" height="16.68" fill="#060419"/><rect x="1311.15" y="213" width="16.68" height="16.68" fill="#060419"/><rect x="732.27" y="229.08" width="16.68" height="16.68" fill="#060419"/><rect x="748.35" y="229.08" width="16.68" height="16.68" fill="#060419"/><rect x="764.43" y="229.08" width="16.68" height="16.68" fill="#060419"/><rect x="780.51" y="229.08" width="16.68" height="16.68" fill="#07051b"/><rect x="796.59" y="229.08" width="16.68" height="16.68" fill="#07051b"/><rect x="812.67" y="229.08" width="16.68" height="16.68" fill="#09061f"/><rect x="828.75" y="229.08" width="16.68" height="16.68" fill="#0b0724"/><rect x="844.83" y="229.08" width="16.68" height="16.68" fill="#10092d"/><rect x="860.91" y="229.08" width="16.68" height="16.68" fill="#180c3c"/><rect x="876.99" y="229.08" width="16.68" height="16.68" fill="#240c4f"/><rect x="893.07" y="229.08" width="16.68" height="16.68" fill="#360961"/><rect x="909.15" y="229.08" width="16.68" height="16.68" fill="#4c0c6b"/><rect x="925.23" y="229.08" width="16.68" height="16.68" fill="#64156e"/><rect x="941.31" y="229.08" width="16.68" height="16.68" fill="#7d1e6d"/><rect x="957.39" y="229.08" width="16.68" height="16.68" fill="#972766"/><rect x="973.47" y="229.08" width="16.68" height="16.68" fill="#b0315b"/><rect x="989.55" y="229.08" width="16.68" height="16.68" fill="#c13a50"/><rect x="1005.63" y="229.08" width="16.68" height="16.68" fill="#cc4248"/><rect x="1021.71" y="229.08" width="16.68" height="16.68" fill="#d04545"/><rect x="1037.79" y="229.08" width="16.68" height="16.68" fill="#cc4248"/><rect x="1053.87" y="229.08" width="16.68" height="16.68" fill="#c13a50"/><rect x="1069.95" y="229.08" width="16.68" height="16.68" fill="#b0315b"/><rect x="1086.03" y="229.08" width="16.68" height="16.68" fill="#972766"/><rect x="1102.11" y="229.08" width="16.68" height="16.68" fill="#7d1e6d"/><rect x="1118.19" y="229.08" width="16.68" height="16.68" fill="#62146e"/><rect x="1134.27" y="229.08" width="16.68" height="16.68" fill="#4c0c6b"/><rect x="1150.35" y="229.08" width="16.68" height="16.68" fill="#360961"/><rect x="1166.43" y="229.08" width="16.68" height="16.68" fill="#240c4f"/><rect x="1182.51" y="229.08" width="16.68" height="16.68" fill="#180c3c"/><rect x="1198.59" y="229.08" width="16.68" height="16.68" fill="#10092d"/><rect x="1214.67" y="229.08" width="16.68" height="16.68" fill="#0b0724"/><rect x="1230.75" y="229.08" width="16.68" height="16.68" fill="#09061f"/><rect x="1246.83" y="229.08" width="16.68" height="16.68" fill="#07051b"/><rect x="1262.91" y="229.08" width="16.68" height="16.68" fill="#07051b"/><rect x="1278.99" y="229.08" width="16.68" height="16.68" fill="#060419"/><rect x="1295.07" y="229.08" width="16.68" height="16.68" fill="#060419"/><rect x="1311.15" y="229.08" width="16.68" height="16.68" fill="#060419"/><rect x="732.27" y="245.16" width="16.68" height="16.68" fill="#060419"/><rect x="748.35" y="245.16" width="16.68" height="16.68" fill="#060419"/><rect x="764.43" y="245.16" width="16.68" height="16.68" fill="#060419"/><rect x="780.51" y="245.16" width="16.68" height="16.68" fill="#07051b"/><rect x="796.59" y="245.16" width="16.68" height="16.68" fill="#08051d"/><rect x="812.67" y="245.16" width="16.68" height="16.68" fill="#0a0722"/><rect x="828.75" y="245.16" width="16.68" height="16.68" fill="#0d0829"/><rect x="844.83" y="245.16" width="16.68" height="16.68" fill="#140b34"/><rect x="860.91" y="245.16" width="16.68" height="16.68" fill="#1e0c45"/><rect x="876.99" y="245.16" width="16.68" height="16.68" fill="#2d0b59"/><rect x="893.07" y="245.16" width="16.68" height="16.68" fill="#440a68"/><rect x="909.15" y="245.16" width="16.68" height="16.68" fill="#5d126e"/><rect x="925.23" y="245.16" width="16.68" height="16.68" fill="#7a1d6d"/><rect x="941.31" y="245.16" width="16.68" height="16.68" fill="#9a2865"/><rect x="957.39" y="245.16" width="16.68" height="16.68" fill="#ba3655"/><rect x="973.47" y="245.16" width="16.68" height="16.68" fill="#d44842"/><rect x="989.55" y="245.16" width="16.68" height="16.68" fill="#e55c30"/><rect x="1005.63" y="245.16" width="16.68" height="16.68" fill="#ee6a24"/><rect x="1021.71" y="245.16" width="16.68" height="16.68" fill="#f06f20"/><rect x="1037.79" y="245.16" width="16.68" height="16.68" fill="#ee6a24"/><rect x="1053.87" y="245.16" width="16.68" height="16.68" fill="#e55c30"/><rect x="1069.95" y="245.16" width="16.68" height="16.68" fill="#d34743"/><rect x="1086.03" y="245.16" width="16.68" height="16.68" fill="#ba3655"/><rect x="1102.11" y="245.16" width="16.68" height="16.68" fill="#9a2865"/><rect x="1118.19" y="245.16" width="16.68" height="16.68" fill="#7a1d6d"/><rect x="1134.27" y="245.16" width="16.68" height="16.68" fill="#5d126e"/><rect x="1150.35" y="245.16" width="16.68" height="16.68" fill="#440a68"/><rect x="1166.43" y="245.16" width="16.68" height="16.68" fill="#2d0b59"/><rect x="1182.51" y="245.16" width="16.68" height="16.68" fill="#1e0c45"/><rect x="1198.59" y="245.16" width="16.68" height="16.68" fill="#140b34"/><rect x="1214.67" y="245.16" width="16.68" height="16.68" fill="#0d0829"/><rect x="1230.75" y="245.16" width="16.68" height="16.68" fill="#0a0722"/><rect x="1246.83" y="245.16" width="16.68" height="16.68" fill="#08051d"/><rect x="1262.91" y="245.16" width="16.68" height="16.68" fill="#07051b"/><rect x="1278.99" y="245.16" width="16.68" height="16.68" fill="#060419"/><rect x="1295.07" y="245.16" width="16.68" height="16.68" fill="#060419"/><rect x="1311.15" y="245.16" width="16.68" height="16.68" fill="#060419"/><rect x="732.27" y="261.24" width="16.68" height="16.68" fill="#060419"/><rect x="748.35" y="261.24" width="16.68" height="16.68" fill="#060419"/><rect x="764.43" y="261.24" width="16.68" height="16.68" fill="#060419"/><rect x="780.51" y="261.24" width="16.68" height="16.68" fill="#07051b"/><rect x="796.59" y="261.24" width="16.68" height="16.68" fill="#08051d"/><rect x="812.67" y="261.24" width="16.68" height="16.68" fill="#0b0724"/><rect x="828.75" y="261.24" width="16.68" height="16.68" fill="#0e092b"/><rect x="844.83" y="261.24" width="16.68" height="16.68" fill="#160b39"/><rect x="860.91" y="261.24" width="16.68" height="16.68" fill="#230c4c"/><rect x="876.99" y="261.24" width="16.68" height="16.68" fill="#380962"/><rect x="893.07" y="261.24" width="16.68" height="16.68" fill="#510e6c"/><rect x="909.15" y="261.24" width="16.68" height="16.68" fill="#6d186e"/><rect x="925.23" y="261.24" width="16.68" height="16.68" fill="#902568"/><rect x="941.31" y="261.24" width="16.68" height="16.68" fill="#b63458"/><rect x="957.39" y="261.24" width="16.68" height="16.68" fill="#d74b3f"/><rect x="973.47" y="261.24" width="16.68" height="16.68" fill="#ee6a24"/><rect x="989.55" y="261.24" width="16.68" height="16.68" fill="#f8890c"/><rect x="1005.63" y="261.24" width="16.68" height="16.68" fill="#fc9f07"/><rect x="1021.71" y="261.24" width="16.68" height="16.68" fill="#fca60c"/><rect x="1037.79" y="261.24" width="16.68" height="16.68" fill="#fc9f07"/><rect x="1053.87" y="261.24" width="16.68" height="16.68" fill="#f8890c"/><rect x="1069.95" y="261.24" width="16.68" height="16.68" fill="#ed6925"/><rect x="1086.03" y="261.24" width="16.68" height="16.68" fill="#d74b3f"/><rect x="1102.11" y="261.24" width="16.68" height="16.68" fill="#b63458"/><rect x="1118.19" y="261.24" width="16.68" height="16.68" fill="#902568"/><rect x="1134.27" y="261.24" width="16.68" height="16.68" fill="#6d186e"/><rect x="1150.35" y="261.24" width="16.68" height="16.68" fill="#4f0d6c"/><rect x="1166.43" y="261.24" width="16.68" height="16.68" fill="#360961"/><rect x="1182.51" y="261.24" width="16.68" height="16.68" fill="#230c4c"/><rect x="1198.59" y="261.24" width="16.68" height="16.68" fill="#160b39"/><rect x="1214.67" y="261.24" width="16.68" height="16.68" fill="#0e092b"/><rect x="1230.75" y="261.24" width="16.68" height="16.68" fill="#0b0724"/><rect x="1246.83" y="261.24" width="16.68" height="16.68" fill="#08051d"/><rect x="1262.91" y="261.24" width="16.68" height="16.68" fill="#07051b"/><rect x="1278.99" y="261.24" width="16.68" height="16.68" fill="#060419"/><rect x="1295.07" y="261.24" width="16.68" height="16.68" fill="#060419"/><rect x="1311.15" y="261.24" width="16.68" height="16.68" fill="#060419"/><rect x="732.27" y="277.32" width="16.68" height="16.68" fill="#060419"/><rect x="748.35" y="277.32" width="16.68" height="16.68" fill="#060419"/><rect x="764.43" y="277.32" width="16.68" height="16.68" fill="#060419"/><rect x="780.51" y="277.32" width="16.68" height="16.68" fill="#07051b"/><rect x="796.59" y="277.32" width="16.68" height="16.68" fill="#09061f"/><rect x="812.67" y="277.32" width="16.68" height="16.68" fill="#0b0724"/><rect x="828.75" y="277.32" width="16.68" height="16.68" fill="#10092d"/><rect x="844.83" y="277.32" width="16.68" height="16.68" fill="#190c3e"/><rect x="860.91" y="277.32" width="16.68" height="16.68" fill="#280b53"/><rect x="876.99" y="277.32" width="16.68" height="16.68" fill="#3e0966"/><rect x="893.07" y="277.32" width="16.68" height="16.68" fill="#5a116e"/><rect x="909.15" y="277.32" width="16.68" height="16.68" fill="#7c1d6d"/><rect x="925.23" y="277.32" width="16.68" height="16.68" fill="#a32c61"/><rect x="941.31" y="277.32" width="16.68" height="16.68" fill="#cb4149"/><rect x="957.39" y="277.32" width="16.68" height="16.68" fill="#eb6429"/><rect x="973.47" y="277.32" width="16.68" height="16.68" fill="#f98e09"/><rect x="989.55" y="277.32" width="16.68" height="16.68" fill="#fbb61a"/><rect x="1005.63" y="277.32" width="16.68" height="16.68" fill="#f8cf3a"/><rect x="1021.71" y="277.32" width="16.68" height="16.68" fill="#f5d949"/><rect x="1037.79" y="277.32" width="16.68" height="16.68" fill="#f8cf3a"/><rect x="1053.87" y="277.32" width="16.68" height="16.68" fill="#fbb61a"/><rect x="1069.95" y="277.32" width="16.68" height="16.68" fill="#f98e09"/><rect x="1086.03" y="277.32" width="16.68" height="16.68" fill="#eb6429"/><rect x="1102.11" y="277.32" width="16.68" height="16.68" fill="#cb4149"/><rect x="1118.19" y="277.32" width="16.68" height="16.68" fill="#a32c61"/><rect x="1134.27" y="277.32" width="16.68" height="16.68" fill="#7c1d6d"/><rect x="1150.35" y="277.32" width="16.68" height="16.68" fill="#5a116e"/><rect x="1166.43" y="277.32" width="16.68" height="16.68" fill="#3e0966"/><rect x="1182.51" y="277.32" width="16.68" height="16.68" fill="#280b53"/><rect x="1198.59" y="277.32" width="16.68" height="16.68" fill="#190c3e"/><rect x="1214.67" y="277.32" width="16.68" height="16.68" fill="#10092d"/><rect x="1230.75" y="277.32" width="16.68" height="16.68" fill="#0b0724"/><rect x="1246.83" y="277.32" width="16.68" height="16.68" fill="#09061f"/><rect x="1262.91" y="277.32" width="16.68" height="16.68" fill="#07051b"/><rect x="1278.99" y="277.32" width="16.68" height="16.68" fill="#060419"/><rect x="1295.07" y="277.32" width="16.68" height="16.68" fill="#060419"/><rect x="1311.15" y="277.32" width="16.68" height="16.68" fill="#060419"/><rect x="732.27" y="293.4" width="16.68" height="16.68" fill="#060419"/><rect x="748.35" y="293.4" width="16.68" height="16.68" fill="#060419"/><rect x="764.43" y="293.4" width="16.68" height="16.68" fill="#060419"/><rect x="780.51" y="293.4" width="16.68" height="16.68" fill="#07051b"/><rect x="796.59" y="293.4" width="16.68" height="16.68" fill="#09061f"/><rect x="812.67" y="293.4" width="16.68" height="16.68" fill="#0c0826"/><rect x="828.75" y="293.4" width="16.68" height="16.68" fill="#110a30"/><rect x="844.83" y="293.4" width="16.68" height="16.68" fill="#1b0c41"/><rect x="860.91" y="293.4" width="16.68" height="16.68" fill="#2b0b57"/><rect x="876.99" y="293.4" width="16.68" height="16.68" fill="#440a68"/><rect x="893.07" y="293.4" width="16.68" height="16.68" fill="#62146e"/><rect x="909.15" y="293.4" width="16.68" height="16.68" fill="#87216b"/><rect x="925.23" y="293.4" width="16.68" height="16.68" fill="#b1325a"/><rect x="941.31" y="293.4" width="16.68" height="16.68" fill="#da4e3c"/><rect x="957.39" y="293.4" width="16.68" height="16.68" fill="#f47918"/><rect x="973.47" y="293.4" width="16.68" height="16.68" fill="#fcac11"/><rect x="989.55" y="293.4" width="16.68" height="16.68" fill="#f5d949"/><rect x="1005.63" y="293.4" width="16.68" height="16.68" fill="#f2f27d"/><rect x="1021.71" y="293.4" width="16.68" height="16.68" fill="#f5f992"/><rect x="1037.79" y="293.4" width="16.68" height="16.68" fill="#f2f27d"/><rect x="1053.87" y="293.4" width="16.68" height="16.68" fill="#f6d746"/><rect x="1069.95" y="293.4" width="16.68" height="16.68" fill="#fcac11"/><rect x="1086.03" y="293.4" width="16.68" height="16.68" fill="#f47918"/><rect x="1102.11" y="293.4" width="16.68" height="16.68" fill="#d94d3d"/><rect x="1118.19" y="293.4" width="16.68" height="16.68" fill="#b1325a"/><rect x="1134.27" y="293.4" width="16.68" height="16.68" fill="#87216b"/><rect x="1150.35" y="293.4" width="16.68" height="16.68" fill="#62146e"/><rect x="1166.43" y="293.4" width="16.68" height="16.68" fill="#440a68"/><rect x="1182.51" y="293.4" width="16.68" height="16.68" fill="#2b0b57"/><rect x="1198.59" y="293.4" width="16.68" height="16.68" fill="#1b0c41"/><rect x="1214.67" y="293.4" width="16.68" height="16.68" fill="#110a30"/><rect x="1230.75" y="293.4" width="16.68" height="16.68" fill="#0c0826"/><rect x="1246.83" y="293.4" width="16.68" height="16.68" fill="#09061f"/><rect x="1262.91" y="293.4" width="16.68" height="16.68" fill="#07051b"/><rect x="1278.99" y="293.4" width="16.68" height="16.68" fill="#060419"/><rect x="1295.07" y="293.4" width="16.68" height="16.68" fill="#060419"/><rect x="1311.15" y="293.4" width="16.68" height="16.68" fill="#060419"/><rect x="732.27" y="309.48" width="16.68" height="16.68" fill="#060419"/><rect x="748.35" y="309.48" width="16.68" height="16.68" fill="#060419"/><rect x="764.43" y="309.48" width="16.68" height="16.68" fill="#060419"/><rect x="780.51" y="309.48" width="16.68" height="16.68" fill="#07051b"/><rect x="796.59" y="309.48" width="16.68" height="16.68" fill="#09061f"/><rect x="812.67" y="309.48" width="16.68" height="16.68" fill="#0c0826"/><rect x="828.75" y="309.48" width="16.68" height="16.68" fill="#120a32"/><rect x="844.83" y="309.48" width="16.68" height="16.68" fill="#1c0c43"/><rect x="860.91" y="309.48" width="16.68" height="16.68" fill="#2f0a5b"/><rect x="876.99" y="309.48" width="16.68" height="16.68" fill="#470b6a"/><rect x="893.07" y="309.48" width="16.68" height="16.68" fill="#67166e"/><rect x="909.15" y="309.48" width="16.68" height="16.68" fill="#8d2369"/><rect x="925.23" y="309.48" width="16.68" height="16.68" fill="#b93556"/><rect x="941.31" y="309.48" width="16.68" height="16.68" fill="#e05536"/><rect x="957.39" y="309.48" width="16.68" height="16.68" fill="#f8870e"/><rect x="973.47" y="309.48" width="16.68" height="16.68" fill="#fbbc21"/><rect x="989.55" y="309.48" width="16.68" height="16.68" fill="#f2ea69"/><rect x="1005.63" y="309.48" width="16.68" height="16.68" fill="#fcffa4"/><rect x="1021.71" y="309.48" width="16.68" height="16.68" fill="#fcffa4"/><rect x="1037.79" y="309.48" width="16.68" height="16.68" fill="#fcffa4"/><rect x="1053.87" y="309.48" width="16.68" height="16.68" fill="#f2ea69"/><rect x="1069.95" y="309.48" width="16.68" height="16.68" fill="#fbbc21"/><rect x="1086.03" y="309.48" width="16.68" height="16.68" fill="#f8850f"/><rect x="1102.11" y="309.48" width="16.68" height="16.68" fill="#e05536"/><rect x="1118.19" y="309.48" width="16.68" height="16.68" fill="#b73557"/><rect x="1134.27" y="309.48" width="16.68" height="16.68" fill="#8c2369"/><rect x="1150.35" y="309.48" width="16.68" height="16.68" fill="#65156e"/><rect x="1166.43" y="309.48" width="16.68" height="16.68" fill="#470b6a"/><rect x="1182.51" y="309.48" width="16.68" height="16.68" fill="#2d0b59"/><rect x="1198.59" y="309.48" width="16.68" height="16.68" fill="#1c0c43"/><rect x="1214.67" y="309.48" width="16.68" height="16.68" fill="#120a32"/><rect x="1230.75" y="309.48" width="16.68" height="16.68" fill="#0c0826"/><rect x="1246.83" y="309.48" width="16.68" height="16.68" fill="#09061f"/><rect x="1262.91" y="309.48" width="16.68" height="16.68" fill="#07051b"/><rect x="1278.99" y="309.48" width="16.68" height="16.68" fill="#060419"/><rect x="1295.07" y="309.48" width="16.68" height="16.68" fill="#060419"/><rect x="1311.15" y="309.48" width="16.68" height="16.68" fill="#060419"/><rect x="732.27" y="325.56" width="16.68" height="16.68" fill="#060419"/><rect x="748.35" y="325.56" width="16.68" height="16.68" fill="#060419"/><rect x="764.43" y="325.56" width="16.68" height="16.68" fill="#060419"/><rect x="780.51" y="325.56" width="16.68" height="16.68" fill="#07051b"/><rect x="796.59" y="325.56" width="16.68" height="16.68" fill="#09061f"/><rect x="812.67" y="325.56" width="16.68" height="16.68" fill="#0c0826"/><rect x="828.75" y="325.56" width="16.68" height="16.68" fill="#120a32"/><rect x="844.83" y="325.56" width="16.68" height="16.68" fill="#1c0c43"/><rect x="860.91" y="325.56" width="16.68" height="16.68" fill="#2d0b59"/><rect x="876.99" y="325.56" width="16.68" height="16.68" fill="#470b6a"/><rect x="893.07" y="325.56" width="16.68" height="16.68" fill="#65156e"/><rect x="909.15" y="325.56" width="16.68" height="16.68" fill="#8c2369"/><rect x="925.23" y="325.56" width="16.68" height="16.68" fill="#b73557"/><rect x="941.31" y="325.56" width="16.68" height="16.68" fill="#e05536"/><rect x="957.39" y="325.56" width="16.68" height="16.68" fill="#f8850f"/><rect x="973.47" y="325.56" width="16.68" height="16.68" fill="#fbbc21"/><rect x="989.55" y="325.56" width="16.68" height="16.68" fill="#f2e865"/><rect x="1005.63" y="325.56" width="16.68" height="16.68" fill="#fafda1"/><rect x="1021.71" y="325.56" width="16.68" height="16.68" fill="#fcffa4"/><rect x="1037.79" y="325.56" width="16.68" height="16.68" fill="#fafda1"/><rect x="1053.87" y="325.56" width="16.68" height="16.68" fill="#f2e865"/><rect x="1069.95" y="325.56" width="16.68" height="16.68" fill="#fbbc21"/><rect x="1086.03" y="325.56" width="16.68" height="16.68" fill="#f8850f"/><rect x="1102.11" y="325.56" width="16.68" height="16.68" fill="#e05536"/><rect x="1118.19" y="325.56" width="16.68" height="16.68" fill="#b73557"/><rect x="1134.27" y="325.56" width="16.68" height="16.68" fill="#8c2369"/><rect x="1150.35" y="325.56" width="16.68" height="16.68" fill="#65156e"/><rect x="1166.43" y="325.56" width="16.68" height="16.68" fill="#470b6a"/><rect x="1182.51" y="325.56" width="16.68" height="16.68" fill="#2d0b59"/><rect x="1198.59" y="325.56" width="16.68" height="16.68" fill="#1c0c43"/><rect x="1214.67" y="325.56" width="16.68" height="16.68" fill="#120a32"/><rect x="1230.75" y="325.56" width="16.68" height="16.68" fill="#0c0826"/><rect x="1246.83" y="325.56" width="16.68" height="16.68" fill="#09061f"/><rect x="1262.91" y="325.56" width="16.68" height="16.68" fill="#07051b"/><rect x="1278.99" y="325.56" width="16.68" height="16.68" fill="#060419"/><rect x="1295.07" y="325.56" width="16.68" height="16.68" fill="#060419"/><rect x="1311.15" y="325.56" width="16.68" height="16.68" fill="#060419"/><rect x="732.27" y="341.64" width="16.68" height="16.68" fill="#060419"/><rect x="748.35" y="341.64" width="16.68" height="16.68" fill="#060419"/><rect x="764.43" y="341.64" width="16.68" height="16.68" fill="#060419"/><rect x="780.51" y="341.64" width="16.68" height="16.68" fill="#07051b"/><rect x="796.59" y="341.64" width="16.68" height="16.68" fill="#09061f"/><rect x="812.67" y="341.64" width="16.68" height="16.68" fill="#0c0826"/><rect x="828.75" y="341.64" width="16.68" height="16.68" fill="#110a30"/><rect x="844.83" y="341.64" width="16.68" height="16.68" fill="#1b0c41"/><rect x="860.91" y="341.64" width="16.68" height="16.68" fill="#2b0b57"/><rect x="876.99" y="341.64" width="16.68" height="16.68" fill="#440a68"/><rect x="893.07" y="341.64" width="16.68" height="16.68" fill="#62146e"/><rect x="909.15" y="341.64" width="16.68" height="16.68" fill="#85216b"/><rect x="925.23" y="341.64" width="16.68" height="16.68" fill="#b0315b"/><rect x="941.31" y="341.64" width="16.68" height="16.68" fill="#d94d3d"/><rect x="957.39" y="341.64" width="16.68" height="16.68" fill="#f37819"/><rect x="973.47" y="341.64" width="16.68" height="16.68" fill="#fcaa0f"/><rect x="989.55" y="341.64" width="16.68" height="16.68" fill="#f6d543"/><rect x="1005.63" y="341.64" width="16.68" height="16.68" fill="#f1ef75"/><rect x="1021.71" y="341.64" width="16.68" height="16.68" fill="#f3f68a"/><rect x="1037.79" y="341.64" width="16.68" height="16.68" fill="#f1ef75"/><rect x="1053.87" y="341.64" width="16.68" height="16.68" fill="#f6d543"/><rect x="1069.95" y="341.64" width="16.68" height="16.68" fill="#fca80d"/><rect x="1086.03" y="341.64" width="16.68" height="16.68" fill="#f37819"/><rect x="1102.11" y="341.64" width="16.68" height="16.68" fill="#d84c3e"/><rect x="1118.19" y="341.64" width="16.68" height="16.68" fill="#b0315b"/><rect x="1134.27" y="341.64" width="16.68" height="16.68" fill="#85216b"/><rect x="1150.35" y="341.64" width="16.68" height="16.68" fill="#61136e"/><rect x="1166.43" y="341.64" width="16.68" height="16.68" fill="#440a68"/><rect x="1182.51" y="341.64" width="16.68" height="16.68" fill="#2b0b57"/><rect x="1198.59" y="341.64" width="16.68" height="16.68" fill="#1b0c41"/><rect x="1214.67" y="341.64" width="16.68" height="16.68" fill="#110a30"/><rect x="1230.75" y="341.64" width="16.68" height="16.68" fill="#0c0826"/><rect x="1246.83" y="341.64" width="16.68" height="16.68" fill="#09061f"/><rect x="1262.91" y="341.64" width="16.68" height="16.68" fill="#07051b"/><rect x="1278.99" y="341.64" width="16.68" height="16.68" fill="#060419"/><rect x="1295.07" y="341.64" width="16.68" height="16.68" fill="#060419"/><rect x="1311.15" y="341.64" width="16.68" height="16.68" fill="#060419"/><rect x="732.27" y="357.72" width="16.68" height="16.68" fill="#060419"/><rect x="748.35" y="357.72" width="16.68" height="16.68" fill="#060419"/><rect x="764.43" y="357.72" width="16.68" height="16.68" fill="#060419"/><rect x="780.51" y="357.72" width="16.68" height="16.68" fill="#07051b"/><rect x="796.59" y="357.72" width="16.68" height="16.68" fill="#09061f"/><rect x="812.67" y="357.72" width="16.68" height="16.68" fill="#0b0724"/><rect x="828.75" y="357.72" width="16.68" height="16.68" fill="#10092d"/><rect x="844.83" y="357.72" width="16.68" height="16.68" fill="#190c3e"/><rect x="860.91" y="357.72" width="16.68" height="16.68" fill="#280b53"/><rect x="876.99" y="357.72" width="16.68" height="16.68" fill="#3e0966"/><rect x="893.07" y="357.72" width="16.68" height="16.68" fill="#59106e"/><rect x="909.15" y="357.72" width="16.68" height="16.68" fill="#7a1d6d"/><rect x="925.23" y="357.72" width="16.68" height="16.68" fill="#a22b62"/><rect x="941.31" y="357.72" width="16.68" height="16.68" fill="#ca404a"/><rect x="957.39" y="357.72" width="16.68" height="16.68" fill="#e9612b"/><rect x="973.47" y="357.72" width="16.68" height="16.68" fill="#f98b0b"/><rect x="989.55" y="357.72" width="16.68" height="16.68" fill="#fcb014"/><rect x="1005.63" y="357.72" width="16.68" height="16.68" fill="#f9cb35"/><rect x="1021.71" y="357.72" width="16.68" height="16.68" fill="#f7d340"/><rect x="1037.79" y="357.72" width="16.68" height="16.68" fill="#f9cb35"/><rect x="1053.87" y="357.72" width="16.68" height="16.68" fill="#fcb014"/><rect x="1069.95" y="357.72" width="16.68" height="16.68" fill="#f98b0b"/><rect x="1086.03" y="357.72" width="16.68" height="16.68" fill="#e9612b"/><rect x="1102.11" y="357.72" width="16.68" height="16.68" fill="#ca404a"/><rect x="1118.19" y="357.72" width="16.68" height="16.68" fill="#a22b62"/><rect x="1134.27" y="357.72" width="16.68" height="16.68" fill="#7a1d6d"/><rect x="1150.35" y="357.72" width="16.68" height="16.68" fill="#59106e"/><rect x="1166.43" y="357.72" width="16.68" height="16.68" fill="#3e0966"/><rect x="1182.51" y="357.72" width="16.68" height="16.68" fill="#280b53"/><rect x="1198.59" y="357.72" width="16.68" height="16.68" fill="#190c3e"/><rect x="1214.67" y="357.72" width="16.68" height="16.68" fill="#10092d"/><rect x="1230.75" y="357.72" width="16.68" height="16.68" fill="#0b0724"/><rect x="1246.83" y="357.72" width="16.68" height="16.68" fill="#09061f"/><rect x="1262.91" y="357.72" width="16.68" height="16.68" fill="#07051b"/><rect x="1278.99" y="357.72" width="16.68" height="16.68" fill="#060419"/><rect x="1295.07" y="357.72" width="16.68" height="16.68" fill="#060419"/><rect x="1311.15" y="357.72" width="16.68" height="16.68" fill="#060419"/><rect x="732.27" y="373.8" width="16.68" height="16.68" fill="#060419"/><rect x="748.35" y="373.8" width="16.68" height="16.68" fill="#060419"/><rect x="764.43" y="373.8" width="16.68" height="16.68" fill="#060419"/><rect x="780.51" y="373.8" width="16.68" height="16.68" fill="#07051b"/><rect x="796.59" y="373.8" width="16.68" height="16.68" fill="#08051d"/><rect x="812.67" y="373.8" width="16.68" height="16.68" fill="#0b0724"/><rect x="828.75" y="373.8" width="16.68" height="16.68" fill="#0e092b"/><rect x="844.83" y="373.8" width="16.68" height="16.68" fill="#160b39"/><rect x="860.91" y="373.8" width="16.68" height="16.68" fill="#230c4c"/><rect x="876.99" y="373.8" width="16.68" height="16.68" fill="#360961"/><rect x="893.07" y="373.8" width="16.68" height="16.68" fill="#4f0d6c"/><rect x="909.15" y="373.8" width="16.68" height="16.68" fill="#6c186e"/><rect x="925.23" y="373.8" width="16.68" height="16.68" fill="#8f2469"/><rect x="941.31" y="373.8" width="16.68" height="16.68" fill="#b3325a"/><rect x="957.39" y="373.8" width="16.68" height="16.68" fill="#d44842"/><rect x="973.47" y="373.8" width="16.68" height="16.68" fill="#eb6628"/><rect x="989.55" y="373.8" width="16.68" height="16.68" fill="#f78410"/><rect x="1005.63" y="373.8" width="16.68" height="16.68" fill="#fb9706"/><rect x="1021.71" y="373.8" width="16.68" height="16.68" fill="#fc9f07"/><rect x="1037.79" y="373.8" width="16.68" height="16.68" fill="#fb9706"/><rect x="1053.87" y="373.8" width="16.68" height="16.68" fill="#f78410"/><rect x="1069.95" y="373.8" width="16.68" height="16.68" fill="#eb6628"/><rect x="1086.03" y="373.8" width="16.68" height="16.68" fill="#d44842"/><rect x="1102.11" y="373.8" width="16.68" height="16.68" fill="#b3325a"/><rect x="1118.19" y="373.8" width="16.68" height="16.68" fill="#8d2369"/><rect x="1134.27" y="373.8" width="16.68" height="16.68" fill="#6c186e"/><rect x="1150.35" y="373.8" width="16.68" height="16.68" fill="#4f0d6c"/><rect x="1166.43" y="373.8" width="16.68" height="16.68" fill="#360961"/><rect x="1182.51" y="373.8" width="16.68" height="16.68" fill="#230c4c"/><rect x="1198.59" y="373.8" width="16.68" height="16.68" fill="#160b39"/><rect x="1214.67" y="373.8" width="16.68" height="16.68" fill="#0e092b"/><rect x="1230.75" y="373.8" width="16.68" height="16.68" fill="#0b0724"/><rect x="1246.83" y="373.8" width="16.68" height="16.68" fill="#08051d"/><rect x="1262.91" y="373.8" width="16.68" height="16.68" fill="#07051b"/><rect x="1278.99" y="373.8" width="16.68" height="16.68" fill="#060419"/><rect x="1295.07" y="373.8" width="16.68" height="16.68" fill="#060419"/><rect x="1311.15" y="373.8" width="16.68" height="16.68" fill="#060419"/><rect x="732.27" y="389.88" width="16.68" height="16.68" fill="#060419"/><rect x="748.35" y="389.88" width="16.68" height="16.68" fill="#060419"/><rect x="764.43" y="389.88" width="16.68" height="16.68" fill="#060419"/><rect x="780.51" y="389.88" width="16.68" height="16.68" fill="#07051b"/><rect x="796.59" y="389.88" width="16.68" height="16.68" fill="#08051d"/><rect x="812.67" y="389.88" width="16.68" height="16.68" fill="#0a0722"/><rect x="828.75" y="389.88" width="16.68" height="16.68" fill="#0d0829"/><rect x="844.83" y="389.88" width="16.68" height="16.68" fill="#120a32"/><rect x="860.91" y="389.88" width="16.68" height="16.68" fill="#1c0c43"/><rect x="876.99" y="389.88" width="16.68" height="16.68" fill="#2d0b59"/><rect x="893.07" y="389.88" width="16.68" height="16.68" fill="#420a68"/><rect x="909.15" y="389.88" width="16.68" height="16.68" fill="#5a116e"/><rect x="925.23" y="389.88" width="16.68" height="16.68" fill="#771c6d"/><rect x="941.31" y="389.88" width="16.68" height="16.68" fill="#972766"/><rect x="957.39" y="389.88" width="16.68" height="16.68" fill="#b63458"/><rect x="973.47" y="389.88" width="16.68" height="16.68" fill="#d04545"/><rect x="989.55" y="389.88" width="16.68" height="16.68" fill="#e25734"/><rect x="1005.63" y="389.88" width="16.68" height="16.68" fill="#eb6429"/><rect x="1021.71" y="389.88" width="16.68" height="16.68" fill="#ee6a24"/><rect x="1037.79" y="389.88" width="16.68" height="16.68" fill="#eb6429"/><rect x="1053.87" y="389.88" width="16.68" height="16.68" fill="#e25734"/><rect x="1069.95" y="389.88" width="16.68" height="16.68" fill="#d04545"/><rect x="1086.03" y="389.88" width="16.68" height="16.68" fill="#b63458"/><rect x="1102.11" y="389.88" width="16.68" height="16.68" fill="#972766"/><rect x="1118.19" y="389.88" width="16.68" height="16.68" fill="#771c6d"/><rect x="1134.27" y="389.88" width="16.68" height="16.68" fill="#5a116e"/><rect x="1150.35" y="389.88" width="16.68" height="16.68" fill="#420a68"/><rect x="1166.43" y="389.88" width="16.68" height="16.68" fill="#2d0b59"/><rect x="1182.51" y="389.88" width="16.68" height="16.68" fill="#1c0c43"/><rect x="1198.59" y="389.88" width="16.68" height="16.68" fill="#120a32"/><rect x="1214.67" y="389.88" width="16.68" height="16.68" fill="#0d0829"/><rect x="1230.75" y="389.88" width="16.68" height="16.68" fill="#0a0722"/><rect x="1246.83" y="389.88" width="16.68" height="16.68" fill="#08051d"/><rect x="1262.91" y="389.88" width="16.68" height="16.68" fill="#07051b"/><rect x="1278.99" y="389.88" width="16.68" height="16.68" fill="#060419"/><rect x="1295.07" y="389.88" width="16.68" height="16.68" fill="#060419"/><rect x="1311.15" y="389.88" width="16.68" height="16.68" fill="#060419"/><rect x="732.27" y="405.96" width="16.68" height="16.68" fill="#060419"/><rect x="748.35" y="405.96" width="16.68" height="16.68" fill="#060419"/><rect x="764.43" y="405.96" width="16.68" height="16.68" fill="#060419"/><rect x="780.51" y="405.96" width="16.68" height="16.68" fill="#07051b"/><rect x="796.59" y="405.96" width="16.68" height="16.68" fill="#07051b"/><rect x="812.67" y="405.96" width="16.68" height="16.68" fill="#09061f"/><rect x="828.75" y="405.96" width="16.68" height="16.68" fill="#0b0724"/><rect x="844.83" y="405.96" width="16.68" height="16.68" fill="#10092d"/><rect x="860.91" y="405.96" width="16.68" height="16.68" fill="#160b39"/><rect x="876.99" y="405.96" width="16.68" height="16.68" fill="#230c4c"/><rect x="893.07" y="405.96" width="16.68" height="16.68" fill="#340a5f"/><rect x="909.15" y="405.96" width="16.68" height="16.68" fill="#490b6a"/><rect x="925.23" y="405.96" width="16.68" height="16.68" fill="#61136e"/><rect x="941.31" y="405.96" width="16.68" height="16.68" fill="#7a1d6d"/><rect x="957.39" y="405.96" width="16.68" height="16.68" fill="#932667"/><rect x="973.47" y="405.96" width="16.68" height="16.68" fill="#ab2f5e"/><rect x="989.55" y="405.96" width="16.68" height="16.68" fill="#bd3853"/><rect x="1005.63" y="405.96" width="16.68" height="16.68" fill="#c83f4b"/><rect x="1021.71" y="405.96" width="16.68" height="16.68" fill="#cb4149"/><rect x="1037.79" y="405.96" width="16.68" height="16.68" fill="#c83f4b"/><rect x="1053.87" y="405.96" width="16.68" height="16.68" fill="#bd3853"/><rect x="1069.95" y="405.96" width="16.68" height="16.68" fill="#ab2f5e"/><rect x="1086.03" y="405.96" width="16.68" height="16.68" fill="#932667"/><rect x="1102.11" y="405.96" width="16.68" height="16.68" fill="#7a1d6d"/><rect x="1118.19" y="405.96" width="16.68" height="16.68" fill="#61136e"/><rect x="1134.27" y="405.96" width="16.68" height="16.68" fill="#490b6a"/><rect x="1150.35" y="405.96" width="16.68" height="16.68" fill="#340a5f"/><rect x="1166.43" y="405.96" width="16.68" height="16.68" fill="#230c4c"/><rect x="1182.51" y="405.96" width="16.68" height="16.68" fill="#160b39"/><rect x="1198.59" y="405.96" width="16.68" height="16.68" fill="#10092d"/><rect x="1214.67" y="405.96" width="16.68" height="16.68" fill="#0b0724"/><rect x="1230.75" y="405.96" width="16.68" height="16.68" fill="#09061f"/><rect x="1246.83" y="405.96" width="16.68" height="16.68" fill="#07051b"/><rect x="1262.91" y="405.96" width="16.68" height="16.68" fill="#060419"/><rect x="1278.99" y="405.96" width="16.68" height="16.68" fill="#060419"/><rect x="1295.07" y="405.96" width="16.68" height="16.68" fill="#060419"/><rect x="1311.15" y="405.96" width="16.68" height="16.68" fill="#060419"/><rect x="732.27" y="422.04" width="16.68" height="16.68" fill="#060419"/><rect x="748.35" y="422.04" width="16.68" height="16.68" fill="#060419"/><rect x="764.43" y="422.04" width="16.68" height="16.68" fill="#060419"/><rect x="780.51" y="422.04" width="16.68" height="16.68" fill="#060419"/><rect x="796.59" y="422.04" width="16.68" height="16.68" fill="#07051b"/><rect x="812.67" y="422.04" width="16.68" height="16.68" fill="#08051d"/><rect x="828.75" y="422.04" width="16.68" height="16.68" fill="#0a0722"/><rect x="844.83" y="422.04" width="16.68" height="16.68" fill="#0d0829"/><rect x="860.91" y="422.04" width="16.68" height="16.68" fill="#120a32"/><rect x="876.99" y="422.04" width="16.68" height="16.68" fill="#1b0c41"/><rect x="893.07" y="422.04" width="16.68" height="16.68" fill="#280b53"/><rect x="909.15" y="422.04" width="16.68" height="16.68" fill="#380962"/><rect x="925.23" y="422.04" width="16.68" height="16.68" fill="#4a0c6b"/><rect x="941.31" y="422.04" width="16.68" height="16.68" fill="#5f136e"/><rect x="957.39" y="422.04" width="16.68" height="16.68" fill="#721a6e"/><rect x="973.47" y="422.04" width="16.68" height="16.68" fill="#84206b"/><rect x="989.55" y="422.04" width="16.68" height="16.68" fill="#932667"/><rect x="1005.63" y="422.04" width="16.68" height="16.68" fill="#9d2964"/><rect x="1021.71" y="422.04" width="16.68" height="16.68" fill="#a02a63"/><rect x="1037.79" y="422.04" width="16.68" height="16.68" fill="#9d2964"/><rect x="1053.87" y="422.04" width="16.68" height="16.68" fill="#932667"/><rect x="1069.95" y="422.04" width="16.68" height="16.68" fill="#84206b"/><rect x="1086.03" y="422.04" width="16.68" height="16.68" fill="#721a6e"/><rect x="1102.11" y="422.04" width="16.68" height="16.68" fill="#5d126e"/><rect x="1118.19" y="422.04" width="16.68" height="16.68" fill="#4a0c6b"/><rect x="1134.27" y="422.04" width="16.68" height="16.68" fill="#380962"/><rect x="1150.35" y="422.04" width="16.68" height="16.68" fill="#280b53"/><rect x="1166.43" y="422.04" width="16.68" height="16.68" fill="#1b0c41"/><rect x="1182.51" y="422.04" width="16.68" height="16.68" fill="#120a32"/><rect x="1198.59" y="422.04" width="16.68" height="16.68" fill="#0d0829"/><rect x="1214.67" y="422.04" width="16.68" height="16.68" fill="#0a0722"/><rect x="1230.75" y="422.04" width="16.68" height="16.68" fill="#08051d"/><rect x="1246.83" y="422.04" width="16.68" height="16.68" fill="#07051b"/><rect x="1262.91" y="422.04" width="16.68" height="16.68" fill="#060419"/><rect x="1278.99" y="422.04" width="16.68" height="16.68" fill="#060419"/><rect x="1295.07" y="422.04" width="16.68" height="16.68" fill="#060419"/><rect x="1311.15" y="422.04" width="16.68" height="16.68" fill="#060419"/><rect x="732.27" y="438.12" width="16.68" height="16.68" fill="#060419"/><rect x="748.35" y="438.12" width="16.68" height="16.68" fill="#060419"/><rect x="764.43" y="438.12" width="16.68" height="16.68" fill="#060419"/><rect x="780.51" y="438.12" width="16.68" height="16.68" fill="#060419"/><rect x="796.59" y="438.12" width="16.68" height="16.68" fill="#07051b"/><rect x="812.67" y="438.12" width="16.68" height="16.68" fill="#07051b"/><rect x="828.75" y="438.12" width="16.68" height="16.68" fill="#09061f"/><rect x="844.83" y="438.12" width="16.68" height="16.68" fill="#0b0724"/><rect x="860.91" y="438.12" width="16.68" height="16.68" fill="#0e092b"/><rect x="876.99" y="438.12" width="16.68" height="16.68" fill="#140b34"/><rect x="893.07" y="438.12" width="16.68" height="16.68" fill="#1c0c43"/><rect x="909.15" y="438.12" width="16.68" height="16.68" fill="#280b53"/><rect x="925.23" y="438.12" width="16.68" height="16.68" fill="#360961"/><rect x="941.31" y="438.12" width="16.68" height="16.68" fill="#450a69"/><rect x="957.39" y="438.12" width="16.68" height="16.68" fill="#540f6d"/><rect x="973.47" y="438.12" width="16.68" height="16.68" fill="#62146e"/><rect x="989.55" y="438.12" width="16.68" height="16.68" fill="#6d186e"/><rect x="1005.63" y="438.12" width="16.68" height="16.68" fill="#741a6e"/><rect x="1021.71" y="438.12" width="16.68" height="16.68" fill="#771c6d"/><rect x="1037.79" y="438.12" width="16.68" height="16.68" fill="#741a6e"/><rect x="1053.87" y="438.12" width="16.68" height="16.68" fill="#6d186e"/><rect x="1069.95" y="438.12" width="16.68" height="16.68" fill="#62146e"/><rect x="1086.03" y="438.12" width="16.68" height="16.68" fill="#540f6d"/><rect x="1102.11" y="438.12" width="16.68" height="16.68" fill="#450a69"/><rect x="1118.19" y="438.12" width="16.68" height="16.68" fill="#360961"/><rect x="1134.27" y="438.12" width="16.68" height="16.68" fill="#280b53"/><rect x="1150.35" y="438.12" width="16.68" height="16.68" fill="#1c0c43"/><rect x="1166.43" y="438.12" width="16.68" height="16.68" fill="#140b34"/><rect x="1182.51" y="438.12" width="16.68" height="16.68" fill="#0e092b"/><rect x="1198.59" y="438.12" width="16.68" height="16.68" fill="#0b0724"/><rect x="1214.67" y="438.12" width="16.68" height="16.68" fill="#09061f"/><rect x="1230.75" y="438.12" width="16.68" height="16.68" fill="#07051b"/><rect x="1246.83" y="438.12" width="16.68" height="16.68" fill="#07051b"/><rect x="1262.91" y="438.12" width="16.68" height="16.68" fill="#060419"/><rect x="1278.99" y="438.12" width="16.68" height="16.68" fill="#060419"/><rect x="1295.07" y="438.12" width="16.68" height="16.68" fill="#060419"/><rect x="1311.15" y="438.12" width="16.68" height="16.68" fill="#060419"/><rect x="732.27" y="454.2" width="16.68" height="16.68" fill="#060419"/><rect x="748.35" y="454.2" width="16.68" height="16.68" fill="#060419"/><rect x="764.43" y="454.2" width="16.68" height="16.68" fill="#060419"/><rect x="780.51" y="454.2" width="16.68" height="16.68" fill="#060419"/><rect x="796.59" y="454.2" width="16.68" height="16.68" fill="#060419"/><rect x="812.67" y="454.2" width="16.68" height="16.68" fill="#07051b"/><rect x="828.75" y="454.2" width="16.68" height="16.68" fill="#08051d"/><rect x="844.83" y="454.2" width="16.68" height="16.68" fill="#09061f"/><rect x="860.91" y="454.2" width="16.68" height="16.68" fill="#0c0826"/><rect x="876.99" y="454.2" width="16.68" height="16.68" fill="#10092d"/><rect x="893.07" y="454.2" width="16.68" height="16.68" fill="#150b37"/><rect x="909.15" y="454.2" width="16.68" height="16.68" fill="#1c0c43"/><rect x="925.23" y="454.2" width="16.68" height="16.68" fill="#240c4f"/><rect x="941.31" y="454.2" width="16.68" height="16.68" fill="#310a5c"/><rect x="957.39" y="454.2" width="16.68" height="16.68" fill="#3b0964"/><rect x="973.47" y="454.2" width="16.68" height="16.68" fill="#450a69"/><rect x="989.55" y="454.2" width="16.68" height="16.68" fill="#4d0d6c"/><rect x="1005.63" y="454.2" width="16.68" height="16.68" fill="#520e6d"/><rect x="1021.71" y="454.2" width="16.68" height="16.68" fill="#540f6d"/><rect x="1037.79" y="454.2" width="16.68" height="16.68" fill="#520e6d"/><rect x="1053.87" y="454.2" width="16.68" height="16.68" fill="#4d0d6c"/><rect x="1069.95" y="454.2" width="16.68" height="16.68" fill="#450a69"/><rect x="1086.03" y="454.2" width="16.68" height="16.68" fill="#3b0964"/><rect x="1102.11" y="454.2" width="16.68" height="16.68" fill="#310a5c"/><rect x="1118.19" y="454.2" width="16.68" height="16.68" fill="#240c4f"/><rect x="1134.27" y="454.2" width="16.68" height="16.68" fill="#1c0c43"/><rect x="1150.35" y="454.2" width="16.68" height="16.68" fill="#150b37"/><rect x="1166.43" y="454.2" width="16.68" height="16.68" fill="#10092d"/><rect x="1182.51" y="454.2" width="16.68" height="16.68" fill="#0c0826"/><rect x="1198.59" y="454.2" width="16.68" height="16.68" fill="#09061f"/><rect x="1214.67" y="454.2" width="16.68" height="16.68" fill="#08051d"/><rect x="1230.75" y="454.2" width="16.68" height="16.68" fill="#07051b"/><rect x="1246.83" y="454.2" width="16.68" height="16.68" fill="#060419"/><rect x="1262.91" y="454.2" width="16.68" height="16.68" fill="#060419"/><rect x="1278.99" y="454.2" width="16.68" height="16.68" fill="#060419"/><rect x="1295.07" y="454.2" width="16.68" height="16.68" fill="#060419"/><rect x="1311.15" y="454.2" width="16.68" height="16.68" fill="#060419"/><rect x="732.27" y="470.28" width="16.68" height="16.68" fill="#060419"/><rect x="748.35" y="470.28" width="16.68" height="16.68" fill="#060419"/><rect x="764.43" y="470.28" width="16.68" height="16.68" fill="#060419"/><rect x="780.51" y="470.28" width="16.68" height="16.68" fill="#060419"/><rect x="796.59" y="470.28" width="16.68" height="16.68" fill="#060419"/><rect x="812.67" y="470.28" width="16.68" height="16.68" fill="#060419"/><rect x="828.75" y="470.28" width="16.68" height="16.68" fill="#07051b"/><rect x="844.83" y="470.28" width="16.68" height="16.68" fill="#08051d"/><rect x="860.91" y="470.28" width="16.68" height="16.68" fill="#0a0722"/><rect x="876.99" y="470.28" width="16.68" height="16.68" fill="#0c0826"/><rect x="893.07" y="470.28" width="16.68" height="16.68" fill="#0e092b"/><rect x="909.15" y="470.28" width="16.68" height="16.68" fill="#140b34"/><rect x="925.23" y="470.28" width="16.68" height="16.68" fill="#190c3e"/><rect x="941.31" y="470.28" width="16.68" height="16.68" fill="#1f0c48"/><rect x="957.39" y="470.28" width="16.68" height="16.68" fill="#260c51"/><rect x="973.47" y="470.28" width="16.68" height="16.68" fill="#2d0b59"/><rect x="989.55" y="470.28" width="16.68" height="16.68" fill="#340a5f"/><rect x="1005.63" y="470.28" width="16.68" height="16.68" fill="#380962"/><rect x="1021.71" y="470.28" width="16.68" height="16.68" fill="#390963"/><rect x="1037.79" y="470.28" width="16.68" height="16.68" fill="#380962"/><rect x="1053.87" y="470.28" width="16.68" height="16.68" fill="#340a5f"/><rect x="1069.95" y="470.28" width="16.68" height="16.68" fill="#2d0b59"/><rect x="1086.03" y="470.28" width="16.68" height="16.68" fill="#260c51"/><rect x="1102.11" y="470.28" width="16.68" height="16.68" fill="#1f0c48"/><rect x="1118.19" y="470.28" width="16.68" height="16.68" fill="#190c3e"/><rect x="1134.27" y="470.28" width="16.68" height="16.68" fill="#140b34"/><rect x="1150.35" y="470.28" width="16.68" height="16.68" fill="#0e092b"/><rect x="1166.43" y="470.28" width="16.68" height="16.68" fill="#0c0826"/><rect x="1182.51" y="470.28" width="16.68" height="16.68" fill="#0a0722"/><rect x="1198.59" y="470.28" width="16.68" height="16.68" fill="#08051d"/><rect x="1214.67" y="470.28" width="16.68" height="16.68" fill="#07051b"/><rect x="1230.75" y="470.28" width="16.68" height="16.68" fill="#060419"/><rect x="1246.83" y="470.28" width="16.68" height="16.68" fill="#060419"/><rect x="1262.91" y="470.28" width="16.68" height="16.68" fill="#060419"/><rect x="1278.99" y="470.28" width="16.68" height="16.68" fill="#060419"/><rect x="1295.07" y="470.28" width="16.68" height="16.68" fill="#060419"/><rect x="1311.15" y="470.28" width="16.68" height="16.68" fill="#060419"/><rect x="732.27" y="486.36" width="16.68" height="16.68" fill="#060419"/><rect x="748.35" y="486.36" width="16.68" height="16.68" fill="#060419"/><rect x="764.43" y="486.36" width="16.68" height="16.68" fill="#060419"/><rect x="780.51" y="486.36" width="16.68" height="16.68" fill="#060419"/><rect x="796.59" y="486.36" width="16.68" height="16.68" fill="#060419"/><rect x="812.67" y="486.36" width="16.68" height="16.68" fill="#060419"/><rect x="828.75" y="486.36" width="16.68" height="16.68" fill="#07051b"/><rect x="844.83" y="486.36" width="16.68" height="16.68" fill="#07051b"/><rect x="860.91" y="486.36" width="16.68" height="16.68" fill="#08051d"/><rect x="876.99" y="486.36" width="16.68" height="16.68" fill="#09061f"/><rect x="893.07" y="486.36" width="16.68" height="16.68" fill="#0b0724"/><rect x="909.15" y="486.36" width="16.68" height="16.68" fill="#0d0829"/><rect x="925.23" y="486.36" width="16.68" height="16.68" fill="#110a30"/><rect x="941.31" y="486.36" width="16.68" height="16.68" fill="#150b37"/><rect x="957.39" y="486.36" width="16.68" height="16.68" fill="#190c3e"/><rect x="973.47" y="486.36" width="16.68" height="16.68" fill="#1c0c43"/><rect x="989.55" y="486.36" width="16.68" height="16.68" fill="#1f0c48"/><rect x="1005.63" y="486.36" width="16.68" height="16.68" fill="#230c4c"/><rect x="1021.71" y="486.36" width="16.68" height="16.68" fill="#230c4c"/><rect x="1037.79" y="486.36" width="16.68" height="16.68" fill="#230c4c"/><rect x="1053.87" y="486.36" width="16.68" height="16.68" fill="#1f0c48"/><rect x="1069.95" y="486.36" width="16.68" height="16.68" fill="#1c0c43"/><rect x="1086.03" y="486.36" width="16.68" height="16.68" fill="#190c3e"/><rect x="1102.11" y="486.36" width="16.68" height="16.68" fill="#150b37"/><rect x="1118.19" y="486.36" width="16.68" height="16.68" fill="#110a30"/><rect x="1134.27" y="486.36" width="16.68" height="16.68" fill="#0d0829"/><rect x="1150.35" y="486.36" width="16.68" height="16.68" fill="#0b0724"/><rect x="1166.43" y="486.36" width="16.68" height="16.68" fill="#09061f"/><rect x="1182.51" y="486.36" width="16.68" height="16.68" fill="#08051d"/><rect x="1198.59" y="486.36" width="16.68" height="16.68" fill="#07051b"/><rect x="1214.67" y="486.36" width="16.68" height="16.68" fill="#07051b"/><rect x="1230.75" y="486.36" width="16.68" height="16.68" fill="#060419"/><rect x="1246.83" y="486.36" width="16.68" height="16.68" fill="#060419"/><rect x="1262.91" y="486.36" width="16.68" height="16.68" fill="#060419"/><rect x="1278.99" y="486.36" width="16.68" height="16.68" fill="#060419"/><rect x="1295.07" y="486.36" width="16.68" height="16.68" fill="#060419"/><rect x="1311.15" y="486.36" width="16.68" height="16.68" fill="#060419"/><rect x="748.35" y="502.44" width="16.68" height="16.68" fill="#060419"/><rect x="764.43" y="502.44" width="16.68" height="16.68" fill="#060419"/><rect x="780.51" y="502.44" width="16.68" height="16.68" fill="#060419"/><rect x="796.59" y="502.44" width="16.68" height="16.68" fill="#060419"/><rect x="812.67" y="502.44" width="16.68" height="16.68" fill="#060419"/><rect x="828.75" y="502.44" width="16.68" height="16.68" fill="#060419"/><rect x="844.83" y="502.44" width="16.68" height="16.68" fill="#07051b"/><rect x="860.91" y="502.44" width="16.68" height="16.68" fill="#07051b"/><rect x="876.99" y="502.44" width="16.68" height="16.68" fill="#08051d"/><rect x="893.07" y="502.44" width="16.68" height="16.68" fill="#09061f"/><rect x="909.15" y="502.44" width="16.68" height="16.68" fill="#0a0722"/><rect x="925.23" y="502.44" width="16.68" height="16.68" fill="#0c0826"/><rect x="941.31" y="502.44" width="16.68" height="16.68" fill="#0e092b"/><rect x="957.39" y="502.44" width="16.68" height="16.68" fill="#110a30"/><rect x="973.47" y="502.44" width="16.68" height="16.68" fill="#120a32"/><rect x="989.55" y="502.44" width="16.68" height="16.68" fill="#140b34"/><rect x="1005.63" y="502.44" width="16.68" height="16.68" fill="#150b37"/><rect x="1021.71" y="502.44" width="16.68" height="16.68" fill="#160b39"/><rect x="1037.79" y="502.44" width="16.68" height="16.68" fill="#150b37"/><rect x="1053.87" y="502.44" width="16.68" height="16.68" fill="#140b34"/><rect x="1069.95" y="502.44" width="16.68" height="16.68" fill="#120a32"/><rect x="1086.03" y="502.44" width="16.68" height="16.68" fill="#110a30"/><rect x="1102.11" y="502.44" width="16.68" height="16.68" fill="#0e092b"/><rect x="1118.19" y="502.44" width="16.68" height="16.68" fill="#0c0826"/><rect x="1134.27" y="502.44" width="16.68" height="16.68" fill="#0a0722"/><rect x="1150.35" y="502.44" width="16.68" height="16.68" fill="#09061f"/><rect x="1166.43" y="502.44" width="16.68" height="16.68" fill="#08051d"/><rect x="1182.51" y="502.44" width="16.68" height="16.68" fill="#07051b"/><rect x="1198.59" y="502.44" width="16.68" height="16.68" fill="#07051b"/><rect x="1214.67" y="502.44" width="16.68" height="16.68" fill="#060419"/><rect x="1230.75" y="502.44" width="16.68" height="16.68" fill="#060419"/><rect x="1246.83" y="502.44" width="16.68" height="16.68" fill="#060419"/><rect x="1262.91" y="502.44" width="16.68" height="16.68" fill="#060419"/><rect x="1278.99" y="502.44" width="16.68" height="16.68" fill="#060419"/><rect x="1295.07" y="502.44" width="16.68" height="16.68" fill="#060419"/><rect x="748.35" y="518.52" width="16.68" height="16.68" fill="#060419"/><rect x="764.43" y="518.52" width="16.68" height="16.68" fill="#060419"/><rect x="780.51" y="518.52" width="16.68" height="16.68" fill="#060419"/><rect x="796.59" y="518.52" width="16.68" height="16.68" fill="#060419"/><rect x="812.67" y="518.52" width="16.68" height="16.68" fill="#060419"/><rect x="828.75" y="518.52" width="16.68" height="16.68" fill="#060419"/><rect x="844.83" y="518.52" width="16.68" height="16.68" fill="#060419"/><rect x="860.91" y="518.52" width="16.68" height="16.68" fill="#060419"/><rect x="876.99" y="518.52" width="16.68" height="16.68" fill="#07051b"/><rect x="893.07" y="518.52" width="16.68" height="16.68" fill="#08051d"/><rect x="909.15" y="518.52" width="16.68" height="16.68" fill="#08051d"/><rect x="925.23" y="518.52" width="16.68" height="16.68" fill="#09061f"/><rect x="941.31" y="518.52" width="16.68" height="16.68" fill="#0a0722"/><rect x="957.39" y="518.52" width="16.68" height="16.68" fill="#0b0724"/><rect x="973.47" y="518.52" width="16.68" height="16.68" fill="#0c0826"/><rect x="989.55" y="518.52" width="16.68" height="16.68" fill="#0d0829"/><rect x="1005.63" y="518.52" width="16.68" height="16.68" fill="#0e092b"/><rect x="1021.71" y="518.52" width="16.68" height="16.68" fill="#0e092b"/><rect x="1037.79" y="518.52" width="16.68" height="16.68" fill="#0e092b"/><rect x="1053.87" y="518.52" width="16.68" height="16.68" fill="#0d0829"/><rect x="1069.95" y="518.52" width="16.68" height="16.68" fill="#0c0826"/><rect x="1086.03" y="518.52" width="16.68" height="16.68" fill="#0b0724"/><rect x="1102.11" y="518.52" width="16.68" height="16.68" fill="#0a0722"/><rect x="1118.19" y="518.52" width="16.68" height="16.68" fill="#09061f"/><rect x="1134.27" y="518.52" width="16.68" height="16.68" fill="#08051d"/><rect x="1150.35" y="518.52" width="16.68" height="16.68" fill="#08051d"/><rect x="1166.43" y="518.52" width="16.68" height="16.68" fill="#07051b"/><rect x="1182.51" y="518.52" width="16.68" height="16.68" fill="#060419"/><rect x="1198.59" y="518.52" width="16.68" height="16.68" fill="#060419"/><rect x="1214.67" y="518.52" width="16.68" height="16.68" fill="#060419"/><rect x="1230.75" y="518.52" width="16.68" height="16.68" fill="#060419"/><rect x="1246.83" y="518.52" width="16.68" height="16.68" fill="#060419"/><rect x="1262.91" y="518.52" width="16.68" height="16.68" fill="#060419"/><rect x="1278.99" y="518.52" width="16.68" height="16.68" fill="#060419"/><rect x="1295.07" y="518.52" width="16.68" height="16.68" fill="#060419"/><rect x="764.43" y="534.6" width="16.68" height="16.68" fill="#060419"/><rect x="780.51" y="534.6" width="16.68" height="16.68" fill="#060419"/><rect x="796.59" y="534.6" width="16.68" height="16.68" fill="#060419"/><rect x="812.67" y="534.6" width="16.68" height="16.68" fill="#060419"/><rect x="828.75" y="534.6" width="16.68" height="16.68" fill="#060419"/><rect x="844.83" y="534.6" width="16.68" height="16.68" fill="#060419"/><rect x="860.91" y="534.6" width="16.68" height="16.68" fill="#060419"/><rect x="876.99" y="534.6" width="16.68" height="16.68" fill="#060419"/><rect x="893.07" y="534.6" width="16.68" height="16.68" fill="#07051b"/><rect x="909.15" y="534.6" width="16.68" height="16.68" fill="#07051b"/><rect x="925.23" y="534.6" width="16.68" height="16.68" fill="#08051d"/><rect x="941.31" y="534.6" width="16.68" height="16.68" fill="#08051d"/><rect x="957.39" y="534.6" width="16.68" height="16.68" fill="#09061f"/><rect x="973.47" y="534.6" width="16.68" height="16.68" fill="#09061f"/><rect x="989.55" y="534.6" width="16.68" height="16.68" fill="#0a0722"/><rect x="1005.63" y="534.6" width="16.68" height="16.68" fill="#0a0722"/><rect x="1021.71" y="534.6" width="16.68" height="16.68" fill="#0a0722"/><rect x="1037.79" y="534.6" width="16.68" height="16.68" fill="#0a0722"/><rect x="1053.87" y="534.6" width="16.68" height="16.68" fill="#0a0722"/><rect x="1069.95" y="534.6" width="16.68" height="16.68" fill="#09061f"/><rect x="1086.03" y="534.6" width="16.68" height="16.68" fill="#09061f"/><rect x="1102.11" y="534.6" width="16.68" height="16.68" fill="#08051d"/><rect x="1118.19" y="534.6" width="16.68" height="16.68" fill="#08051d"/><rect x="1134.27" y="534.6" width="16.68" height="16.68" fill="#07051b"/><rect x="1150.35" y="534.6" width="16.68" height="16.68" fill="#07051b"/><rect x="1166.43" y="534.6" width="16.68" height="16.68" fill="#060419"/><rect x="1182.51" y="534.6" width="16.68" height="16.68" fill="#060419"/><rect x="1198.59" y="534.6" width="16.68" height="16.68" fill="#060419"/><rect x="1214.67" y="534.6" width="16.68" height="16.68" fill="#060419"/><rect x="1230.75" y="534.6" width="16.68" height="16.68" fill="#060419"/><rect x="1246.83" y="534.6" width="16.68" height="16.68" fill="#060419"/><rect x="1262.91" y="534.6" width="16.68" height="16.68" fill="#060419"/><rect x="1278.99" y="534.6" width="16.68" height="16.68" fill="#060419"/><rect x="780.51" y="550.68" width="16.68" height="16.68" fill="#060419"/><rect x="796.59" y="550.68" width="16.68" height="16.68" fill="#060419"/><rect x="812.67" y="550.68" width="16.68" height="16.68" fill="#060419"/><rect x="828.75" y="550.68" width="16.68" height="16.68" fill="#060419"/><rect x="844.83" y="550.68" width="16.68" height="16.68" fill="#060419"/><rect x="860.91" y="550.68" width="16.68" height="16.68" fill="#060419"/><rect x="876.99" y="550.68" width="16.68" height="16.68" fill="#060419"/><rect x="893.07" y="550.68" width="16.68" height="16.68" fill="#060419"/><rect x="909.15" y="550.68" width="16.68" height="16.68" fill="#060419"/><rect x="925.23" y="550.68" width="16.68" height="16.68" fill="#07051b"/><rect x="941.31" y="550.68" width="16.68" height="16.68" fill="#07051b"/><rect x="957.39" y="550.68" width="16.68" height="16.68" fill="#07051b"/><rect x="973.47" y="550.68" width="16.68" height="16.68" fill="#08051d"/><rect x="989.55" y="550.68" width="16.68" height="16.68" fill="#08051d"/><rect x="1005.63" y="550.68" width="16.68" height="16.68" fill="#08051d"/><rect x="1021.71" y="550.68" width="16.68" height="16.68" fill="#08051d"/><rect x="1037.79" y="550.68" width="16.68" height="16.68" fill="#08051d"/><rect x="1053.87" y="550.68" width="16.68" height="16.68" fill="#08051d"/><rect x="1069.95" y="550.68" width="16.68" height="16.68" fill="#08051d"/><rect x="1086.03" y="550.68" width="16.68" height="16.68" fill="#07051b"/><rect x="1102.11" y="550.68" width="16.68" height="16.68" fill="#07051b"/><rect x="1118.19" y="550.68" width="16.68" height="16.68" fill="#07051b"/><rect x="1134.27" y="550.68" width="16.68" height="16.68" fill="#060419"/><rect x="1150.35" y="550.68" width="16.68" height="16.68" fill="#060419"/><rect x="1166.43" y="550.68" width="16.68" height="16.68" fill="#060419"/><rect x="1182.51" y="550.68" width="16.68" height="16.68" fill="#060419"/><rect x="1198.59" y="550.68" width="16.68" height="16.68" fill="#060419"/><rect x="1214.67" y="550.68" width="16.68" height="16.68" fill="#060419"/><rect x="1230.75" y="550.68" width="16.68" height="16.68" fill="#060419"/><rect x="1246.83" y="550.68" width="16.68" height="16.68" fill="#060419"/><rect x="1262.91" y="550.68" width="16.68" height="16.68" fill="#060419"/><rect x="796.59" y="566.76" width="16.68" height="16.68" fill="#060419"/><rect x="812.67" y="566.76" width="16.68" height="16.68" fill="#060419"/><rect x="828.75" y="566.76" width="16.68" height="16.68" fill="#060419"/><rect x="844.83" y="566.76" width="16.68" height="16.68" fill="#060419"/><rect x="860.91" y="566.76" width="16.68" height="16.68" fill="#060419"/><rect x="876.99" y="566.76" width="16.68" height="16.68" fill="#060419"/><rect x="893.07" y="566.76" width="16.68" height="16.68" fill="#060419"/><rect x="909.15" y="566.76" width="16.68" height="16.68" fill="#060419"/><rect x="925.23" y="566.76" width="16.68" height="16.68" fill="#060419"/><rect x="941.31" y="566.76" width="16.68" height="16.68" fill="#060419"/><rect x="957.39" y="566.76" width="16.68" height="16.68" fill="#060419"/><rect x="973.47" y="566.76" width="16.68" height="16.68" fill="#07051b"/><rect x="989.55" y="566.76" width="16.68" height="16.68" fill="#07051b"/><rect x="1005.63" y="566.76" width="16.68" height="16.68" fill="#07051b"/><rect x="1021.71" y="566.76" width="16.68" height="16.68" fill="#07051b"/><rect x="1037.79" y="566.76" width="16.68" height="16.68" fill="#07051b"/><rect x="1053.87" y="566.76" width="16.68" height="16.68" fill="#07051b"/><rect x="1069.95" y="566.76" width="16.68" height="16.68" fill="#07051b"/><rect x="1086.03" y="566.76" width="16.68" height="16.68" fill="#060419"/><rect x="1102.11" y="566.76" width="16.68" height="16.68" fill="#060419"/><rect x="1118.19" y="566.76" width="16.68" height="16.68" fill="#060419"/><rect x="1134.27" y="566.76" width="16.68" height="16.68" fill="#060419"/><rect x="1150.35" y="566.76" width="16.68" height="16.68" fill="#060419"/><rect x="1166.43" y="566.76" width="16.68" height="16.68" fill="#060419"/><rect x="1182.51" y="566.76" width="16.68" height="16.68" fill="#060419"/><rect x="1198.59" y="566.76" width="16.68" height="16.68" fill="#060419"/><rect x="1214.67" y="566.76" width="16.68" height="16.68" fill="#060419"/><rect x="1230.75" y="566.76" width="16.68" height="16.68" fill="#060419"/><rect x="1246.83" y="566.76" width="16.68" height="16.68" fill="#060419"/><rect x="812.67" y="582.84" width="16.68" height="16.68" fill="#060419"/><rect x="828.75" y="582.84" width="16.68" height="16.68" fill="#060419"/><rect x="844.83" y="582.84" width="16.68" height="16.68" fill="#060419"/><rect x="860.91" y="582.84" width="16.68" height="16.68" fill="#060419"/><rect x="876.99" y="582.84" width="16.68" height="16.68" fill="#060419"/><rect x="893.07" y="582.84" width="16.68" height="16.68" fill="#060419"/><rect x="909.15" y="582.84" width="16.68" height="16.68" fill="#060419"/><rect x="925.23" y="582.84" width="16.68" height="16.68" fill="#060419"/><rect x="941.31" y="582.84" width="16.68" height="16.68" fill="#060419"/><rect x="957.39" y="582.84" width="16.68" height="16.68" fill="#060419"/><rect x="973.47" y="582.84" width="16.68" height="16.68" fill="#060419"/><rect x="989.55" y="582.84" width="16.68" height="16.68" fill="#060419"/><rect x="1005.63" y="582.84" width="16.68" height="16.68" fill="#060419"/><rect x="1021.71" y="582.84" width="16.68" height="16.68" fill="#060419"/><rect x="1037.79" y="582.84" width="16.68" height="16.68" fill="#060419"/><rect x="1053.87" y="582.84" width="16.68" height="16.68" fill="#060419"/><rect x="1069.95" y="582.84" width="16.68" height="16.68" fill="#060419"/><rect x="1086.03" y="582.84" width="16.68" height="16.68" fill="#060419"/><rect x="1102.11" y="582.84" width="16.68" height="16.68" fill="#060419"/><rect x="1118.19" y="582.84" width="16.68" height="16.68" fill="#060419"/><rect x="1134.27" y="582.84" width="16.68" height="16.68" fill="#060419"/><rect x="1150.35" y="582.84" width="16.68" height="16.68" fill="#060419"/><rect x="1166.43" y="582.84" width="16.68" height="16.68" fill="#060419"/><rect x="1182.51" y="582.84" width="16.68" height="16.68" fill="#060419"/><rect x="1198.59" y="582.84" width="16.68" height="16.68" fill="#060419"/><rect x="1214.67" y="582.84" width="16.68" height="16.68" fill="#060419"/><rect x="1230.75" y="582.84" width="16.68" height="16.68" fill="#060419"/><rect x="844.83" y="598.92" width="16.68" height="16.68" fill="#060419"/><rect x="860.91" y="598.92" width="16.68" height="16.68" fill="#060419"/><rect x="876.99" y="598.92" width="16.68" height="16.68" fill="#060419"/><rect x="893.07" y="598.92" width="16.68" height="16.68" fill="#060419"/><rect x="909.15" y="598.92" width="16.68" height="16.68" fill="#060419"/><rect x="925.23" y="598.92" width="16.68" height="16.68" fill="#060419"/><rect x="941.31" y="598.92" width="16.68" height="16.68" fill="#060419"/><rect x="957.39" y="598.92" width="16.68" height="16.68" fill="#060419"/><rect x="973.47" y="598.92" width="16.68" height="16.68" fill="#060419"/><rect x="989.55" y="598.92" width="16.68" height="16.68" fill="#060419"/><rect x="1005.63" y="598.92" width="16.68" height="16.68" fill="#060419"/><rect x="1021.71" y="598.92" width="16.68" height="16.68" fill="#060419"/><rect x="1037.79" y="598.92" width="16.68" height="16.68" fill="#060419"/><rect x="1053.87" y="598.92" width="16.68" height="16.68" fill="#060419"/><rect x="1069.95" y="598.92" width="16.68" height="16.68" fill="#060419"/><rect x="1086.03" y="598.92" width="16.68" height="16.68" fill="#060419"/><rect x="1102.11" y="598.92" width="16.68" height="16.68" fill="#060419"/><rect x="1118.19" y="598.92" width="16.68" height="16.68" fill="#060419"/><rect x="1134.27" y="598.92" width="16.68" height="16.68" fill="#060419"/><rect x="1150.35" y="598.92" width="16.68" height="16.68" fill="#060419"/><rect x="1166.43" y="598.92" width="16.68" height="16.68" fill="#060419"/><rect x="1182.51" y="598.92" width="16.68" height="16.68" fill="#060419"/><rect x="1198.59" y="598.92" width="16.68" height="16.68" fill="#060419"/><rect x="860.91" y="615" width="16.68" height="16.68" fill="#060419"/><rect x="876.99" y="615" width="16.68" height="16.68" fill="#060419"/><rect x="893.07" y="615" width="16.68" height="16.68" fill="#060419"/><rect x="909.15" y="615" width="16.68" height="16.68" fill="#060419"/><rect x="925.23" y="615" width="16.68" height="16.68" fill="#060419"/><rect x="941.31" y="615" width="16.68" height="16.68" fill="#060419"/><rect x="957.39" y="615" width="16.68" height="16.68" fill="#060419"/><rect x="973.47" y="615" width="16.68" height="16.68" fill="#060419"/><rect x="989.55" y="615" width="16.68" height="16.68" fill="#060419"/><rect x="1005.63" y="615" width="16.68" height="16.68" fill="#060419"/><rect x="1021.71" y="615" width="16.68" height="16.68" fill="#060419"/><rect x="1037.79" y="615" width="16.68" height="16.68" fill="#060419"/><rect x="1053.87" y="615" width="16.68" height="16.68" fill="#060419"/><rect x="1069.95" y="615" width="16.68" height="16.68" fill="#060419"/><rect x="1086.03" y="615" width="16.68" height="16.68" fill="#060419"/><rect x="1102.11" y="615" width="16.68" height="16.68" fill="#060419"/><rect x="1118.19" y="615" width="16.68" height="16.68" fill="#060419"/><rect x="1134.27" y="615" width="16.68" height="16.68" fill="#060419"/><rect x="1150.35" y="615" width="16.68" height="16.68" fill="#060419"/><rect x="1166.43" y="615" width="16.68" height="16.68" fill="#060419"/><rect x="1182.51" y="615" width="16.68" height="16.68" fill="#060419"/></g>
<rect x="111.25" y="677.04" width="584.8" height="584.8" fill="url(#g10)" filter="url(#f10)"/>
<rect x="734.1" y="677.04" width="584.8" height="584.8" fill="url(#g11)"/>
<rect x="111.25" y="1320.3" width="584.8" height="584.8" fill="url(#g20)"/>
<rect x="734.1" y="1320.3" width="584.8" height="584.8" fill="url(#g21)"/>
<g mask="url(#vm)"><rect x="111.25" y="1320.3" width="584.8" height="584.8" fill="url(#g20v)"/><rect x="734.1" y="1320.3" width="584.8" height="584.8" fill="url(#g21v)"/></g>
<g shape-rendering="crispEdges"><rect x="1680.44" y="132.65" width="16.58" height="16.58" fill="#ff9e9e"/><rect x="1696.52" y="132.65" width="16.58" height="16.58" fill="#ff9e9e"/><rect x="1712.6" y="132.65" width="16.58" height="16.58" fill="#ff9898"/><rect x="1728.68" y="132.65" width="16.58" height="16.58" fill="#ff8686"/><rect x="1744.76" y="132.65" width="16.58" height="16.58" fill="#ff6c6c"/><rect x="1760.84" y="132.65" width="16.58" height="16.58" fill="#ff5858"/><rect x="1776.92" y="132.65" width="16.58" height="16.58" fill="#ff5858"/><rect x="1793" y="132.65" width="16.58" height="16.58" fill="#ff6c6c"/><rect x="1809.08" y="132.65" width="16.58" height="16.58" fill="#ff9e9e"/><rect x="1648.28" y="148.73" width="16.58" height="16.58" fill="#ff9292"/><rect x="1664.36" y="148.73" width="16.58" height="16.58" fill="#ffb2b2"/><rect x="1680.44" y="148.73" width="16.58" height="16.58" fill="#ffc6c6"/><rect x="1696.52" y="148.73" width="16.58" height="16.58" fill="#ffc6c6"/><rect x="1712.6" y="148.73" width="16.58" height="16.58" fill="#ffbebe"/><rect x="1728.68" y="148.73" width="16.58" height="16.58" fill="#ffb2b2"/><rect x="1744.76" y="148.73" width="16.58" height="16.58" fill="#ff9e9e"/><rect x="1760.84" y="148.73" width="16.58" height="16.58" fill="#ff8c8c"/><rect x="1776.92" y="148.73" width="16.58" height="16.58" fill="#ff8686"/><rect x="1793" y="148.73" width="16.58" height="16.58" fill="#ff8c8c"/><rect x="1809.08" y="148.73" width="16.58" height="16.58" fill="#ff9e9e"/><rect x="1825.16" y="148.73" width="16.58" height="16.58" fill="#ffcccc"/><rect x="1841.24" y="148.73" width="16.58" height="16.58" fill="#e6e6ff"/><rect x="1616.12" y="164.81" width="16.58" height="16.58" fill="#ff7272"/><rect x="1632.2" y="164.81" width="16.58" height="16.58" fill="#ff9e9e"/><rect x="1648.28" y="164.81" width="16.58" height="16.58" fill="#ffb8b8"/><rect x="1664.36" y="164.81" width="16.58" height="16.58" fill="#ffcccc"/><rect x="1680.44" y="164.81" width="16.58" height="16.58" fill="#ffd2d2"/><rect x="1696.52" y="164.81" width="16.58" height="16.58" fill="#ffd2d2"/><rect x="1712.6" y="164.81" width="16.58" height="16.58" fill="#ffcccc"/><rect x="1728.68" y="164.81" width="16.58" height="16.58" fill="#ffbebe"/><rect x="1744.76" y="164.81" width="16.58" height="16.58" fill="#ffb2b2"/><rect x="1760.84" y="164.81" width="16.58" height="16.58" fill="#ffa6a6"/><rect x="1776.92" y="164.81" width="16.58" height="16.58" fill="#ff9e9e"/><rect x="1793" y="164.81" width="16.58" height="16.58" fill="#ff9e9e"/><rect x="1809.08" y="164.81" width="16.58" height="16.58" fill="#ffa6a6"/><rect x="1825.16" y="164.81" width="16.58" height="16.58" fill="#ffbebe"/><rect x="1841.24" y="164.81" width="16.58" height="16.58" fill="#ffecec"/><rect x="1857.32" y="164.81" width="16.58" height="16.58" fill="#ccccff"/><rect x="1600.04" y="180.89" width="16.58" height="16.58" fill="#ff7272"/><rect x="1616.12" y="180.89" width="16.58" height="16.58" fill="#ff9e9e"/><rect x="1632.2" y="180.89" width="16.58" height="16.58" fill="#ffb8b8"/><rect x="1648.28" y="180.89" width="16.58" height="16.58" fill="#ffc6c6"/><rect x="1664.36" y="180.89" width="16.58" height="16.58" fill="#ffd2d2"/><rect x="1680.44" y="180.89" width="16.58" height="16.58" fill="#ffd8d8"/><rect x="1696.52" y="180.89" width="16.58" height="16.58" fill="#ffd8d8"/><rect x="1712.6" y="180.89" width="16.58" height="16.58" fill="#ffd2d2"/><rect x="1728.68" y="180.89" width="16.58" height="16.58" fill="#ffcccc"/><rect x="1744.76" y="180.89" width="16.58" height="16.58" fill="#ffbebe"/><rect x="1760.84" y="180.89" width="16.58" height="16.58" fill="#ffb8b8"/><rect x="1776.92" y="180.89" width="16.58" height="16.58" fill="#ffb2b2"/><rect x="1793" y="180.89" width="16.58" height="16.58" fill="#ffb2b2"/><rect x="1809.08" y="180.89" width="16.58" height="16.58" fill="#ffb2b2"/><rect x="1825.16" y="180.89" width="16.58" height="16.58" fill="#ffbebe"/><rect x="1841.24" y="180.89" width="16.58" height="16.58" fill="#ffd8d8"/><rect x="1857.32" y="180.89" width="16.58" height="16.58" fill="#f8f8ff"/><rect x="1873.4" y="180.89" width="16.58" height="16.58" fill="#c0c0ff"/><rect x="1600.04" y="196.97" width="16.58" height="16.58" fill="#ff9292"/><rect x="1616.12" y="196.97" width="16.58" height="16.58" fill="#ffb2b2"/><rect x="1632.2" y="196.97" width="16.58" height="16.58" fill="#ffc6c6"/><rect x="1648.28" y="196.97" width="16.58" height="16.58" fill="#ffcccc"/><rect x="1664.36" y="196.97" width="16.58" height="16.58" fill="#ffd2d2"/><rect x="1680.44" y="196.97" width="16.58" height="16.58" fill="#ffd8d8"/><rect x="1696.52" y="196.97" width="16.58" height="16.58" fill="#ffd8d8"/><rect x="1712.6" y="196.97" width="16.58" height="16.58" fill="#ffd2d2"/><rect x="1728.68" y="196.97" width="16.58" height="16.58" fill="#ffcccc"/><rect x="1744.76" y="196.97" width="16.58" height="16.58" fill="#ffc6c6"/><rect x="1760.84" y="196.97" width="16.58" height="16.58" fill="#ffbebe"/><rect x="1776.92" y="196.97" width="16.58" height="16.58" fill="#ffbebe"/><rect x="1793" y="196.97" width="16.58" height="16.58" fill="#ffb8b8"/><rect x="1809.08" y="196.97" width="16.58" height="16.58" fill="#ffb8b8"/><rect x="1825.16" y="196.97" width="16.58" height="16.58" fill="#ffbebe"/><rect x="1841.24" y="196.97" width="16.58" height="16.58" fill="#ffcccc"/><rect x="1857.32" y="196.97" width="16.58" height="16.58" fill="#ffecec"/><rect x="1873.4" y="196.97" width="16.58" height="16.58" fill="#e6e6ff"/><rect x="1889.48" y="196.97" width="16.58" height="16.58" fill="#acacff"/><rect x="1583.96" y="213.05" width="16.58" height="16.58" fill="#ff7e7e"/><rect x="1600.04" y="213.05" width="16.58" height="16.58" fill="#ffacac"/><rect x="1616.12" y="213.05" width="16.58" height="16.58" fill="#ffbebe"/><rect x="1632.2" y="213.05" width="16.58" height="16.58" fill="#ffcccc"/><rect x="1648.28" y="213.05" width="16.58" height="16.58" fill="#ffd2d2"/><rect x="1664.36" y="213.05" width="16.58" height="16.58" fill="#ffd2d2"/><rect x="1680.44" y="213.05" width="16.58" height="16.58" fill="#ffd8d8"/><rect x="1696.52" y="213.05" width="16.58" height="16.58" fill="#ffd8d8"/><rect x="1712.6" y="213.05" width="16.58" height="16.58" fill="#ffd2d2"/><rect x="1728.68" y="213.05" width="16.58" height="16.58" fill="#ffd2d2"/><rect x="1744.76" y="213.05" width="16.58" height="16.58" fill="#ffcccc"/><rect x="1760.84" y="213.05" width="16.58" height="16.58" fill="#ffc6c6"/><rect x="1776.92" y="213.05" width="16.58" height="16.58" fill="#ffbebe"/><rect x="1793" y="213.05" width="16.58" height="16.58" fill="#ffbebe"/><rect x="1809.08" y="213.05" width="16.58" height="16.58" fill="#ffbebe"/><rect x="1825.16" y="213.05" width="16.58" height="16.58" fill="#ffbebe"/><rect x="1841.24" y="213.05" width="16.58" height="16.58" fill="#ffcccc"/><rect x="1857.32" y="213.05" width="16.58" height="16.58" fill="#ffe6e6"/><rect x="1873.4" y="213.05" width="16.58" height="16.58" fill="#fffefe"/><rect x="1889.48" y="213.05" width="16.58" height="16.58" fill="#e0e0ff"/><rect x="1905.56" y="213.05" width="16.58" height="16.58" fill="#acacff"/><rect x="1567.88" y="229.13" width="16.58" height="16.58" fill="#ff5252"/><rect x="1583.96" y="229.13" width="16.58" height="16.58" fill="#ff9e9e"/><rect x="1600.04" y="229.13" width="16.58" height="16.58" fill="#ffb8b8"/><rect x="1616.12" y="229.13" width="16.58" height="16.58" fill="#ffc6c6"/><rect x="1632.2" y="229.13" width="16.58" height="16.58" fill="#ffcccc"/><rect x="1648.28" y="229.13" width="16.58" height="16.58" fill="#ffd2d2"/><rect x="1664.36" y="229.13" width="16.58" height="16.58" fill="#ffd2d2"/><rect x="1680.44" y="229.13" width="16.58" height="16.58" fill="#ffd2d2"/><rect x="1696.52" y="229.13" width="16.58" height="16.58" fill="#ffd2d2"/><rect x="1712.6" y="229.13" width="16.58" height="16.58" fill="#ffd2d2"/><rect x="1728.68" y="229.13" width="16.58" height="16.58" fill="#ffcccc"/><rect x="1744.76" y="229.13" width="16.58" height="16.58" fill="#ffcccc"/><rect x="1760.84" y="229.13" width="16.58" height="16.58" fill="#ffc6c6"/><rect x="1776.92" y="229.13" width="16.58" height="16.58" fill="#ffc6c6"/><rect x="1793" y="229.13" width="16.58" height="16.58" fill="#ffbebe"/><rect x="1809.08" y="229.13" width="16.58" height="16.58" fill="#ffbebe"/><rect x="1825.16" y="229.13" width="16.58" height="16.58" fill="#ffc6c6"/><rect x="1841.24" y="229.13" width="16.58" height="16.58" fill="#ffcccc"/><rect x="1857.32" y="229.13" width="16.58" height="16.58" fill="#ffdede"/><rect x="1873.4" y="229.13" width="16.58" height="16.58" fill="#ffecec"/><rect x="1889.48" y="229.13" width="16.58" height="16.58" fill="#f8f8ff"/><rect x="1905.56" y="229.13" width="16.58" height="16.58" fill="#d8d8ff"/><rect x="1567.88" y="245.21" width="16.58" height="16.58" fill="#ff7272"/><rect x="1583.96" y="245.21" width="16.58" height="16.58" fill="#ffacac"/><rect x="1600.04" y="245.21" width="16.58" height="16.58" fill="#ffbebe"/><rect x="1616.12" y="245.21" width="16.58" height="16.58" fill="#ffcccc"/><rect x="1632.2" y="245.21" width="16.58" height="16.58" fill="#ffcccc"/><rect x="1648.28" y="245.21" width="16.58" height="16.58" fill="#ffd2d2"/><rect x="1664.36" y="245.21" width="16.58" height="16.58" fill="#ffd2d2"/><rect x="1680.44" y="245.21" width="16.58" height="16.58" fill="#ffd2d2"/><rect x="1696.52" y="245.21" width="16.58" height="16.58" fill="#ffd2d2"/><rect x="1712.6" y="245.21" width="16.58" height="16.58" fill="#ffcccc"/><rect x="1728.68" y="245.21" width="16.58" height="16.58" fill="#ffcccc"/><rect x="1744.76" y="245.21" width="16.58" height="16.58" fill="#ffcccc"/><rect x="1760.84" y="245.21" width="16.58" height="16.58" fill="#ffc6c6"/><rect x="1776.92" y="245.21" width="16.58" height="16.58" fill="#ffc6c6"/><rect x="1793" y="245.21" width="16.58" height="16.58" fill="#ffbebe"/><rect x="1809.08" y="245.21" width="16.58" height="16.58" fill="#ffbebe"/><rect x="1825.16" y="245.21" width="16.58" height="16.58" fill="#ffc6c6"/><rect x="1841.24" y="245.21" width="16.58" height="16.58" fill="#ffcccc"/><rect x="1857.32" y="245.21" width="16.58" height="16.58" fill="#ffd8d8"/><rect x="1873.4" y="245.21" width="16.58" height="16.58" fill="#ffe6e6"/><rect x="1889.48" y="245.21" width="16.58" height="16.58" fill="#fff8f8"/><rect x="1905.56" y="245.21" width="16.58" height="16.58" fill="#f8f8ff"/><rect x="1921.64" y="245.21" width="16.58" height="16.58" fill="#e6e6ff"/><rect x="1551.8" y="261.29" width="16.58" height="16.58" fill="#ff4c4c"/><rect x="1567.88" y="261.29" width="16.58" height="16.58" fill="#ff9e9e"/><rect x="1583.96" y="261.29" width="16.58" height="16.58" fill="#ffb8b8"/><rect x="1600.04" y="261.29" width="16.58" height="16.58" fill="#ffc6c6"/><rect x="1616.12" y="261.29" width="16.58" height="16.58" fill="#ffcccc"/><rect x="1632.2" y="261.29" width="16.58" height="16.58" fill="#ffcccc"/><rect x="1648.28" y="261.29" width="16.58" height="16.58" fill="#ffcccc"/><rect x="1664.36" y="261.29" width="16.58" height="16.58" fill="#ffcccc"/><rect x="1680.44" y="261.29" width="16.58" height="16.58" fill="#ffcccc"/><rect x="1696.52" y="261.29" width="16.58" height="16.58" fill="#ffcccc"/><rect x="1712.6" y="261.29" width="16.58" height="16.58" fill="#ffcccc"/><rect x="1728.68" y="261.29" width="16.58" height="16.58" fill="#ffc6c6"/><rect x="1744.76" y="261.29" width="16.58" height="16.58" fill="#ffc6c6"/><rect x="1760.84" y="261.29" width="16.58" height="16.58" fill="#ffc6c6"/><rect x="1776.92" y="261.29" width="16.58" height="16.58" fill="#ffbebe"/><rect x="1793" y="261.29" width="16.58" height="16.58" fill="#ffbebe"/><rect x="1809.08" y="261.29" width="16.58" height="16.58" fill="#ffbebe"/><rect x="1825.16" y="261.29" width="16.58" height="16.58" fill="#ffc6c6"/><rect x="1841.24" y="261.29" width="16.58" height="16.58" fill="#ffcccc"/><rect x="1857.32" y="261.29" width="16.58" height="16.58" fill="#ffd2d2"/><rect x="1873.4" y="261.29" width="16.58" height="16.58" fill="#ffdede"/><rect x="1889.48" y="261.29" width="16.58" height="16.58" fill="#ffecec"/><rect x="1905.56" y="261.29" width="16.58" height="16.58" fill="#fff2f2"/><rect x="1921.64" y="261.29" width="16.58" height="16.58" fill="#fff8f8"/><rect x="1551.8" y="277.37" width="16.58" height="16.58" fill="#ff7272"/><rect x="1567.88" y="277.37" width="16.58" height="16.58" fill="#ffb2b2"/><rect x="1583.96" y="277.37" width="16.58" height="16.58" fill="#ffc6c6"/><rect x="1600.04" y="277.37" width="16.58" height="16.58" fill="#ffcccc"/><rect x="1616.12" y="277.37" width="16.58" height="16.58" fill="#ffcccc"/><rect x="1632.2" y="277.37" width="16.58" height="16.58" fill="#ffcccc"/><rect x="1648.28" y="277.37" width="16.58" height="16.58" fill="#ffcccc"/><rect x="1664.36" y="277.37" width="16.58" height="16.58" fill="#ffcccc"/><rect x="1680.44" y="277.37" width="16.58" height="16.58" fill="#ffcccc"/><rect x="1696.52" y="277.37" width="16.58" height="16.58" fill="#ffcccc"/><rect x="1712.6" y="277.37" width="16.58" height="16.58" fill="#ffc6c6"/><rect x="1728.68" y="277.37" width="16.58" height="16.58" fill="#ffc6c6"/><rect x="1744.76" y="277.37" width="16.58" height="16.58" fill="#ffc6c6"/><rect x="1760.84" y="277.37" width="16.58" height="16.58" fill="#ffc6c6"/><rect x="1776.92" y="277.37" width="16.58" height="16.58" fill="#ffbebe"/><rect x="1793" y="277.37" width="16.58" height="16.58" fill="#ffbebe"/><rect x="1809.08" y="277.37" width="16.58" height="16.58" fill="#ffbebe"/><rect x="1825.16" y="277.37" width="16.58" height="16.58" fill="#ffc6c6"/><rect x="1841.24" y="277.37" width="16.58" height="16.58" fill="#ffcccc"/><rect x="1857.32" y="277.37" width="16.58" height="16.58" fill="#ffd2d2"/><rect x="1873.4" y="277.37" width="16.58" height="16.58" fill="#ffd2d2"/><rect x="1889.48" y="277.37" width="16.58" height="16.58" fill="#ffd8d8"/><rect x="1905.56" y="277.37" width="16.58" height="16.58" fill="#ffdede"/><rect x="1921.64" y="277.37" width="16.58" height="16.58" fill="#ffdede"/><rect x="1937.72" y="277.37" width="16.58" height="16.58" fill="#ffc6c6"/><rect x="1551.8" y="293.45" width="16.58" height="16.58" fill="#ff9898"/><rect x="1567.88" y="293.45" width="16.58" height="16.58" fill="#ffbebe"/><rect x="1583.96" y="293.45" width="16.58" height="16.58" fill="#ffcccc"/><rect x="1600.04" y="293.45" width="16.58" height="16.58" fill="#ffcccc"/><rect x="1616.12" y="293.45" width="16.58" height="16.58" fill="#ffcccc"/><rect x="1632.2" y="293.45" width="16.58" height="16.58" fill="#ffcccc"/><rect x="1648.28" y="293.45" width="16.58" height="16.58" fill="#ffcccc"/><rect x="1664.36" y="293.45" width="16.58" height="16.58" fill="#ffcccc"/><rect x="1680.44" y="293.45" width="16.58" height="16.58" fill="#ffcccc"/><rect x="1696.52" y="293.45" width="16.58" height="16.58" fill="#ffc6c6"/><rect x="1712.6" y="293.45" width="16.58" height="16.58" fill="#ffc6c6"/><rect x="1728.68" y="293.45" width="16.58" height="16.58" fill="#ffc6c6"/><rect x="1744.76" y="293.45" width="16.58" height="16.58" fill="#ffc6c6"/><rect x="1760.84" y="293.45" width="16.58" height="16.58" fill="#ffc6c6"/><rect x="1776.92" y="293.45" width="16.58" height="16.58" fill="#ffbebe"/><rect x="1793" y="293.45" width="16.58" height="16.58" fill="#ffbebe"/><rect x="1809.08" y="293.45" width="16.58" height="16.58" fill="#ffbebe"/><rect x="1825.16" y="293.45" width="16.58" height="16.58" fill="#ffc6c6"/><rect x="1841.24" y="293.45" width="16.58" height="16.58" fill="#ffc6c6"/><rect x="1857.32" y="293.45" width="16.58" height="16.58" fill="#ffcccc"/><rect x="1873.4" y="293.45" width="16.58" height="16.58" fill="#ffd2d2"/><rect x="1889.48" y="293.45" width="16.58" height="16.58" fill="#ffd2d2"/><rect x="1905.56" y="293.45" width="16.58" height="16.58" fill="#ffd8d8"/><rect x="1921.64" y="293.45" width="16.58" height="16.58" fill="#ffd2d2"/><rect x="1937.72" y="293.45" width="16.58" height="16.58" fill="#ffb2b2"/><rect x="1551.8" y="309.53" width="16.58" height="16.58" fill="#ffb2b2"/><rect x="1567.88" y="309.53" width="16.58" height="16.58" fill="#ffc6c6"/><rect x="1583.96" y="309.53" width="16.58" height="16.58" fill="#ffcccc"/><rect x="1600.04" y="309.53" width="16.58" height="16.58" fill="#ffcccc"/><rect x="1616.12" y="309.53" width="16.58" height="16.58" fill="#ffcccc"/><rect x="1632.2" y="309.53" width="16.58" height="16.58" fill="#ffcccc"/><rect x="1648.28" y="309.53" width="16.58" height="16.58" fill="#ffcccc"/><rect x="1664.36" y="309.53" width="16.58" height="16.58" fill="#ffcccc"/><rect x="1680.44" y="309.53" width="16.58" height="16.58" fill="#ffc6c6"/><rect x="1696.52" y="309.53" width="16.58" height="16.58" fill="#ffc6c6"/><rect x="1712.6" y="309.53" width="16.58" height="16.58" fill="#ffc6c6"/><rect x="1728.68" y="309.53" width="16.58" height="16.58" fill="#ffc6c6"/><rect x="1744.76" y="309.53" width="16.58" height="16.58" fill="#ffc6c6"/><rect x="1760.84" y="309.53" width="16.58" height="16.58" fill="#ffbebe"/><rect x="1776.92" y="309.53" width="16.58" height="16.58" fill="#ffbebe"/><rect x="1793" y="309.53" width="16.58" height="16.58" fill="#ffbebe"/><rect x="1809.08" y="309.53" width="16.58" height="16.58" fill="#ffbebe"/><rect x="1825.16" y="309.53" width="16.58" height="16.58" fill="#ffc6c6"/><rect x="1841.24" y="309.53" width="16.58" height="16.58" fill="#ffc6c6"/><rect x="1857.32" y="309.53" width="16.58" height="16.58" fill="#ffcccc"/><rect x="1873.4" y="309.53" width="16.58" height="16.58" fill="#ffd2d2"/><rect x="1889.48" y="309.53" width="16.58" height="16.58" fill="#ffd2d2"/><rect x="1905.56" y="309.53" width="16.58" height="16.58" fill="#ffd2d2"/><rect x="1921.64" y="309.53" width="16.58" height="16.58" fill="#ffd2d2"/><rect x="1937.72" y="309.53" width="16.58" height="16.58" fill="#ffa6a6"/><rect x="1551.8" y="325.61" width="16.58" height="16.58" fill="#ffbebe"/><rect x="1567.88" y="325.61" width="16.58" height="16.58" fill="#ffcccc"/><rect x="1583.96" y="325.61" width="16.58" height="16.58" fill="#ffcccc"/><rect x="1600.04" y="325.61" width="16.58" height="16.58" fill="#ffcccc"/><rect x="1616.12" y="325.61" width="16.58" height="16.58" fill="#ffcccc"/><rect x="1632.2" y="325.61" width="16.58" height="16.58" fill="#ffcccc"/><rect x="1648.28" y="325.61" width="16.58" height="16.58" fill="#ffcccc"/><rect x="1664.36" y="325.61" width="16.58" height="16.58" fill="#ffc6c6"/><rect x="1680.44" y="325.61" width="16.58" height="16.58" fill="#ffc6c6"/><rect x="1696.52" y="325.61" width="16.58" height="16.58" fill="#ffc6c6"/><rect x="1712.6" y="325.61" width="16.58" height="16.58" fill="#ffc6c6"/><rect x="1728.68" y="325.61" width="16.58" height="16.58" fill="#ffc6c6"/><rect x="1744.76" y="325.61" width="16.58" height="16.58" fill="#ffbebe"/><rect x="1760.84" y="325.61" width="16.58" height="16.58" fill="#ffbebe"/><rect x="1776.92" y="325.61" width="16.58" height="16.58" fill="#ffbebe"/><rect x="1793" y="325.61" width="16.58" height="16.58" fill="#ffbebe"/><rect x="1809.08" y="325.61" width="16.58" height="16.58" fill="#ffbebe"/><rect x="1825.16" y="325.61" width="16.58" height="16.58" fill="#ffc6c6"/><rect x="1841.24" y="325.61" width="16.58" height="16.58" fill="#ffc6c6"/><rect x="1857.32" y="325.61" width="16.58" height="16.58" fill="#ffcccc"/><rect x="1873.4" y="325.61" width="16.58" height="16.58" fill="#ffd2d2"/><rect x="1889.48" y="325.61" width="16.58" height="16.58" fill="#ffd8d8"/><rect x="1905.56" y="325.61" width="16.58" height="16.58" fill="#ffd8d8"/><rect x="1921.64" y="325.61" width="16.58" height="16.58" fill="#ffd8d8"/><rect x="1937.72" y="325.61" width="16.58" height="16.58" fill="#ffa6a6"/><rect x="1551.8" y="341.69" width="16.58" height="16.58" fill="#ffbebe"/><rect x="1567.88" y="341.69" width="16.58" height="16.58" fill="#ffcccc"/><rect x="1583.96" y="341.69" width="16.58" height="16.58" fill="#ffcccc"/><rect x="1600.04" y="341.69" width="16.58" height="16.58" fill="#ffcccc"/><rect x="1616.12" y="341.69" width="16.58" height="16.58" fill="#ffcccc"/><rect x="1632.2" y="341.69" width="16.58" height="16.58" fill="#ffcccc"/><rect x="1648.28" y="341.69" width="16.58" height="16.58" fill="#ffc6c6"/><rect x="1664.36" y="341.69" width="16.58" height="16.58" fill="#ffc6c6"/><rect x="1680.44" y="341.69" width="16.58" height="16.58" fill="#ffc6c6"/><rect x="1696.52" y="341.69" width="16.58" height="16.58" fill="#ffc6c6"/><rect x="1712.6" y="341.69" width="16.58" height="16.58" fill="#ffc6c6"/><rect x="1728.68" y="341.69" width="16.58" height="16.58" fill="#ffbebe"/><rect x="1744.76" y="341.69" width="16.58" height="16.58" fill="#ffbebe"/><rect x="1760.84" y="341.69" width="16.58" height="16.58" fill="#ffbebe"/><rect x="1776.92" y="341.69" width="16.58" height="16.58" fill="#ffbebe"/><rect x="1793" y="341.69" width="16.58" height="16.58" fill="#ffbebe"/><rect x="1809.08" y="341.69" width="16.58" height="16.58" fill="#ffbebe"/><rect x="1825.16" y="341.69" width="16.58" height="16.58" fill="#ffc6c6"/><rect x="1841.24" y="341.69" width="16.58" height="16.58" fill="#ffc6c6"/><rect x="1857.32" y="341.69" width="16.58" height="16.58" fill="#ffcccc"/><rect x="1873.4" y="341.69" width="16.58" height="16.58" fill="#ffd2d2"/><rect x="1889.48" y="341.69" width="16.58" height="16.58" fill="#ffd8d8"/><rect x="1905.56" y="341.69" width="16.58" height="16.58" fill="#ffdede"/><rect x="1921.64" y="341.69" width="16.58" height="16.58" fill="#ffdede"/><rect x="1937.72" y="341.69" width="16.58" height="16.58" fill="#ffb2b2"/><rect x="1551.8" y="357.77" width="16.58" height="16.58" fill="#ffacac"/><rect x="1567.88" y="357.77" width="16.58" height="16.58" fill="#ffbebe"/><rect x="1583.96" y="357.77" width="16.58" height="16.58" fill="#ffc6c6"/><rect x="1600.04" y="357.77" width="16.58" height="16.58" fill="#ffc6c6"/><rect x="1616.12" y="357.77" width="16.58" height="16.58" fill="#ffc6c6"/><rect x="1632.2" y="357.77" width="16.58" height="16.58" fill="#ffc6c6"/><rect x="1648.28" y="357.77" width="16.58" height="16.58" fill="#ffc6c6"/><rect x="1664.36" y="357.77" width="16.58" height="16.58" fill="#ffc6c6"/><rect x="1680.44" y="357.77" width="16.58" height="16.58" fill="#ffc6c6"/><rect x="1696.52" y="357.77" width="16.58" height="16.58" fill="#ffc6c6"/><rect x="1712.6" y="357.77" width="16.58" height="16.58" fill="#ffbebe"/><rect x="1728.68" y="357.77" width="16.58" height="16.58" fill="#ffbebe"/><rect x="1744.76" y="357.77" width="16.58" height="16.58" fill="#ffbebe"/><rect x="1760.84" y="357.77" width="16.58" height="16.58" fill="#ffbebe"/><rect x="1776.92" y="357.77" width="16.58" height="16.58" fill="#ffbebe"/><rect x="1793" y="357.77" width="16.58" height="16.58" fill="#ffbebe"/><rect x="1809.08" y="357.77" width="16.58" height="16.58" fill="#ffbebe"/><rect x="1825.16" y="357.77" width="16.58" height="16.58" fill="#ffbebe"/><rect x="1841.24" y="357.77" width="16.58" height="16.58" fill="#ffc6c6"/><rect x="1857.32" y="357.77" width="16.58" height="16.58" fill="#ffcccc"/><rect x="1873.4" y="357.77" width="16.58" height="16.58" fill="#ffd2d2"/><rect x="1889.48" y="357.77" width="16.58" height="16.58" fill="#ffdede"/><rect x="1905.56" y="357.77" width="16.58" height="16.58" fill="#ffe6e6"/><rect x="1921.64" y="357.77" width="16.58" height="16.58" fill="#ffe6e6"/><rect x="1937.72" y="357.77" width="16.58" height="16.58" fill="#ffc6c6"/><rect x="1551.8" y="373.85" width="16.58" height="16.58" fill="#ff9292"/><rect x="1567.88" y="373.85" width="16.58" height="16.58" fill="#ffacac"/><rect x="1583.96" y="373.85" width="16.58" height="16.58" fill="#ffb8b8"/><rect x="1600.04" y="373.85" width="16.58" height="16.58" fill="#ffbebe"/><rect x="1616.12" y="373.85" width="16.58" height="16.58" fill="#ffbebe"/><rect x="1632.2" y="373.85" width="16.58" height="16.58" fill="#ffbebe"/><rect x="1648.28" y="373.85" width="16.58" height="16.58" fill="#ffbebe"/><rect x="1664.36" y="373.85" width="16.58" height="16.58" fill="#ffbebe"/><rect x="1680.44" y="373.85" width="16.58" height="16.58" fill="#ffbebe"/><rect x="1696.52" y="373.85" width="16.58" height="16.58" fill="#ffbebe"/><rect x="1712.6" y="373.85" width="16.58" height="16.58" fill="#ffbebe"/><rect x="1728.68" y="373.85" width="16.58" height="16.58" fill="#ffbebe"/><rect x="1744.76" y="373.85" width="16.58" height="16.58" fill="#ffbebe"/><rect x="1760.84" y="373.85" width="16.58" height="16.58" fill="#ffbebe"/><rect x="1776.92" y="373.85" width="16.58" height="16.58" fill="#ffbebe"/><rect x="1793" y="373.85" width="16.58" height="16.58" fill="#ffbebe"/><rect x="1809.08" y="373.85" width="16.58" height="16.58" fill="#ffbebe"/><rect x="1825.16" y="373.85" width="16.58" height="16.58" fill="#ffbebe"/><rect x="1841.24" y="373.85" width="16.58" height="16.58" fill="#ffbebe"/><rect x="1857.32" y="373.85" width="16.58" height="16.58" fill="#ffc6c6"/><rect x="1873.4" y="373.85" width="16.58" height="16.58" fill="#ffd2d2"/><rect x="1889.48" y="373.85" width="16.58" height="16.58" fill="#ffe6e6"/><rect x="1905.56" y="373.85" width="16.58" height="16.58" fill="#fff2f2"/><rect x="1921.64" y="373.85" width="16.58" height="16.58" fill="#fff2f2"/><rect x="1567.88" y="389.93" width="16.58" height="16.58" fill="#ff9292"/><rect x="1583.96" y="389.93" width="16.58" height="16.58" fill="#ffacac"/><rect x="1600.04" y="389.93" width="16.58" height="16.58" fill="#ffb8b8"/><rect x="1616.12" y="389.93" width="16.58" height="16.58" fill="#ffbebe"/><rect x="1632.2" y="389.93" width="16.58" height="16.58" fill="#ffbebe"/><rect x="1648.28" y="389.93" width="16.58" height="16.58" fill="#ffbebe"/><rect x="1664.36" y="389.93" width="16.58" height="16.58" fill="#ffbebe"/><rect x="1680.44" y="389.93" width="16.58" height="16.58" fill="#ffbebe"/><rect x="1696.52" y="389.93" width="16.58" height="16.58" fill="#ffbebe"/><rect x="1712.6" y="389.93" width="16.58" height="16.58" fill="#ffbebe"/><rect x="1728.68" y="389.93" width="16.58" height="16.58" fill="#ffbebe"/><rect x="1744.76" y="389.93" width="16.58" height="16.58" fill="#ffbebe"/><rect x="1760.84" y="389.93" width="16.58" height="16.58" fill="#ffbebe"/><rect x="1776.92" y="389.93" width="16.58" height="16.58" fill="#ffbebe"/><rect x="1793" y="389.93" width="16.58" height="16.58" fill="#ffbebe"/><rect x="1809.08" y="389.93" width="16.58" height="16.58" fill="#ffbebe"/><rect x="1825.16" y="389.93" width="16.58" height="16.58" fill="#ffbebe"/><rect x="1841.24" y="389.93" width="16.58" height="16.58" fill="#ffbebe"/><rect x="1857.32" y="389.93" width="16.58" height="16.58" fill="#ffc6c6"/><rect x="1873.4" y="389.93" width="16.58" height="16.58" fill="#ffdede"/><rect x="1889.48" y="389.93" width="16.58" height="16.58" fill="#ffecec"/><rect x="1905.56" y="389.93" width="16.58" height="16.58" fill="#fff8f8"/><rect x="1567.88" y="406.01" width="16.58" height="16.58" fill="#ff7272"/><rect x="1583.96" y="406.01" width="16.58" height="16.58" fill="#ff9898"/><rect x="1600.04" y="406.01" width="16.58" height="16.58" fill="#ffb2b2"/><rect x="1616.12" y="406.01" width="16.58" height="16.58" fill="#ffb8b8"/><rect x="1632.2" y="406.01" width="16.58" height="16.58" fill="#ffbebe"/><rect x="1648.28" y="406.01" width="16.58" height="16.58" fill="#ffbebe"/><rect x="1664.36" y="406.01" width="16.58" height="16.58" fill="#ffbebe"/><rect x="1680.44" y="406.01" width="16.58" height="16.58" fill="#ffbebe"/><rect x="1696.52" y="406.01" width="16.58" height="16.58" fill="#ffbebe"/><rect x="1712.6" y="406.01" width="16.58" height="16.58" fill="#ffbebe"/><rect x="1728.68" y="406.01" width="16.58" height="16.58" fill="#ffbebe"/><rect x="1744.76" y="406.01" width="16.58" height="16.58" fill="#ffbebe"/><rect x="1760.84" y="406.01" width="16.58" height="16.58" fill="#ffbebe"/><rect x="1776.92" y="406.01" width="16.58" height="16.58" fill="#ffbebe"/><rect x="1793" y="406.01" width="16.58" height="16.58" fill="#ffbebe"/><rect x="1809.08" y="406.01" width="16.58" height="16.58" fill="#ffbebe"/><rect x="1825.16" y="406.01" width="16.58" height="16.58" fill="#ffbebe"/><rect x="1841.24" y="406.01" width="16.58" height="16.58" fill="#ffbebe"/><rect x="1857.32" y="406.01" width="16.58" height="16.58" fill="#ffc6c6"/><rect x="1873.4" y="406.01" width="16.58" height="16.58" fill="#ffe6e6"/><rect x="1889.48" y="406.01" width="16.58" height="16.58" fill="#fff8f8"/><rect x="1905.56" y="406.01" width="16.58" height="16.58" fill="#f8f8ff"/><rect x="1921.64" y="406.01" width="16.58" height="16.58" fill="#ececff"/><rect x="1583.96" y="422.09" width="16.58" height="16.58" fill="#ff8686"/><rect x="1600.04" y="422.09" width="16.58" height="16.58" fill="#ffacac"/><rect x="1616.12" y="422.09" width="16.58" height="16.58" fill="#ffb8b8"/><rect x="1632.2" y="422.09" width="16.58" height="16.58" fill="#ffbebe"/><rect x="1648.28" y="422.09" width="16.58" height="16.58" fill="#ffbebe"/><rect x="1664.36" y="422.09" width="16.58" height="16.58" fill="#ffbebe"/><rect x="1680.44" y="422.09" width="16.58" height="16.58" fill="#ffc6c6"/><rect x="1696.52" y="422.09" width="16.58" height="16.58" fill="#ffc6c6"/><rect x="1712.6" y="422.09" width="16.58" height="16.58" fill="#ffc6c6"/><rect x="1728.68" y="422.09" width="16.58" height="16.58" fill="#ffc6c6"/><rect x="1744.76" y="422.09" width="16.58" height="16.58" fill="#ffc6c6"/><rect x="1760.84" y="422.09" width="16.58" height="16.58" fill="#ffc6c6"/><rect x="1776.92" y="422.09" width="16.58" height="16.58" fill="#ffc6c6"/><rect x="1793" y="422.09" width="16.58" height="16.58" fill="#ffc6c6"/><rect x="1809.08" y="422.09" width="16.58" height="16.58" fill="#ffbebe"/><rect x="1825.16" y="422.09" width="16.58" height="16.58" fill="#ffbebe"/><rect x="1841.24" y="422.09" width="16.58" height="16.58" fill="#ffbebe"/><rect x="1857.32" y="422.09" width="16.58" height="16.58" fill="#ffc6c6"/><rect x="1873.4" y="422.09" width="16.58" height="16.58" fill="#ffe6e6"/><rect x="1889.48" y="422.09" width="16.58" height="16.58" fill="#fff8f8"/><rect x="1905.56" y="422.09" width="16.58" height="16.58" fill="#f6f6ff"/><rect x="1583.96" y="438.17" width="16.58" height="16.58" fill="#ff7272"/><rect x="1600.04" y="438.17" width="16.58" height="16.58" fill="#ffa6a6"/><rect x="1616.12" y="438.17" width="16.58" height="16.58" fill="#ffbebe"/><rect x="1632.2" y="438.17" width="16.58" height="16.58" fill="#ffcccc"/><rect x="1648.28" y="438.17" width="16.58" height="16.58" fill="#ffcccc"/><rect x="1664.36" y="438.17" width="16.58" height="16.58" fill="#ffcccc"/><rect x="1680.44" y="438.17" width="16.58" height="16.58" fill="#ffcccc"/><rect x="1696.52" y="438.17" width="16.58" height="16.58" fill="#ffcccc"/><rect x="1712.6" y="438.17" width="16.58" height="16.58" fill="#ffcccc"/><rect x="1728.68" y="438.17" width="16.58" height="16.58" fill="#ffcccc"/><rect x="1744.76" y="438.17" width="16.58" height="16.58" fill="#ffcccc"/><rect x="1760.84" y="438.17" width="16.58" height="16.58" fill="#ffcccc"/><rect x="1776.92" y="438.17" width="16.58" height="16.58" fill="#ffcccc"/><rect x="1793" y="438.17" width="16.58" height="16.58" fill="#ffcccc"/><rect x="1809.08" y="438.17" width="16.58" height="16.58" fill="#ffc6c6"/><rect x="1825.16" y="438.17" width="16.58" height="16.58" fill="#ffbebe"/><rect x="1841.24" y="438.17" width="16.58" height="16.58" fill="#ffbebe"/><rect x="1857.32" y="438.17" width="16.58" height="16.58" fill="#ffcccc"/><rect x="1873.4" y="438.17" width="16.58" height="16.58" fill="#ffd8d8"/><rect x="1889.48" y="438.17" width="16.58" height="16.58" fill="#ffecec"/><rect x="1600.04" y="454.25" width="16.58" height="16.58" fill="#ffacac"/><rect x="1616.12" y="454.25" width="16.58" height="16.58" fill="#ffd8d8"/><rect x="1632.2" y="454.25" width="16.58" height="16.58" fill="#ffe6e6"/><rect x="1648.28" y="454.25" width="16.58" height="16.58" fill="#ffe8e8"/><rect x="1664.36" y="454.25" width="16.58" height="16.58" fill="#ffe2e2"/><rect x="1680.44" y="454.25" width="16.58" height="16.58" fill="#ffdede"/><rect x="1696.52" y="454.25" width="16.58" height="16.58" fill="#ffdcdc"/><rect x="1712.6" y="454.25" width="16.58" height="16.58" fill="#ffdcdc"/><rect x="1728.68" y="454.25" width="16.58" height="16.58" fill="#ffdcdc"/><rect x="1744.76" y="454.25" width="16.58" height="16.58" fill="#ffdcdc"/><rect x="1760.84" y="454.25" width="16.58" height="16.58" fill="#ffdcdc"/><rect x="1776.92" y="454.25" width="16.58" height="16.58" fill="#ffdcdc"/><rect x="1793" y="454.25" width="16.58" height="16.58" fill="#ffd8d8"/><rect x="1809.08" y="454.25" width="16.58" height="16.58" fill="#ffcccc"/><rect x="1825.16" y="454.25" width="16.58" height="16.58" fill="#ffbebe"/><rect x="1841.24" y="454.25" width="16.58" height="16.58" fill="#ffb2b2"/><rect x="1857.32" y="454.25" width="16.58" height="16.58" fill="#ffb8b8"/><rect x="1873.4" y="454.25" width="16.58" height="16.58" fill="#ffb8b8"/><rect x="1889.48" y="454.25" width="16.58" height="16.58" fill="#ffd2d2"/><rect x="1616.12" y="470.33" width="16.58" height="16.58" fill="#fff8f8"/><rect x="1632.2" y="470.33" width="16.58" height="16.58" fill="#ececff"/><rect x="1648.28" y="470.33" width="16.58" height="16.58" fill="#ececff"/><rect x="1664.36" y="470.33" width="16.58" height="16.58" fill="#f6f6ff"/><rect x="1680.44" y="470.33" width="16.58" height="16.58" fill="#fffcfc"/><rect x="1696.52" y="470.33" width="16.58" height="16.58" fill="#fff2f2"/><rect x="1712.6" y="470.33" width="16.58" height="16.58" fill="#ffecec"/><rect x="1728.68" y="470.33" width="16.58" height="16.58" fill="#ffecec"/><rect x="1744.76" y="470.33" width="16.58" height="16.58" fill="#ffecec"/><rect x="1760.84" y="470.33" width="16.58" height="16.58" fill="#ffecec"/><rect x="1776.92" y="470.33" width="16.58" height="16.58" fill="#ffe8e8"/><rect x="1793" y="470.33" width="16.58" height="16.58" fill="#ffdede"/><rect x="1809.08" y="470.33" width="16.58" height="16.58" fill="#ffd2d2"/><rect x="1825.16" y="470.33" width="16.58" height="16.58" fill="#ffc6c6"/><rect x="1841.24" y="470.33" width="16.58" height="16.58" fill="#ffb2b2"/><rect x="1857.32" y="470.33" width="16.58" height="16.58" fill="#ffa6a6"/><rect x="1873.4" y="470.33" width="16.58" height="16.58" fill="#ffa6a6"/><rect x="1648.28" y="486.41" width="16.58" height="16.58" fill="#a0a0ff"/><rect x="1664.36" y="486.41" width="16.58" height="16.58" fill="#b8b8ff"/><rect x="1680.44" y="486.41" width="16.58" height="16.58" fill="#ccccff"/><rect x="1696.52" y="486.41" width="16.58" height="16.58" fill="#e0e0ff"/><rect x="1712.6" y="486.41" width="16.58" height="16.58" fill="#e8e8ff"/><rect x="1728.68" y="486.41" width="16.58" height="16.58" fill="#ececff"/><rect x="1744.76" y="486.41" width="16.58" height="16.58" fill="#ececff"/><rect x="1760.84" y="486.41" width="16.58" height="16.58" fill="#f0f0ff"/><rect x="1776.92" y="486.41" width="16.58" height="16.58" fill="#f6f6ff"/><rect x="1793" y="486.41" width="16.58" height="16.58" fill="#fffcfc"/><rect x="1809.08" y="486.41" width="16.58" height="16.58" fill="#ffe6e6"/><rect x="1825.16" y="486.41" width="16.58" height="16.58" fill="#ffc6c6"/><rect x="1841.24" y="486.41" width="16.58" height="16.58" fill="#ff9e9e"/><rect x="1664.36" y="502.49" width="16.58" height="16.58" fill="#4646ff"/><rect x="1680.44" y="502.49" width="16.58" height="16.58" fill="#7272ff"/><rect x="1696.52" y="502.49" width="16.58" height="16.58" fill="#9292ff"/><rect x="1712.6" y="502.49" width="16.58" height="16.58" fill="#acacff"/><rect x="1728.68" y="502.49" width="16.58" height="16.58" fill="#c0c0ff"/><rect x="1744.76" y="502.49" width="16.58" height="16.58" fill="#c8c8ff"/><rect x="1760.84" y="502.49" width="16.58" height="16.58" fill="#ccccff"/><rect x="1776.92" y="502.49" width="16.58" height="16.58" fill="#d2d2ff"/><rect x="1793" y="502.49" width="16.58" height="16.58" fill="#e6e6ff"/><rect x="1809.08" y="502.49" width="16.58" height="16.58" fill="#fff2f2"/><rect x="1728.68" y="518.57" width="16.58" height="16.58" fill="#8080ff"/><rect x="1744.76" y="518.57" width="16.58" height="16.58" fill="#8686ff"/></g>
<g clip-path="url(#an2)"><g filter="url(#f2)">
<rect x="1518" y="738.5" width="464" height="464" fill="url(#e2)"/>
<ellipse cx="1688.8" cy="761" rx="14.85" ry="10.8" fill="url(#vb0)" transform="rotate(-20 1688.8 761)"/>
<ellipse cx="1824.3" cy="768" rx="14.85" ry="10.8" fill="url(#vb0)" transform="rotate(25 1824.3 768)"/>
<ellipse cx="1614.9" cy="794" rx="21.6" ry="17.55" fill="url(#vb0)" transform="rotate(-40 1614.9 794)"/>
<ellipse cx="1640" cy="806" rx="20.3" ry="31.9" fill="url(#vb1)" transform="rotate(25 1640 806)"/>
<ellipse cx="1633" cy="822" rx="9.45" ry="10.8" fill="url(#vb0)"/>
<ellipse cx="1612" cy="850" rx="17.4" ry="37.7" fill="url(#vb1)" transform="rotate(28 1612 850)"/>
<ellipse cx="1590" cy="884" rx="13.05" ry="23.2" fill="url(#vb1)" transform="rotate(25 1590 884)"/>
<ellipse cx="1653" cy="783" rx="11.6" ry="20.3" fill="url(#vb1)" transform="rotate(20 1653 783)"/>
<ellipse cx="1556.1" cy="862.3" rx="9.45" ry="12.15" fill="url(#vb0)" transform="rotate(20 1556.1 862.3)"/>
<ellipse cx="1666.9" cy="881.5" rx="17.55" ry="13.5" fill="url(#vb0)" transform="rotate(-30 1666.9 881.5)"/>
<ellipse cx="1716.2" cy="851.4" rx="21.75" ry="10.15" fill="url(#vb1)" transform="rotate(-20 1716.2 851.4)"/>
<ellipse cx="1642.3" cy="908.8" rx="8.1" ry="10.8" fill="url(#vb0)" transform="rotate(15 1642.3 908.8)"/>
<ellipse cx="1631.4" cy="941.7" rx="8.7" ry="15.95" fill="url(#vb1)" transform="rotate(15 1631.4 941.7)"/>
<ellipse cx="1636" cy="969" rx="6.75" ry="10.8" fill="url(#vb0)"/>
<ellipse cx="1809.2" cy="869.2" rx="10.8" ry="6.75" fill="url(#vb0)" transform="rotate(30 1809.2 869.2)"/>
<ellipse cx="1940.6" cy="958.1" rx="16.2" ry="20.25" fill="url(#vb0)" transform="rotate(-10 1940.6 958.1)"/>
<ellipse cx="1935" cy="934" rx="14.5" ry="18.85" fill="url(#vb1)"/>
<ellipse cx="1962" cy="984" rx="20.3" ry="13.05" fill="url(#vb1)" transform="rotate(20 1962 984)"/>
<ellipse cx="1864" cy="1014.2" rx="6.75" ry="9.45" fill="url(#vb0)" transform="rotate(15 1864 1014.2)"/>
<ellipse cx="1969" cy="1015.6" rx="8.1" ry="13.5" fill="url(#vb0)"/>
<ellipse cx="1960" cy="1040.2" rx="8.1" ry="9.45" fill="url(#vb0)"/>
<ellipse cx="1945" cy="1073" rx="10.8" ry="8.1" fill="url(#vb0)" transform="rotate(-30 1945 1073)"/>
<ellipse cx="1740.8" cy="1084" rx="10.8" ry="8.1" fill="url(#vb0)"/>
<ellipse cx="1680.6" cy="1066.2" rx="8.7" ry="11.6" fill="url(#vb1)"/>
<ellipse cx="1661.5" cy="1049.8" rx="8.7" ry="10.15" fill="url(#vb1)"/>
<ellipse cx="1602.6" cy="1137.4" rx="12.15" ry="9.45" fill="url(#vb0)" transform="rotate(40 1602.6 1137.4)"/>
<ellipse cx="1649.2" cy="1163.4" rx="8.1" ry="6.75" fill="url(#vb0)"/>
<ellipse cx="1701.2" cy="1171.6" rx="8.7" ry="10.15" fill="url(#vb1)"/>
<ellipse cx="1575.3" cy="1093.6" rx="7.25" ry="11.6" fill="url(#vb1)" transform="rotate(20 1575.3 1093.6)"/>
<ellipse cx="1888.6" cy="1097.7" rx="7.25" ry="8.7" fill="url(#vb1)"/>
<ellipse cx="1861.3" cy="1160.6" rx="8.7" ry="10.15" fill="url(#vb1)"/>
<ellipse cx="1538.3" cy="980" rx="7.25" ry="10.15" fill="url(#vb1)"/>
<ellipse cx="1866.7" cy="830.8" rx="7.25" ry="8.7" fill="url(#vb1)"/>
<ellipse cx="1905" cy="804.8" rx="9.45" ry="6.75" fill="url(#vb0)" transform="rotate(40 1905 804.8)"/>
<ellipse cx="1527.4" cy="925.3" rx="5.4" ry="10.8" fill="url(#vb0)"/>
<ellipse cx="1925.6" cy="999.2" rx="7.25" ry="7.25" fill="url(#vb1)"/>
<ellipse cx="1778" cy="1193" rx="5.4" ry="8.1" fill="url(#vb0)"/>
<ellipse cx="1722" cy="748" rx="5.8" ry="13.05" fill="url(#vb1)"/>
</g></g>
<g clip-path="url(#an3)"><g filter="url(#f3)"><g transform="translate(0 1613.5) scale(1 0.9885) translate(0 -1613.5)">
<rect x="1492.3" y="1355.5" width="516" height="516" fill="url(#e3)"/>
<ellipse cx="1803.36" cy="1415.49" rx="50" ry="30" fill="url(#sg0)" transform="rotate(15 1803.36 1415.49)"/>
<ellipse cx="1703.13" cy="1424.29" rx="55" ry="26" fill="url(#sg0)" transform="rotate(-14 1703.13 1424.29)"/>
<ellipse cx="1887.47" cy="1461.16" rx="45" ry="34" fill="url(#sg0)" transform="rotate(42 1887.47 1461.16)"/>
<ellipse cx="1946.86" cy="1534.08" rx="40" ry="30" fill="url(#sg0)" transform="rotate(68 1946.86 1534.08)"/>
<ellipse cx="1547.3" cy="1642.03" rx="70" ry="34" fill="url(#sg0)" transform="rotate(-98 1547.3 1642.03)"/>
<ellipse cx="1573.71" cy="1707.39" rx="50" ry="32" fill="url(#sg0)" transform="rotate(-118 1573.71 1707.39)"/>
<ellipse cx="1624.09" cy="1775.04" rx="46" ry="32" fill="url(#sg0)" transform="rotate(-142 1624.09 1775.04)"/>
<ellipse cx="1680.19" cy="1806.14" rx="44" ry="28" fill="url(#sg0)" transform="rotate(-160 1680.19 1806.14)"/>
<ellipse cx="1743.04" cy="1821.37" rx="50" ry="28" fill="url(#sg0)" transform="rotate(-178 1743.04 1821.37)"/>
<ellipse cx="1806.53" cy="1809.6" rx="46" ry="28" fill="url(#sg0)" transform="rotate(164 1806.53 1809.6)"/>
<ellipse cx="1878.86" cy="1766.71" rx="50" ry="34" fill="url(#sg0)" transform="rotate(140 1878.86 1766.71)"/>
<ellipse cx="1935.74" cy="1688.42" rx="52" ry="32" fill="url(#sg0)" transform="rotate(112 1935.74 1688.42)"/>
<ellipse cx="1604.52" cy="1499.6" rx="36" ry="30" fill="url(#sg0)" transform="rotate(-52 1604.52 1499.6)"/>
<ellipse cx="1635.09" cy="1454.93" rx="34" ry="26" fill="url(#sg0)" transform="rotate(-36 1635.09 1454.93)"/>
<ellipse cx="1602.41" cy="1480.34" rx="78" ry="62" fill="url(#sg1)" transform="rotate(-48 1602.41 1480.34)"/>
<ellipse cx="1573.43" cy="1454.25" rx="90" ry="30" fill="url(#sg2)" transform="rotate(-48 1573.43 1454.25)"/>
<ellipse cx="1636.22" cy="1398.94" rx="44" ry="18" fill="url(#sg3)" transform="rotate(-28 1636.22 1398.94)"/>
<ellipse cx="1524.99" cy="1522.47" rx="44" ry="18" fill="url(#sg3)" transform="rotate(-68 1524.99 1522.47)"/>
<ellipse cx="1947.3" cy="1613.5" rx="40" ry="38" fill="url(#sg4)"/>
<ellipse cx="1978.3" cy="1613.5" rx="34" ry="22" fill="url(#sg5)" transform="rotate(90 1978.3 1613.5)"/>
<ellipse cx="1814.49" cy="1853.05" rx="52" ry="21" fill="url(#sg6)" transform="rotate(165 1814.49 1853.05)"/>
<ellipse cx="1750.3" cy="1861.5" rx="52" ry="21" fill="url(#sg6)" transform="rotate(180 1750.3 1861.5)"/>
<ellipse cx="1686.11" cy="1853.05" rx="52" ry="21" fill="url(#sg6)" transform="rotate(195 1686.11 1853.05)"/>
<ellipse cx="1626.3" cy="1828.27" rx="52" ry="21" fill="url(#sg6)" transform="rotate(210 1626.3 1828.27)"/>
<ellipse cx="1574.94" cy="1788.86" rx="52" ry="21" fill="url(#sg6)" transform="rotate(225 1574.94 1788.86)"/>
<ellipse cx="1535.53" cy="1737.5" rx="52" ry="21" fill="url(#sg6)" transform="rotate(240 1535.53 1737.5)"/>
<ellipse cx="1510.75" cy="1677.69" rx="52" ry="21" fill="url(#sg6)" transform="rotate(255 1510.75 1677.69)"/>
<path d="M1646.38 1553.5A120 120 0 0 1 1760.76 1493.96" fill="none" stroke="#870800" stroke-width="18" stroke-linecap="round"/>
<path d="M1658.37 1536.37A120 120 0 0 1 1746.11 1493.57" fill="none" stroke="#8e0800" stroke-width="8" stroke-linecap="round"/>
<ellipse cx="1802" cy="1514.5" rx="12" ry="9" fill="#8a0800" transform="rotate(30 1802 1514.5)"/>
<ellipse cx="1831.5" cy="1558.5" rx="7" ry="6" fill="#890800"/>
<path d="M1661.3 1613.5A89 89 0 0 1 1722.8 1528.86" fill="none" stroke="#210800" stroke-width="15" stroke-linecap="round"/>
<path d="M1761.15 1525.16A89 89 0 0 1 1780.74 1529.87" fill="none" stroke="#210800" stroke-width="14" stroke-linecap="round"/>
<path d="M1835.98 1598.39A87 87 0 0 1 1793.8 1688.84" fill="none" stroke="#210800" stroke-width="11" stroke-linecap="round"/>
<path d="M1813.94 1677.14A90 90 0 0 1 1712.26 1695.07" fill="none" stroke="#210800" stroke-width="18" stroke-linecap="round"/>
<path d="M1720.54 1695.25A87 87 0 0 1 1692.09 1678.15" fill="none" stroke="#210800" stroke-width="10" stroke-linecap="round"/>
<path d="M1676.52 1659.6A87 87 0 0 1 1664.15 1625.61" fill="none" stroke="#460800" stroke-width="11" stroke-linecap="round"/>
</g></g></g>
<circle cx="202.9" cy="526.9" r="87.3" fill="none" stroke="#fff" stroke-width="4.4"/>
<circle cx="134.55" cy="1238.75" r="7.9" fill="none" stroke="#fff" stroke-width="5.2"/>
<circle cx="147.5" cy="1868.6" r="18.7" fill="none" stroke="#fff" stroke-width="4.5"/>
<g font-size="27.3" fill="#000">
<path d="M137.83 618.55v-5.4M111.25 60.33h5.4M226.44 618.55v-5.4M111.25 148.94h5.4M315.04 618.55v-5.4M111.25 237.54h5.4M403.65 618.55v-5.4M111.25 326.15h5.4M492.26 618.55v-5.4M111.25 414.76h5.4M580.86 618.55v-5.4M111.25 503.36h5.4M669.47 618.55v-5.4M111.25 591.97h5.4" stroke="#000" stroke-width="1.45" fill="none"/>
<rect x="111.25" y="33.75" width="584.8" height="584.8" fill="none" stroke="#000" stroke-width="1.55"/>
<text x="137.83" y="644.55" text-anchor="middle">600</text>
<text x="226.44" y="644.55" text-anchor="middle">400</text>
<text x="315.04" y="644.55" text-anchor="middle">200</text>
<text x="403.65" y="644.55" text-anchor="middle">0</text>
<text x="492.26" y="644.55" text-anchor="middle">−200</text>
<text x="580.86" y="644.55" text-anchor="middle">−400</text>
<text x="669.47" y="644.55" text-anchor="middle">−600</text>
<path d="M760.68 618.55v-5.4M734.1 60.33h5.4M849.29 618.55v-5.4M734.1 148.94h5.4M937.89 618.55v-5.4M734.1 237.54h5.4M1026.5 618.55v-5.4M734.1 326.15h5.4M1115.11 618.55v-5.4M734.1 414.76h5.4M1203.71 618.55v-5.4M734.1 503.36h5.4M1292.32 618.55v-5.4M734.1 591.97h5.4" stroke="#000" stroke-width="1.45" fill="none"/>
<rect x="734.1" y="33.75" width="584.8" height="584.8" fill="none" stroke="#000" stroke-width="1.55"/>
<text x="760.68" y="644.55" text-anchor="middle">600</text>
<text x="849.29" y="644.55" text-anchor="middle">400</text>
<text x="937.89" y="644.55" text-anchor="middle">200</text>
<text x="1026.5" y="644.55" text-anchor="middle">0</text>
<text x="1115.11" y="644.55" text-anchor="middle">−200</text>
<text x="1203.71" y="644.55" text-anchor="middle">−400</text>
<text x="1292.32" y="644.55" text-anchor="middle">−600</text>
<path d="M1483.68 618.55v-5.4M1457.1 60.33h5.4M1572.29 618.55v-5.4M1457.1 148.94h5.4M1660.89 618.55v-5.4M1457.1 237.54h5.4M1749.5 618.55v-5.4M1457.1 326.15h5.4M1838.11 618.55v-5.4M1457.1 414.76h5.4M1926.71 618.55v-5.4M1457.1 503.36h5.4M2015.32 618.55v-5.4M1457.1 591.97h5.4" stroke="#000" stroke-width="1.45" fill="none"/>
<rect x="1457.1" y="33.75" width="584.8" height="584.8" fill="none" stroke="#000" stroke-width="1.55"/>
<text x="1483.68" y="644.55" text-anchor="middle">600</text>
<text x="1572.29" y="644.55" text-anchor="middle">400</text>
<text x="1660.89" y="644.55" text-anchor="middle">200</text>
<text x="1749.5" y="644.55" text-anchor="middle">0</text>
<text x="1838.11" y="644.55" text-anchor="middle">−200</text>
<text x="1926.71" y="644.55" text-anchor="middle">−400</text>
<text x="2015.32" y="644.55" text-anchor="middle">−600</text>
<text x="106.05" y="70.33" text-anchor="end">600</text>
<text x="106.05" y="158.94" text-anchor="end">400</text>
<text x="106.05" y="247.54" text-anchor="end">200</text>
<text x="106.05" y="336.15" text-anchor="end">0</text>
<text x="106.05" y="424.76" text-anchor="end">−200</text>
<text x="106.05" y="513.36" text-anchor="end">−400</text>
<text x="106.05" y="601.97" text-anchor="end">−600</text>
<path d="M137.83 1261.84v-5.4M111.25 703.62h5.4M226.44 1261.84v-5.4M111.25 792.23h5.4M315.04 1261.84v-5.4M111.25 880.83h5.4M403.65 1261.84v-5.4M111.25 969.44h5.4M492.26 1261.84v-5.4M111.25 1058.05h5.4M580.86 1261.84v-5.4M111.25 1146.65h5.4M669.47 1261.84v-5.4M111.25 1235.26h5.4" stroke="#000" stroke-width="1.45" fill="none"/>
<rect x="111.25" y="677.04" width="584.8" height="584.8" fill="none" stroke="#000" stroke-width="1.55"/>
<text x="137.83" y="1287.84" text-anchor="middle">150</text>
<text x="226.44" y="1287.84" text-anchor="middle">100</text>
<text x="315.04" y="1287.84" text-anchor="middle">50</text>
<text x="403.65" y="1287.84" text-anchor="middle">0</text>
<text x="492.26" y="1287.84" text-anchor="middle">−50</text>
<text x="580.86" y="1287.84" text-anchor="middle">−100</text>
<text x="669.47" y="1287.84" text-anchor="middle">−150</text>
<path d="M760.68 1261.84v-5.4M734.1 703.62h5.4M849.29 1261.84v-5.4M734.1 792.23h5.4M937.89 1261.84v-5.4M734.1 880.83h5.4M1026.5 1261.84v-5.4M734.1 969.44h5.4M1115.11 1261.84v-5.4M734.1 1058.05h5.4M1203.71 1261.84v-5.4M734.1 1146.65h5.4M1292.32 1261.84v-5.4M734.1 1235.26h5.4" stroke="#000" stroke-width="1.45" fill="none"/>
<rect x="734.1" y="677.04" width="584.8" height="584.8" fill="none" stroke="#000" stroke-width="1.55"/>
<text x="760.68" y="1287.84" text-anchor="middle">150</text>
<text x="849.29" y="1287.84" text-anchor="middle">100</text>
<text x="937.89" y="1287.84" text-anchor="middle">50</text>
<text x="1026.5" y="1287.84" text-anchor="middle">0</text>
<text x="1115.11" y="1287.84" text-anchor="middle">−50</text>
<text x="1203.71" y="1287.84" text-anchor="middle">−100</text>
<text x="1292.32" y="1287.84" text-anchor="middle">−150</text>
<path d="M1483.68 1261.84v-5.4M1457.1 703.62h5.4M1572.29 1261.84v-5.4M1457.1 792.23h5.4M1660.89 1261.84v-5.4M1457.1 880.83h5.4M1749.5 1261.84v-5.4M1457.1 969.44h5.4M1838.11 1261.84v-5.4M1457.1 1058.05h5.4M1926.71 1261.84v-5.4M1457.1 1146.65h5.4M2015.32 1261.84v-5.4M1457.1 1235.26h5.4" stroke="#000" stroke-width="1.45" fill="none"/>
<rect x="1457.1" y="677.04" width="584.8" height="584.8" fill="none" stroke="#000" stroke-width="1.55"/>
<text x="1483.68" y="1287.84" text-anchor="middle">150</text>
<text x="1572.29" y="1287.84" text-anchor="middle">100</text>
<text x="1660.89" y="1287.84" text-anchor="middle">50</text>
<text x="1749.5" y="1287.84" text-anchor="middle">0</text>
<text x="1838.11" y="1287.84" text-anchor="middle">−50</text>
<text x="1926.71" y="1287.84" text-anchor="middle">−100</text>
<text x="2015.32" y="1287.84" text-anchor="middle">−150</text>
<text x="106.05" y="713.62" text-anchor="end">150</text>
<text x="106.05" y="802.23" text-anchor="end">100</text>
<text x="106.05" y="890.83" text-anchor="end">50</text>
<text x="106.05" y="979.44" text-anchor="end">0</text>
<text x="106.05" y="1068.05" text-anchor="end">−50</text>
<text x="106.05" y="1156.65" text-anchor="end">−100</text>
<text x="106.05" y="1245.26" text-anchor="end">−150</text>
<path d="M137.83 1905.1v-5.4M111.25 1346.88h5.4M226.44 1905.1v-5.4M111.25 1435.49h5.4M315.04 1905.1v-5.4M111.25 1524.09h5.4M403.65 1905.1v-5.4M111.25 1612.7h5.4M492.26 1905.1v-5.4M111.25 1701.31h5.4M580.86 1905.1v-5.4M111.25 1789.91h5.4M669.47 1905.1v-5.4M111.25 1878.52h5.4" stroke="#000" stroke-width="1.45" fill="none"/>
<rect x="111.25" y="1320.3" width="584.8" height="584.8" fill="none" stroke="#000" stroke-width="1.55"/>
<text x="137.83" y="1931.1" text-anchor="middle">150</text>
<text x="226.44" y="1931.1" text-anchor="middle">100</text>
<text x="315.04" y="1931.1" text-anchor="middle">50</text>
<text x="403.65" y="1931.1" text-anchor="middle">0</text>
<text x="492.26" y="1931.1" text-anchor="middle">−50</text>
<text x="580.86" y="1931.1" text-anchor="middle">−100</text>
<text x="669.47" y="1931.1" text-anchor="middle">−150</text>
<path d="M760.68 1905.1v-5.4M734.1 1346.88h5.4M849.29 1905.1v-5.4M734.1 1435.49h5.4M937.89 1905.1v-5.4M734.1 1524.09h5.4M1026.5 1905.1v-5.4M734.1 1612.7h5.4M1115.11 1905.1v-5.4M734.1 1701.31h5.4M1203.71 1905.1v-5.4M734.1 1789.91h5.4M1292.32 1905.1v-5.4M734.1 1878.52h5.4" stroke="#000" stroke-width="1.45" fill="none"/>
<rect x="734.1" y="1320.3" width="584.8" height="584.8" fill="none" stroke="#000" stroke-width="1.55"/>
<text x="760.68" y="1931.1" text-anchor="middle">150</text>
<text x="849.29" y="1931.1" text-anchor="middle">100</text>
<text x="937.89" y="1931.1" text-anchor="middle">50</text>
<text x="1026.5" y="1931.1" text-anchor="middle">0</text>
<text x="1115.11" y="1931.1" text-anchor="middle">−50</text>
<text x="1203.71" y="1931.1" text-anchor="middle">−100</text>
<text x="1292.32" y="1931.1" text-anchor="middle">−150</text>
<path d="M1483.68 1905.1v-5.4M1457.1 1346.88h5.4M1572.29 1905.1v-5.4M1457.1 1435.49h5.4M1660.89 1905.1v-5.4M1457.1 1524.09h5.4M1749.5 1905.1v-5.4M1457.1 1612.7h5.4M1838.11 1905.1v-5.4M1457.1 1701.31h5.4M1926.71 1905.1v-5.4M1457.1 1789.91h5.4M2015.32 1905.1v-5.4M1457.1 1878.52h5.4" stroke="#000" stroke-width="1.45" fill="none"/>
<rect x="1457.1" y="1320.3" width="584.8" height="584.8" fill="none" stroke="#000" stroke-width="1.55"/>
<text x="1483.68" y="1931.1" text-anchor="middle">150</text>
<text x="1572.29" y="1931.1" text-anchor="middle">100</text>
<text x="1660.89" y="1931.1" text-anchor="middle">50</text>
<text x="1749.5" y="1931.1" text-anchor="middle">0</text>
<text x="1838.11" y="1931.1" text-anchor="middle">−50</text>
<text x="1926.71" y="1931.1" text-anchor="middle">−100</text>
<text x="2015.32" y="1931.1" text-anchor="middle">−150</text>
<text x="106.05" y="1356.88" text-anchor="end">150</text>
<text x="106.05" y="1445.49" text-anchor="end">100</text>
<text x="106.05" y="1534.09" text-anchor="end">50</text>
<text x="106.05" y="1622.7" text-anchor="end">0</text>
<text x="106.05" y="1711.31" text-anchor="end">−50</text>
<text x="106.05" y="1799.91" text-anchor="end">−100</text>
<text x="106.05" y="1888.52" text-anchor="end">−150</text>
<path d="M1329.85 60.33L1344.45 33.75L1359.05 60.33L1359.05 591.97L1344.45 618.55L1329.85 591.97Z" fill="url(#cb0)"/>
<text x="1364.45" y="579.16">0</text>
<text x="1364.45" y="479.97">1</text>
<text x="1364.45" y="380.78">2</text>
<text x="1364.45" y="281.6">3</text>
<text x="1364.45" y="182.41">4</text>
<text x="1364.45" y="83.23">5</text>
<path d="M1359.05 569.16h-5.2M1359.05 469.97h-5.2M1359.05 370.78h-5.2M1359.05 271.6h-5.2M1359.05 172.41h-5.2M1359.05 73.23h-5.2" stroke="#000" stroke-width="1.45" fill="none"/>
<path d="M1329.85 60.33L1344.45 33.75L1359.05 60.33L1359.05 591.97L1344.45 618.55L1329.85 591.97Z" fill="none" stroke="#000" stroke-width="1.45" stroke-linejoin="miter"/>
<path d="M1329.85 703.62L1344.45 677.04L1359.05 703.62L1359.05 1235.26L1344.45 1261.84L1329.85 1235.26Z" fill="url(#cb1)"/>
<text x="1364.45" y="1233.24">0.0</text>
<text x="1364.45" y="1152.05">0.1</text>
<text x="1364.45" y="1070.86">0.2</text>
<text x="1364.45" y="989.67">0.3</text>
<text x="1364.45" y="908.48">0.4</text>
<text x="1364.45" y="827.29">0.5</text>
<text x="1364.45" y="746.1">0.6</text>
<path d="M1359.05 1223.24h-5.2M1359.05 1142.05h-5.2M1359.05 1060.86h-5.2M1359.05 979.67h-5.2M1359.05 898.48h-5.2M1359.05 817.29h-5.2M1359.05 736.1h-5.2" stroke="#000" stroke-width="1.45" fill="none"/>
<path d="M1329.85 703.62L1344.45 677.04L1359.05 703.62L1359.05 1235.26L1344.45 1261.84L1329.85 1235.26Z" fill="none" stroke="#000" stroke-width="1.45" stroke-linejoin="miter"/>
<path d="M1329.85 1346.88L1344.45 1320.3L1359.05 1346.88L1359.05 1878.52L1344.45 1905.1L1329.85 1878.52Z" fill="url(#cb2)"/>
<text x="1364.45" y="1883.4">0</text>
<text x="1364.45" y="1791.99">1</text>
<text x="1364.45" y="1700.58">2</text>
<text x="1364.45" y="1609.17">3</text>
<text x="1364.45" y="1517.76">4</text>
<text x="1364.45" y="1426.35">5</text>
<path d="M1359.05 1873.4h-5.2M1359.05 1781.99h-5.2M1359.05 1690.58h-5.2M1359.05 1599.17h-5.2M1359.05 1507.76h-5.2M1359.05 1416.35h-5.2" stroke="#000" stroke-width="1.45" fill="none"/>
<path d="M1329.85 1346.88L1344.45 1320.3L1359.05 1346.88L1359.05 1878.52L1344.45 1905.1L1329.85 1878.52Z" fill="none" stroke="#000" stroke-width="1.45" stroke-linejoin="miter"/>
<path d="M2052.67 60.33L2067.27 33.75L2081.87 60.33L2081.87 591.97L2067.27 618.55L2052.67 591.97Z" fill="url(#cb3)"/>
<text x="2087.27" y="601.97">−40</text>
<text x="2087.27" y="535.51">−30</text>
<text x="2087.27" y="469.06">−20</text>
<text x="2087.27" y="402.6">−10</text>
<text x="2087.27" y="336.15">0</text>
<text x="2087.27" y="269.7">10</text>
<text x="2087.27" y="203.24">20</text>
<text x="2087.27" y="136.79">30</text>
<text x="2087.27" y="70.33">40</text>
<path d="M2081.87 591.97h-5.2M2081.87 525.51h-5.2M2081.87 459.06h-5.2M2081.87 392.6h-5.2M2081.87 326.15h-5.2M2081.87 259.7h-5.2M2081.87 193.24h-5.2M2081.87 126.79h-5.2M2081.87 60.33h-5.2" stroke="#000" stroke-width="1.45" fill="none"/>
<path d="M2052.67 60.33L2067.27 33.75L2081.87 60.33L2081.87 591.97L2067.27 618.55L2052.67 591.97Z" fill="none" stroke="#000" stroke-width="1.45" stroke-linejoin="miter"/>
<path d="M2052.67 703.62L2067.27 677.04L2081.87 703.62L2081.87 1235.26L2067.27 1261.84L2052.67 1235.26Z" fill="url(#cb4)"/>
<text x="2087.27" y="1245.26">−40</text>
<text x="2087.27" y="1178.8">−30</text>
<text x="2087.27" y="1112.35">−20</text>
<text x="2087.27" y="1045.89">−10</text>
<text x="2087.27" y="979.44">0</text>
<text x="2087.27" y="912.99">10</text>
<text x="2087.27" y="846.53">20</text>
<text x="2087.27" y="780.08">30</text>
<text x="2087.27" y="713.62">40</text>
<path d="M2081.87 1235.26h-5.2M2081.87 1168.8h-5.2M2081.87 1102.35h-5.2M2081.87 1035.89h-5.2M2081.87 969.44h-5.2M2081.87 902.99h-5.2M2081.87 836.53h-5.2M2081.87 770.08h-5.2M2081.87 703.62h-5.2" stroke="#000" stroke-width="1.45" fill="none"/>
<path d="M2052.67 703.62L2067.27 677.04L2081.87 703.62L2081.87 1235.26L2067.27 1261.84L2052.67 1235.26Z" fill="none" stroke="#000" stroke-width="1.45" stroke-linejoin="miter"/>
<path d="M2052.67 1346.88L2067.27 1320.3L2081.87 1346.88L2081.87 1878.52L2067.27 1905.1L2052.67 1878.52Z" fill="url(#cb5)"/>
<text x="2087.27" y="1888.52">−40</text>
<text x="2087.27" y="1822.06">−30</text>
<text x="2087.27" y="1755.61">−20</text>
<text x="2087.27" y="1689.15">−10</text>
<text x="2087.27" y="1622.7">0</text>
<text x="2087.27" y="1556.25">10</text>
<text x="2087.27" y="1489.79">20</text>
<text x="2087.27" y="1423.34">30</text>
<text x="2087.27" y="1356.88">40</text>
<path d="M2081.87 1878.52h-5.2M2081.87 1812.06h-5.2M2081.87 1745.61h-5.2M2081.87 1679.15h-5.2M2081.87 1612.7h-5.2M2081.87 1546.25h-5.2M2081.87 1479.79h-5.2M2081.87 1413.34h-5.2M2081.87 1346.88h-5.2" stroke="#000" stroke-width="1.45" fill="none"/>
<path d="M2052.67 1346.88L2067.27 1320.3L2081.87 1346.88L2081.87 1878.52L2067.27 1905.1L2052.67 1878.52Z" fill="none" stroke="#000" stroke-width="1.45" stroke-linejoin="miter"/>
<text transform="translate(1411.4 326.55) rotate(-90)" text-anchor="middle">mJy beam<tspan font-size="19.11" dy="-9.8">−1</tspan></text>
<text transform="translate(1437.4 969.84) rotate(-90)" text-anchor="middle">mJy beam<tspan font-size="19.11" dy="-9.8">−1</tspan></text>
<text transform="translate(1411.4 1613.1) rotate(-90)" text-anchor="middle">mJy beam<tspan font-size="19.11" dy="-9.8">−1</tspan></text>
<text transform="translate(2169.6 326.55) rotate(-90)" text-anchor="middle">%</text>
<text transform="translate(2169.6 969.84) rotate(-90)" text-anchor="middle">%</text>
<text transform="translate(2169.6 1613.1) rotate(-90)" text-anchor="middle">%</text>
<text x="403.65" y="1963.5" text-anchor="middle">Offset (au)</text>
<text transform="translate(20.7 1613.3) rotate(-90)" text-anchor="middle">Offset (au)</text>
</g>
<g font-size="32.6" fill="#000" text-anchor="middle">
<text x="403.85" y="23.9">Observations</text>
<text x="1026.7" y="23.9">Models</text>
<text x="1750.7" y="23.9">Relative Error</text>
</g>
<g font-size="36" fill="#fff">
<text x="125.35" y="77.6">Band 3</text>
<text x="125.35" y="720.89">Band 6</text>
<text x="125.35" y="1364.15">Band 7</text>
</g>
</svg>
</body></html>
